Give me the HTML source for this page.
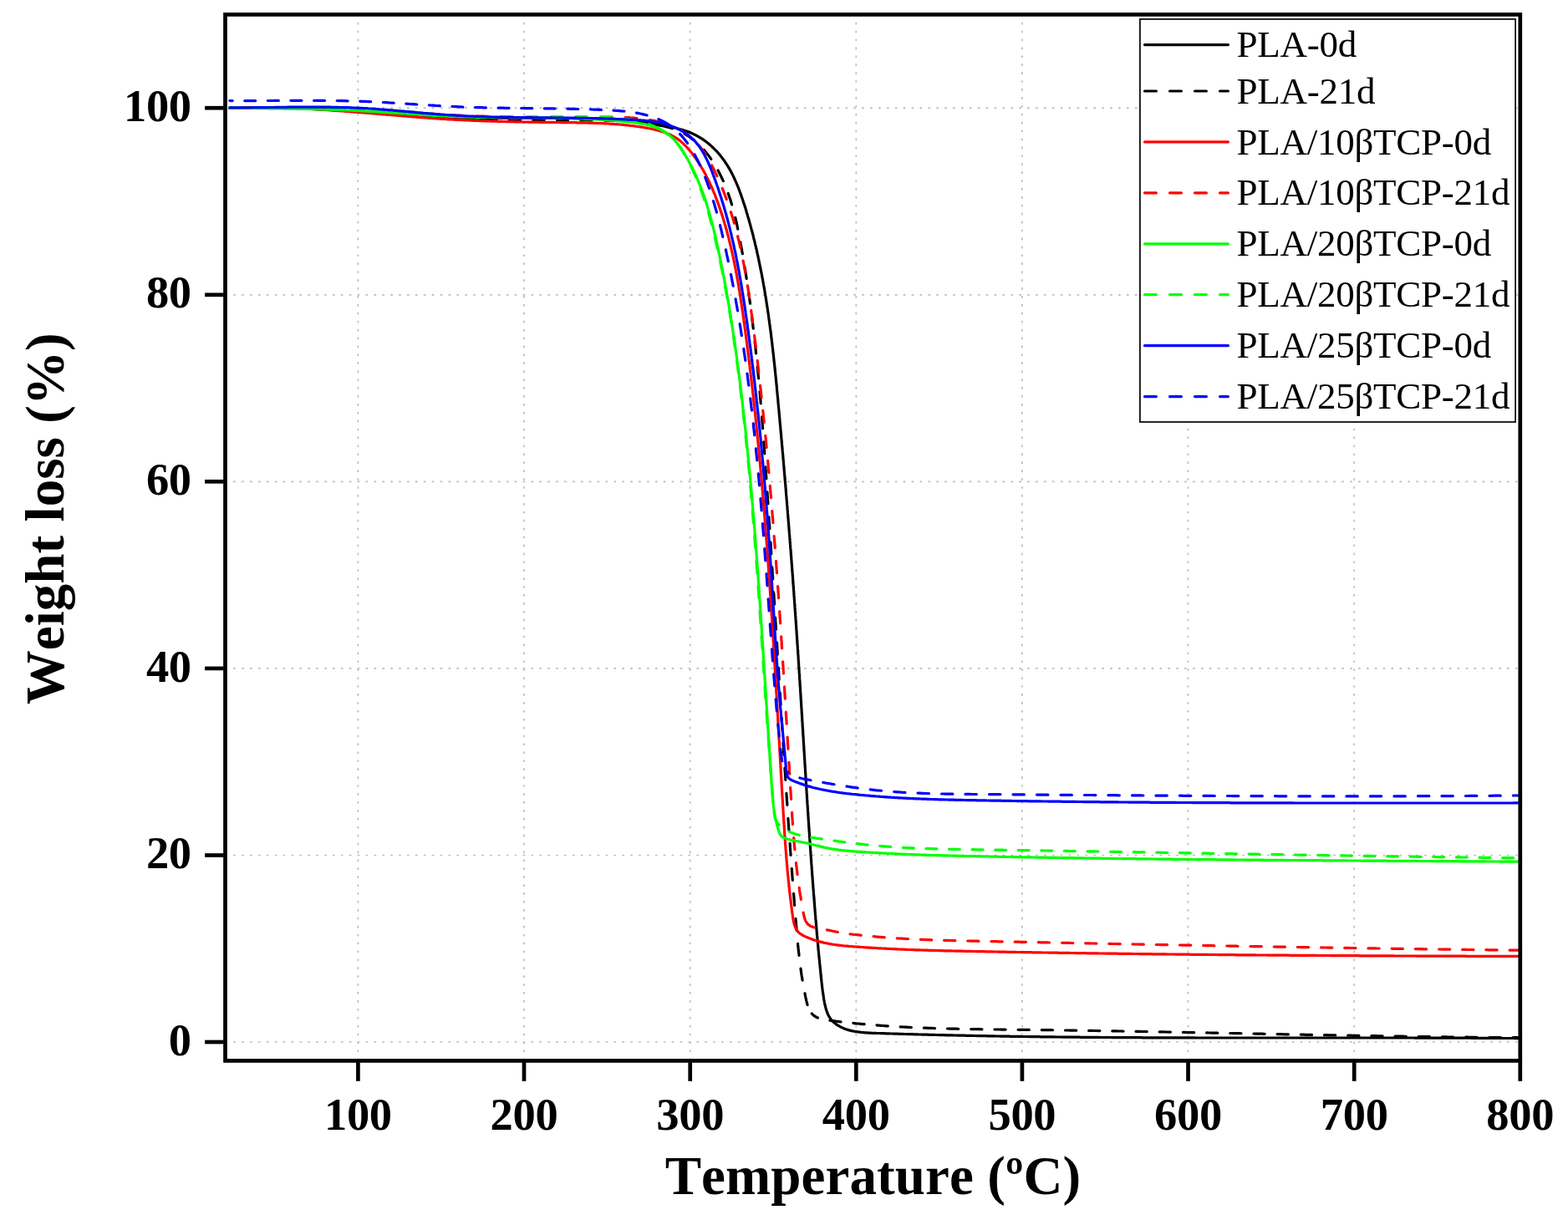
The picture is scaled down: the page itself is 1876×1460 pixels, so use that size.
<!DOCTYPE html>
<html lang="en">
<head>
<meta charset="utf-8">
<title>TGA weight loss curves</title>
<style>
html,body{margin:0;padding:0;background:#fff;}
body{width:1876px;height:1460px;overflow:hidden;}
svg{display:block;}
text{font-family:"Liberation Serif","DejaVu Serif",serif;fill:#000;font-kerning:none;font-variant-ligatures:none;}
.tick{font-weight:bold;font-size:54.5px;letter-spacing:-0.3px;}
.title{font-weight:bold;font-size:65px;letter-spacing:0.1px;}
.leg{font-size:45px;letter-spacing:-0.25px;}
.grid{stroke:#bdbdbd;stroke-width:1.7;stroke-dasharray:2.7 7.2;fill:none;}
.ax{stroke:#000;stroke-width:4.7;fill:none;}
.cv{fill:none;stroke-width:3.2;stroke-linejoin:round;stroke-linecap:round;}
.ds{stroke-dasharray:13.9 16.1;stroke-linecap:round;}
</style>
</head>
<body>
<svg width="1876" height="1460" viewBox="0 0 1876 1460">
<rect x="0" y="0" width="1876" height="1460" fill="#ffffff"/>
<defs><clipPath id="plot"><rect x="269.5" y="17.4" width="1549.3" height="1252.0"/></clipPath></defs>
<g class="grid">
<line x1="428.4" y1="16.80" x2="428.4" y2="1269.4" stroke-dasharray="2.700 7.218"/>
<line x1="627.0" y1="16.80" x2="627.0" y2="1269.4" stroke-dasharray="2.700 7.218"/>
<line x1="825.7" y1="16.80" x2="825.7" y2="1269.4" stroke-dasharray="2.700 7.218"/>
<line x1="1024.3" y1="16.80" x2="1024.3" y2="1269.4" stroke-dasharray="2.700 7.218"/>
<line x1="1222.9" y1="16.80" x2="1222.9" y2="1269.4" stroke-dasharray="2.700 7.218"/>
<line x1="1421.5" y1="16.80" x2="1421.5" y2="1269.4" stroke-dasharray="2.700 7.218"/>
<line x1="1620.2" y1="16.80" x2="1620.2" y2="1269.4" stroke-dasharray="2.700 7.218"/>
<line x1="269.32" y1="1247.0" x2="1818.8" y2="1247.0" stroke-dasharray="2.700 7.195"/>
<line x1="269.32" y1="1023.5" x2="1818.8" y2="1023.5" stroke-dasharray="2.700 7.195"/>
<line x1="269.32" y1="799.9" x2="1818.8" y2="799.9" stroke-dasharray="2.700 7.195"/>
<line x1="269.32" y1="576.3" x2="1818.8" y2="576.3" stroke-dasharray="2.700 7.195"/>
<line x1="269.32" y1="352.8" x2="1818.8" y2="352.8" stroke-dasharray="2.700 7.195"/>
<line x1="269.32" y1="129.2" x2="1818.8" y2="129.2" stroke-dasharray="2.700 7.195"/>
</g>
<g clip-path="url(#plot)">
<path class="cv" stroke="#000000" d="M274.8 129.2L276.8 129.1 278.8 129.0 280.8 129.0 282.8 128.9 284.8 128.9 286.8 128.9 288.8 128.8 290.8 128.8 292.8 128.8 294.8 128.7 296.8 128.7 298.8 128.7 300.8 128.7 302.8 128.7 304.8 128.7 306.8 128.7 308.8 128.7 310.8 128.7 312.8 128.7 314.8 128.7 316.8 128.7 318.8 128.8 320.8 128.8 322.8 128.8 324.8 128.8 326.8 128.9 328.8 128.9 330.8 129.0 332.8 129.0 334.8 129.0 336.8 129.1 338.8 129.1 340.8 129.2 342.8 129.3 344.8 129.3 346.8 129.4 348.8 129.4 350.8 129.5 352.8 129.6 354.8 129.7 356.8 129.7 358.8 129.8 360.8 129.9 362.8 130.0 364.8 130.1 366.7 130.1 368.7 130.2 370.7 130.3 372.7 130.4 374.7 130.5 376.7 130.6 378.7 130.7 380.7 130.8 382.7 130.9 384.7 131.0 386.7 131.1 388.7 131.2 390.7 131.3 392.7 131.4 394.7 131.5 396.7 131.7 398.7 131.8 400.7 131.9 402.7 132.0 404.7 132.1 406.7 132.2 408.7 132.4 410.6 132.5 412.6 132.6 414.6 132.7 416.6 132.9 418.6 133.0 420.6 133.1 422.6 133.2 424.6 133.4 426.6 133.5 428.6 133.6 430.6 133.7 432.6 133.9 434.6 134.0 436.6 134.1 438.6 134.3 440.6 134.4 442.6 134.5 444.6 134.7 446.6 134.8 448.5 134.9 450.5 135.0 452.5 135.2 454.5 135.3 456.5 135.4 458.5 135.6 460.5 135.7 462.5 135.8 464.5 136.0 466.5 136.1 468.5 136.2 470.5 136.4 472.5 136.5 474.5 136.6 476.5 136.7 478.5 136.9 480.5 137.0 482.5 137.1 484.4 137.2 486.4 137.4 488.4 137.5 490.4 137.6 492.4 137.7 494.4 137.9 496.4 138.0 498.4 138.1 500.4 138.2 502.4 138.3 504.4 138.4 506.4 138.6 508.4 138.7 510.4 138.8 512.4 138.9 514.4 139.0 516.4 139.1 518.4 139.2 520.4 139.3 522.4 139.4 524.4 139.5 526.3 139.6 528.3 139.7 530.3 139.8 532.3 139.9 534.3 140.0 536.3 140.1 538.3 140.1 540.3 140.2 542.3 140.3 544.3 140.4 546.3 140.5 548.3 140.5 550.3 140.6 552.3 140.7 554.3 140.7 556.3 140.8 558.3 140.9 560.3 140.9 562.3 141.0 564.3 141.0 566.3 141.1 568.3 141.1 570.3 141.2 572.3 141.2 574.3 141.3 576.3 141.3 578.3 141.3 580.3 141.4 582.3 141.4 584.3 141.4 586.3 141.4 588.3 141.4 590.3 141.5 592.3 141.5 594.3 141.5 596.3 141.5 598.3 141.5 600.3 141.5 602.3 141.5 604.3 141.5 606.3 141.5 608.3 141.5 610.3 141.5 612.3 141.5 614.3 141.5 616.3 141.5 618.2 141.5 620.2 141.5 622.2 141.5 624.2 141.5 626.2 141.5 628.2 141.5 630.2 141.5 632.2 141.5 634.2 141.4 636.2 141.4 638.2 141.4 640.2 141.4 642.2 141.4 644.2 141.4 646.2 141.4 648.2 141.4 650.2 141.4 652.2 141.4 654.2 141.4 656.2 141.4 658.2 141.4 660.2 141.4 662.2 141.4 664.2 141.4 666.2 141.4 668.2 141.4 670.2 141.4 672.2 141.4 674.2 141.4 676.2 141.5 678.2 141.5 680.2 141.5 682.2 141.5 684.2 141.5 686.2 141.6 688.2 141.6 690.2 141.6 692.2 141.7 694.2 141.7 696.2 141.8 698.2 141.8 700.2 141.9 702.2 141.9 704.2 142.0 706.2 142.0 708.2 142.1 710.2 142.2 712.2 142.3 714.2 142.3 716.2 142.4 718.1 142.5 720.1 142.6 722.1 142.7 724.1 142.8 726.1 142.9 728.1 143.0 730.1 143.1 732.1 143.3 734.1 143.4 736.1 143.5 738.1 143.7 740.1 143.8 742.1 144.0 744.1 144.1 746.0 144.3 748.0 144.4 750.0 144.6 752.0 144.8 754.0 145.0 756.0 145.2 758.0 145.4 760.0 145.6 762.0 145.8 764.0 146.0 765.9 146.3 767.9 146.5 769.9 146.7 771.9 147.0 773.9 147.2 775.9 147.5 777.9 147.8 779.8 148.1 781.8 148.4 783.8 148.7 785.8 149.0 787.8 149.3 789.8 149.6 791.8 149.9 793.7 150.3 795.7 150.6 797.7 151.0 799.7 151.4 801.6 151.7 803.6 152.2 805.6 152.6 807.5 153.0 809.5 153.5 811.4 154.0 813.3 154.5 815.2 155.1 817.1 155.6 819.0 156.2 820.9 156.9 822.8 157.5 824.6 158.2 826.5 159.0 828.3 159.8 830.1 160.6 831.8 161.5 833.6 162.4 835.3 163.3 837.0 164.3 838.7 165.4 840.4 166.4 842.0 167.6 843.7 168.7 845.3 169.9 846.8 171.2 848.4 172.4 849.9 173.7 851.4 175.1 852.9 176.5 854.3 177.9 855.7 179.3 857.1 180.7 858.5 182.2 859.8 183.7 861.1 185.3 862.3 186.8 863.6 188.4 864.8 190.0 866.0 191.6 867.1 193.2 868.2 194.9 869.3 196.5 870.4 198.2 871.4 199.9 872.4 201.6 873.4 203.3 874.4 205.1 875.3 206.8 876.2 208.6 877.1 210.4 878.0 212.2 878.8 214.0 879.6 215.8 880.4 217.6 881.2 219.4 882.0 221.3 882.8 223.1 883.5 225.0 884.2 226.8 884.9 228.7 885.6 230.6 886.3 232.5 887.0 234.4 887.6 236.3 888.3 238.2 888.9 240.1 889.5 242.0 890.2 243.9 890.8 245.8 891.4 247.7 892.0 249.6 892.6 251.6 893.1 253.5 893.7 255.4 894.3 257.3 894.8 259.2 895.4 261.2 896.0 263.1 896.5 265.0 897.0 266.9 897.6 268.9 898.1 270.8 898.6 272.7 899.1 274.7 899.7 276.6 900.2 278.5 900.7 280.5 901.2 282.4 901.6 284.4 902.1 286.3 902.6 288.2 903.1 290.2 903.5 292.1 904.0 294.1 904.5 296.0 904.9 298.0 905.4 299.9 905.8 301.9 906.2 303.8 906.7 305.8 907.1 307.7 907.5 309.7 907.9 311.6 908.3 313.6 908.7 315.5 909.1 317.5 909.5 319.4 909.9 321.4 910.3 323.3 910.7 325.3 911.1 327.3 911.5 329.2 911.8 331.2 912.2 333.1 912.6 335.1 912.9 337.1 913.3 339.0 913.6 341.0 914.0 343.0 914.3 344.9 914.7 346.9 915.0 348.9 915.3 350.8 915.6 352.8 916.0 354.8 916.3 356.8 916.6 358.7 916.9 360.7 917.2 362.7 917.5 364.7 917.8 366.6 918.1 368.6 918.4 370.6 918.7 372.6 919.0 374.5 919.3 376.5 919.6 378.5 919.8 380.5 920.1 382.4 920.4 384.4 920.6 386.4 920.9 388.4 921.2 390.4 921.4 392.4 921.7 394.3 922.0 396.3 922.2 398.3 922.5 400.3 922.7 402.3 922.9 404.3 923.2 406.2 923.4 408.2 923.7 410.2 923.9 412.2 924.1 414.2 924.4 416.2 924.6 418.2 924.8 420.1 925.0 422.1 925.3 424.1 925.5 426.1 925.7 428.1 925.9 430.1 926.1 432.1 926.3 434.1 926.6 436.1 926.8 438.1 927.0 440.0 927.2 442.0 927.4 444.0 927.6 446.0 927.8 448.0 928.0 450.0 928.2 452.0 928.4 454.0 928.6 456.0 928.8 458.0 929.0 460.0 929.2 462.0 929.4 463.9 929.5 465.9 929.7 467.9 929.9 469.9 930.1 471.9 930.3 473.9 930.5 475.9 930.7 477.9 930.9 479.9 931.0 481.9 931.2 483.9 931.4 485.9 931.6 487.9 931.8 489.9 932.0 491.8 932.1 493.8 932.3 495.8 932.5 497.8 932.7 499.8 932.9 501.8 933.0 503.8 933.2 505.8 933.4 507.8 933.6 509.8 933.8 511.8 933.9 513.8 934.1 515.8 934.3 517.7 934.5 519.7 934.7 521.7 934.8 523.7 935.0 525.7 935.2 527.7 935.4 529.7 935.5 531.7 935.7 533.7 935.9 535.7 936.1 537.7 936.2 539.7 936.4 541.7 936.6 543.6 936.8 545.6 936.9 547.6 937.1 549.6 937.3 551.6 937.4 553.6 937.6 555.6 937.8 557.6 938.0 559.6 938.1 561.6 938.3 563.6 938.5 565.6 938.6 567.5 938.8 569.5 939.0 571.5 939.1 573.5 939.3 575.5 939.5 577.5 939.7 579.5 939.8 581.5 940.0 583.5 940.2 585.5 940.3 587.5 940.5 589.5 940.6 591.4 940.8 593.4 941.0 595.4 941.1 597.4 941.3 599.4 941.5 601.4 941.6 603.4 941.8 605.4 942.0 607.4 942.1 609.4 942.3 611.4 942.4 613.4 942.6 615.3 942.8 617.3 942.9 619.3 943.1 621.3 943.2 623.3 943.4 625.3 943.6 627.3 943.7 629.3 943.9 631.3 944.0 633.3 944.2 635.3 944.3 637.2 944.5 639.2 944.7 641.2 944.8 643.2 945.0 645.2 945.1 647.2 945.3 649.2 945.4 651.2 945.6 653.2 945.7 655.2 945.9 657.2 946.1 659.2 946.2 661.1 946.4 663.1 946.5 665.1 946.7 667.1 946.8 669.1 947.0 671.1 947.1 673.1 947.3 675.1 947.4 677.1 947.6 679.1 947.7 681.1 947.9 683.1 948.0 685.1 948.2 687.0 948.3 689.0 948.5 691.0 948.6 693.0 948.7 695.0 948.9 697.0 949.0 699.0 949.2 701.0 949.3 703.0 949.5 705.0 949.6 707.0 949.8 709.0 949.9 711.0 950.0 712.9 950.2 714.9 950.3 716.9 950.5 718.9 950.6 720.9 950.8 722.9 950.9 724.9 951.0 726.9 951.2 728.9 951.3 730.9 951.5 732.9 951.6 734.9 951.7 736.9 951.9 738.9 952.0 740.9 952.2 742.8 952.3 744.8 952.4 746.8 952.6 748.8 952.7 750.8 952.8 752.8 953.0 754.8 953.1 756.8 953.2 758.8 953.4 760.8 953.5 762.8 953.6 764.8 953.8 766.8 953.9 768.8 954.0 770.8 954.2 772.8 954.3 774.8 954.4 776.7 954.6 778.7 954.7 780.7 954.8 782.7 955.0 784.7 955.1 786.7 955.2 788.7 955.3 790.7 955.5 792.7 955.6 794.7 955.7 796.7 955.9 798.7 956.0 800.7 956.1 802.7 956.2 804.7 956.4 806.7 956.5 808.7 956.6 810.7 956.7 812.7 956.9 814.7 957.0 816.7 957.1 818.7 957.2 820.6 957.4 822.6 957.5 824.6 957.6 826.6 957.7 828.6 957.9 830.6 958.0 832.6 958.1 834.6 958.2 836.6 958.4 838.6 958.5 840.6 958.6 842.6 958.7 844.6 958.9 846.6 959.0 848.6 959.1 850.6 959.2 852.6 959.4 854.6 959.5 856.6 959.6 858.6 959.7 860.6 959.8 862.6 960.0 864.6 960.1 866.6 960.2 868.6 960.3 870.6 960.5 872.6 960.6 874.6 960.7 876.6 960.8 878.5 960.9 880.5 961.1 882.5 961.2 884.5 961.3 886.5 961.4 888.5 961.6 890.5 961.7 892.5 961.8 894.5 961.9 896.5 962.0 898.5 962.2 900.5 962.3 902.5 962.4 904.5 962.5 906.5 962.7 908.5 962.8 910.5 962.9 912.5 963.0 914.5 963.1 916.5 963.3 918.5 963.4 920.5 963.5 922.5 963.6 924.5 963.8 926.5 963.9 928.5 964.0 930.5 964.1 932.5 964.3 934.5 964.4 936.4 964.5 938.4 964.6 940.4 964.8 942.4 964.9 944.4 965.0 946.4 965.1 948.4 965.3 950.4 965.4 952.4 965.5 954.4 965.6 956.4 965.8 958.4 965.9 960.4 966.0 962.4 966.2 964.4 966.3 966.4 966.4 968.4 966.5 970.4 966.7 972.4 966.8 974.4 966.9 976.4 967.1 978.4 967.2 980.3 967.3 982.3 967.5 984.3 967.6 986.3 967.7 988.3 967.9 990.3 968.0 992.3 968.1 994.3 968.3 996.3 968.4 998.3 968.5 1000.3 968.7 1002.3 968.8 1004.3 968.9 1006.3 969.1 1008.3 969.2 1010.3 969.3 1012.3 969.5 1014.3 969.6 1016.2 969.8 1018.2 969.9 1020.2 970.0 1022.2 970.2 1024.2 970.3 1026.2 970.5 1028.2 970.6 1030.2 970.7 1032.2 970.9 1034.2 971.0 1036.2 971.2 1038.2 971.3 1040.2 971.5 1042.1 971.6 1044.1 971.7 1046.1 971.9 1048.1 972.0 1050.1 972.2 1052.1 972.3 1054.1 972.5 1056.1 972.6 1058.1 972.8 1060.1 972.9 1062.1 973.1 1064.1 973.2 1066.0 973.4 1068.0 973.5 1070.0 973.7 1072.0 973.9 1074.0 974.0 1076.0 974.2 1078.0 974.3 1080.0 974.5 1082.0 974.6 1084.0 974.8 1085.9 975.0 1087.9 975.1 1089.9 975.3 1091.9 975.4 1093.9 975.6 1095.9 975.8 1097.9 975.9 1099.9 976.1 1101.9 976.3 1103.8 976.4 1105.8 976.6 1107.8 976.8 1109.8 976.9 1111.8 977.1 1113.8 977.3 1115.8 977.4 1117.8 977.6 1119.7 977.8 1121.7 978.0 1123.7 978.1 1125.7 978.3 1127.7 978.5 1129.7 978.7 1131.7 978.9 1133.7 979.0 1135.6 979.2 1137.6 979.4 1139.6 979.6 1141.6 979.8 1143.6 980.0 1145.6 980.2 1147.6 980.4 1149.6 980.6 1151.6 980.8 1153.6 981.0 1155.6 981.2 1157.5 981.4 1159.5 981.6 1161.5 981.8 1163.5 982.0 1165.5 982.2 1167.5 982.4 1169.5 982.6 1171.5 982.8 1173.5 983.0 1175.5 983.3 1177.5 983.5 1179.5 983.7 1181.5 984.0 1183.5 984.2 1185.5 984.5 1187.6 984.8 1189.6 985.1 1191.6 985.4 1193.6 985.7 1195.7 986.1 1197.7 986.4 1199.7 986.8 1201.7 987.3 1203.7 987.8 1205.7 988.3 1207.6 988.9 1209.5 989.6 1211.4 990.3 1213.2 991.1 1214.9 992.0 1216.6 993.0 1218.2 994.1 1219.7 995.3 1221.1 996.6 1222.5 998.0 1223.8 999.5 1225.0 1001.0 1226.1 1002.6 1227.2 1004.3 1228.1 1006.0 1229.1 1007.8 1229.9 1009.6 1230.7 1011.4 1231.4 1013.2 1232.0 1015.1 1232.6 1017.0 1233.1 1019.0 1233.6 1020.9 1234.0 1022.9 1234.4 1024.9 1234.7 1026.9 1235.0 1028.9 1235.2 1030.9 1235.5 1033.0 1235.6 1035.0 1235.8 1037.1 1235.9 1039.2 1236.1 1041.2 1236.2 1043.3 1236.3 1045.4 1236.3 1047.4 1236.4 1049.5 1236.5 1051.5 1236.5 1053.6 1236.6 1055.6 1236.7 1057.7 1236.7 1059.7 1236.8 1061.7 1236.9 1063.7 1236.9 1065.8 1237.0 1067.8 1237.0 1069.8 1237.1 1071.8 1237.2 1073.8 1237.2 1075.8 1237.3 1077.8 1237.3 1079.8 1237.4 1081.8 1237.5 1083.8 1237.5 1085.8 1237.6 1087.8 1237.6 1089.8 1237.7 1091.8 1237.7 1093.8 1237.8 1095.8 1237.9 1097.7 1237.9 1099.7 1238.0 1101.7 1238.0 1103.7 1238.1 1105.7 1238.1 1107.7 1238.2 1109.7 1238.2 1111.7 1238.3 1113.7 1238.3 1115.7 1238.4 1117.6 1238.4 1119.6 1238.5 1121.6 1238.5 1123.6 1238.6 1125.6 1238.6 1127.6 1238.7 1129.6 1238.7 1131.6 1238.8 1133.6 1238.8 1135.6 1238.9 1137.5 1238.9 1139.5 1238.9 1141.5 1239.0 1143.5 1239.0 1145.5 1239.1 1147.5 1239.1 1149.5 1239.2 1151.5 1239.2 1153.5 1239.2 1155.5 1239.3 1157.5 1239.3 1159.5 1239.4 1161.4 1239.4 1163.4 1239.4 1165.4 1239.5 1167.4 1239.5 1169.4 1239.6 1171.4 1239.6 1173.4 1239.6 1175.4 1239.7 1177.4 1239.7 1179.4 1239.7 1181.4 1239.8 1183.4 1239.8 1185.4 1239.9 1187.4 1239.9 1189.4 1239.9 1191.3 1240.0 1193.3 1240.0 1195.3 1240.0 1197.3 1240.1 1199.3 1240.1 1201.3 1240.1 1203.3 1240.2 1205.3 1240.2 1207.3 1240.2 1209.3 1240.3 1211.3 1240.3 1213.3 1240.3 1215.3 1240.3 1217.3 1240.4 1219.3 1240.4 1221.3 1240.4 1223.3 1240.5 1225.3 1240.5 1227.3 1240.5 1229.2 1240.5 1231.2 1240.6 1233.2 1240.6 1235.2 1240.6 1237.2 1240.7 1239.2 1240.7 1241.2 1240.7 1243.2 1240.7 1245.2 1240.8 1247.2 1240.8 1249.2 1240.8 1251.2 1240.8 1253.2 1240.9 1255.2 1240.9 1257.2 1240.9 1259.2 1240.9 1261.2 1240.9 1263.2 1241.0 1265.2 1241.0 1267.2 1241.0 1269.2 1241.0 1271.2 1241.1 1273.2 1241.1 1275.2 1241.1 1277.2 1241.1 1279.2 1241.1 1281.2 1241.2 1283.2 1241.2 1285.2 1241.2 1287.2 1241.2 1289.2 1241.2 1291.1 1241.2 1293.1 1241.3 1295.1 1241.3 1297.1 1241.3 1299.1 1241.3 1301.1 1241.3 1303.1 1241.3 1305.1 1241.4 1307.1 1241.4 1309.1 1241.4 1311.1 1241.4 1313.1 1241.4 1315.1 1241.4 1317.1 1241.5 1319.1 1241.5 1321.1 1241.5 1323.1 1241.5 1325.1 1241.5 1327.1 1241.5 1329.1 1241.5 1331.1 1241.6 1333.1 1241.6 1335.1 1241.6 1337.1 1241.6 1339.1 1241.6 1341.1 1241.6 1343.1 1241.6 1345.1 1241.6 1347.1 1241.7 1349.1 1241.7 1351.1 1241.7 1353.1 1241.7 1355.1 1241.7 1357.1 1241.7 1359.1 1241.7 1361.1 1241.7 1363.1 1241.7 1365.1 1241.7 1367.1 1241.8 1369.1 1241.8 1371.1 1241.8 1373.1 1241.8 1375.1 1241.8 1377.1 1241.8 1379.1 1241.8 1381.1 1241.8 1383.1 1241.8 1385.1 1241.8 1387.1 1241.8 1389.1 1241.8 1391.1 1241.8 1393.1 1241.9 1395.1 1241.9 1397.1 1241.9 1399.1 1241.9 1401.1 1241.9 1403.1 1241.9 1405.1 1241.9 1407.1 1241.9 1409.1 1241.9 1411.1 1241.9 1413.1 1241.9 1415.1 1241.9 1417.1 1241.9 1419.1 1241.9 1421.1 1241.9 1423.1 1241.9 1425.1 1241.9 1427.1 1241.9 1429.1 1241.9 1431.1 1242.0 1433.1 1242.0 1435.1 1242.0 1437.1 1242.0 1439.1 1242.0 1441.1 1242.0 1443.1 1242.0 1445.1 1242.0 1447.1 1242.0 1449.1 1242.0 1451.1 1242.0 1453.1 1242.0 1455.1 1242.0 1457.1 1242.0 1459.1 1242.0 1461.1 1242.0 1463.1 1242.0 1465.1 1242.0 1467.1 1242.0 1469.1 1242.0 1471.1 1242.0 1473.1 1242.0 1475.1 1242.0 1477.2 1242.0 1479.2 1242.0 1481.2 1242.0 1483.2 1242.0 1485.2 1242.0 1487.2 1242.0 1489.2 1242.0 1491.2 1242.0 1493.2 1242.0 1495.2 1242.0 1497.2 1242.0 1499.2 1242.0 1501.2 1242.0 1503.2 1242.0 1505.2 1242.0 1507.2 1242.0 1509.2 1242.0 1511.2 1242.0 1513.2 1242.0 1515.2 1242.0 1517.2 1242.0 1519.2 1242.0 1521.2 1242.0 1523.2 1242.0 1525.2 1242.0 1527.2 1242.0 1529.2 1242.0 1531.2 1242.0 1533.2 1242.0 1535.2 1242.0 1537.2 1242.0 1539.2 1242.0 1541.2 1242.0 1543.2 1242.0 1545.2 1242.0 1547.2 1242.0 1549.2 1242.0 1551.2 1242.0 1553.2 1242.0 1555.2 1242.0 1557.2 1242.0 1559.2 1242.0 1561.2 1242.0 1563.2 1242.0 1565.2 1242.0 1567.2 1242.0 1569.2 1242.0 1571.2 1242.0 1573.2 1242.0 1575.2 1242.0 1577.2 1242.0 1579.2 1242.0 1581.2 1242.0 1583.2 1242.0 1585.2 1242.0 1587.2 1242.0 1589.2 1242.0 1591.2 1242.0 1593.2 1242.0 1595.2 1242.0 1597.2 1242.0 1599.2 1242.0 1601.2 1242.0 1603.2 1242.0 1605.2 1242.0 1607.2 1242.0 1609.2 1242.0 1611.2 1242.0 1613.2 1242.0 1615.2 1242.0 1617.2 1242.0 1619.2 1242.0 1621.2 1242.0 1623.2 1242.0 1625.2 1242.0 1627.2 1242.0 1629.2 1242.0 1631.2 1242.0 1633.2 1242.0 1635.2 1242.0 1637.2 1242.0 1639.2 1242.0 1641.2 1242.0 1643.2 1242.0 1645.2 1242.0 1647.2 1242.0 1649.2 1242.0 1651.2 1242.0 1653.2 1242.0 1655.2 1242.0 1657.2 1242.0 1659.2 1242.0 1661.2 1242.0 1663.2 1242.0 1665.2 1242.0 1667.2 1242.0 1669.2 1242.0 1671.2 1242.0 1673.2 1242.0 1675.2 1242.0 1677.2 1242.0 1679.2 1242.0 1681.2 1242.0 1683.2 1242.0 1685.2 1242.0 1687.2 1242.0 1689.2 1242.0 1691.2 1242.0 1693.2 1242.1 1695.2 1242.1 1697.2 1242.1 1699.2 1242.1 1701.2 1242.1 1703.2 1242.1 1705.2 1242.1 1707.2 1242.1 1709.2 1242.1 1711.2 1242.1 1713.2 1242.1 1715.2 1242.1 1717.2 1242.1 1719.2 1242.1 1721.2 1242.1 1723.2 1242.1 1725.2 1242.1 1727.2 1242.1 1729.2 1242.1 1731.2 1242.1 1733.2 1242.1 1735.2 1242.2 1737.1 1242.2 1739.1 1242.2 1741.1 1242.2 1743.1 1242.2 1745.1 1242.2 1747.1 1242.2 1749.1 1242.2 1751.1 1242.2 1753.1 1242.2 1755.1 1242.2 1757.1 1242.2 1759.1 1242.2 1761.1 1242.3 1763.1 1242.3 1765.1 1242.3 1767.1 1242.3 1769.1 1242.3 1771.1 1242.3 1773.1 1242.3 1775.1 1242.3 1777.1 1242.3 1779.1 1242.3 1781.1 1242.3 1783.1 1242.4 1785.1 1242.4 1787.0 1242.4 1789.0 1242.4 1791.0 1242.4 1793.0 1242.4 1795.0 1242.4 1797.0 1242.4 1799.0 1242.5 1801.0 1242.5 1803.0 1242.5 1805.0 1242.5 1807.0 1242.5 1809.0 1242.5 1811.0 1242.5 1813.0 1242.6 1815.0 1242.6 1817.0 1242.6"/>
<path class="cv" stroke="#000000" stroke-dasharray="13.39 15.11" stroke-dashoffset="7.03" d="M274.8 129.3L276.8 129.3 278.8 129.2 280.8 129.1 282.8 129.0 284.8 129.0 286.8 128.9 288.8 128.9 290.8 128.8 292.8 128.8 294.8 128.7 296.8 128.7 298.8 128.7 300.8 128.6 302.8 128.6 304.8 128.6 306.8 128.6 308.8 128.6 310.8 128.6 312.8 128.6 314.8 128.6 316.8 128.6 318.8 128.6 320.8 128.6 322.8 128.6 324.8 128.6 326.8 128.6 328.8 128.7 330.8 128.7 332.8 128.7 334.8 128.8 336.8 128.8 338.8 128.9 340.8 128.9 342.8 129.0 344.8 129.0 346.8 129.1 348.8 129.1 350.8 129.2 352.8 129.3 354.8 129.3 356.8 129.4 358.8 129.5 360.8 129.6 362.8 129.6 364.8 129.7 366.8 129.8 368.8 129.9 370.8 130.0 372.8 130.1 374.8 130.2 376.8 130.3 378.8 130.4 380.8 130.5 382.8 130.6 384.8 130.7 386.8 130.8 388.8 130.9 390.8 131.0 392.8 131.1 394.8 131.3 396.7 131.4 398.7 131.5 400.7 131.6 402.7 131.8 404.7 131.9 406.7 132.0 408.7 132.1 410.7 132.3 412.7 132.4 414.7 132.5 416.7 132.7 418.7 132.8 420.7 132.9 422.7 133.1 424.7 133.2 426.7 133.3 428.7 133.5 430.6 133.6 432.6 133.8 434.6 133.9 436.6 134.1 438.6 134.2 440.6 134.3 442.6 134.5 444.6 134.6 446.6 134.8 448.6 134.9 450.6 135.1 452.6 135.2 454.6 135.4 456.6 135.5 458.6 135.7 460.6 135.8 462.5 136.0 464.5 136.1 466.5 136.3 468.5 136.4 470.5 136.6 472.5 136.7 474.5 136.9 476.5 137.0 478.5 137.1 480.5 137.3 482.5 137.4 484.5 137.6 486.5 137.7 488.5 137.9 490.5 138.0 492.4 138.2 494.4 138.3 496.4 138.4 498.4 138.6 500.4 138.7 502.4 138.9 504.4 139.0 506.4 139.1 508.4 139.3 510.4 139.4 512.4 139.5 514.4 139.7 516.4 139.8 518.4 139.9 520.4 140.0 522.4 140.2 524.4 140.3 526.4 140.4 528.4 140.5 530.3 140.6 532.3 140.8 534.3 140.9 536.3 141.0 538.3 141.1 540.3 141.2 542.3 141.3 544.3 141.4 546.3 141.5 548.3 141.6 550.3 141.7 552.3 141.8 554.3 141.9 556.3 142.0 558.3 142.1 560.3 142.1 562.3 142.2 564.3 142.3 566.3 142.4 568.3 142.5 570.3 142.5 572.3 142.6 574.3 142.7 576.3 142.7 578.3 142.8 580.3 142.8 582.3 142.9 584.3 142.9 586.3 143.0 588.3 143.0 590.3 143.1 592.3 143.1 594.3 143.1 596.3 143.2 598.3 143.2 600.3 143.2 602.3 143.3 604.3 143.3 606.3 143.3 608.3 143.3 610.3 143.4 612.3 143.4 614.3 143.4 616.3 143.4 618.3 143.4 620.3 143.4 622.3 143.5 624.3 143.5 626.3 143.5 628.3 143.5 630.3 143.5 632.3 143.5 634.3 143.5 636.3 143.5 638.3 143.5 640.3 143.5 642.3 143.5 644.3 143.5 646.3 143.5 648.3 143.5 650.3 143.5 652.3 143.5 654.3 143.5 656.3 143.5 658.3 143.5 660.3 143.5 662.3 143.5 664.3 143.5 666.3 143.5 668.3 143.5 670.3 143.5 672.3 143.5 674.3 143.5 676.3 143.5 678.3 143.6 680.3 143.6 682.3 143.6 684.3 143.6 686.3 143.6 688.3 143.6 690.3 143.6 692.3 143.6 694.3 143.6 696.3 143.7 698.3 143.7 700.3 143.7 702.3 143.7 704.3 143.7 706.3 143.8 708.3 143.8 710.3 143.8 712.3 143.8 714.3 143.9 716.2 143.9 718.2 143.9 720.2 144.0 722.2 144.0 724.2 144.1 726.2 144.1 728.2 144.2 730.2 144.2 732.2 144.3 734.2 144.4 736.2 144.4 738.2 144.5 740.1 144.6 742.1 144.7 744.1 144.8 746.1 144.9 748.1 145.0 750.1 145.1 752.1 145.3 754.1 145.4 756.1 145.6 758.1 145.7 760.0 145.9 762.0 146.1 764.0 146.3 766.0 146.5 768.0 146.7 770.0 147.0 772.0 147.2 774.0 147.5 776.0 147.8 778.0 148.1 780.0 148.4 782.0 148.7 784.0 149.1 786.0 149.4 788.0 149.8 789.9 150.2 790.9 150.4"/>
<path class="cv" stroke="#000000" stroke-dasharray="14.15 15.95" stroke-dashoffset="0.22" d="M790.9 150.4L792.9 150.8 794.9 151.3 796.9 151.7 798.9 152.2 800.9 152.8 802.8 153.3 804.7 153.9 806.7 154.6 808.6 155.3 810.4 156.0 812.3 156.8 814.1 157.6 815.8 158.4 817.6 159.3 819.3 160.3 821.0 161.3 822.7 162.3 824.3 163.4 825.9 164.5 827.5 165.7 829.1 166.9 830.6 168.1 832.1 169.4 833.6 170.7 835.1 172.0 836.5 173.4 837.9 174.8 839.3 176.2 840.7 177.7 842.0 179.1 843.3 180.6 844.6 182.2 845.8 183.7 847.1 185.3 848.3 186.9 849.5 188.5 850.6 190.2 851.8 191.9 852.9 193.5 854.0 195.3 855.0 197.0 856.1 198.7 857.1 200.4 858.1 202.2 859.1 204.0 860.0 205.8 861.0 207.6 861.9 209.4 862.8 211.2 863.6 213.0 864.5 214.8 865.3 216.6 866.1 218.5 866.9 220.3 867.7 222.2 868.4 224.0 869.1 225.9 869.9 227.8 870.6 229.6 871.2 231.5 871.9 233.4 872.5 235.3 873.2 237.2 873.8 239.1 874.4 241.0 875.0 242.9 875.5 244.8 876.1 246.7 876.6 248.6 877.2 250.5 877.7 252.5 878.2 254.4 878.7 256.3 879.2 258.3 879.7 260.2 880.1 262.2 880.6 264.1 881.0 266.0 881.5 268.0 881.9 269.9 882.3 271.9 882.7 273.9 883.1 275.8 883.5 277.8 883.9 279.7 884.3 281.7 884.7 283.7 885.0 285.6 885.4 287.6 885.8 289.6 886.1 291.5 886.5 293.5 886.9 295.5 887.2 297.4 887.6 299.4 887.9 301.4 888.3 303.3 888.6 305.3 888.9 307.3 889.3 309.3 889.6 311.2 889.9 313.2 890.3 315.2 890.6 317.2 890.9 319.1 891.2 321.1 891.6 323.1 891.9 325.0 892.2 327.0 892.5 329.0 892.8 331.0 893.1 332.9 893.4 334.9 893.7 336.9 894.0 338.9 894.3 340.9 894.6 342.8 894.9 344.8 895.2 346.8 895.5 348.8 895.8 350.7 896.0 352.7 896.3 354.7 896.6 356.7 896.9 358.7 897.1 360.6 897.4 362.6 897.7 364.6 897.9 366.6 898.2 368.6 898.5 370.5 898.7 372.5 899.0 374.5 899.2 376.5 899.5 378.5 899.7 380.5 900.0 382.4 900.2 384.4 900.5 386.4 900.7 388.4 900.9 390.4 901.2 392.4 901.4 394.4 901.7 396.3 901.9 398.3 902.1 400.3 902.3 402.3 902.6 404.3 902.8 406.3 903.0 408.3 903.2 410.2 903.5 412.2 903.7 414.2 903.9 416.2 904.1 418.2 904.3 420.2 904.5 422.2 904.7 424.2 904.9 426.1 905.1 428.1 905.4 430.1 905.6 432.1 905.8 434.1 906.0 436.1 906.1 438.1 906.3 440.1 906.5 442.1 906.7 444.0 906.9 446.0 907.1 448.0 907.3 450.0 907.5 452.0 907.7 454.0 907.9 456.0 908.0 458.0 908.2 460.0 908.4 462.0 908.6 464.0 908.8 466.0 908.9 467.9 909.1 469.9 909.3 471.9 909.5 473.9 909.6 475.9 909.8 477.9 910.0 479.9 910.1 481.9 910.3 483.9 910.5 485.9 910.6 487.9 910.8 489.9 911.0 491.9 911.1 493.9 911.3 495.9 911.4 497.8 911.6 499.8 911.8 501.8 911.9 503.8 912.1 505.8 912.2 507.8 912.4 509.8 912.5 511.8 912.7 513.8 912.8 515.8 913.0 517.8 913.1 519.8 913.3 521.8 913.4 523.8 913.6 525.8 913.7 527.8 913.9 529.8 914.0 531.8 914.2 533.8 914.3 535.7 914.4 537.7 914.6 539.7 914.7 541.7 914.9 543.7 915.0 545.7 915.1 547.7 915.3 549.7 915.4 551.7 915.6 553.7 915.7 555.7 915.8 557.7 916.0 559.7 916.1 561.7 916.3 563.7 916.4 565.7 916.5 567.7 916.7 569.7 916.8 571.7 916.9 573.7 917.1 575.7 917.2 577.7 917.3 579.7 917.5 581.7 917.6 583.6 917.7 585.6 917.9 587.6 918.0 589.6 918.1 591.6 918.3 593.6 918.4 595.6 918.5 597.6 918.7 599.6 918.8 601.6 918.9 603.6 919.1 605.6 919.2 607.6 919.3 609.6 919.5 611.6 919.6 613.6 919.7 615.6 919.9 617.6 920.0 619.6 920.1 621.6 920.2 623.6 920.4 625.6 920.5 627.6 920.6 629.5 920.8 631.5 920.9 633.5 921.0 635.5 921.2 637.5 921.3 639.5 921.4 641.5 921.5 643.5 921.7 645.5 921.8 647.5 921.9 649.5 922.1 651.5 922.2 653.5 922.3 655.5 922.4 657.5 922.6 659.5 922.7 661.5 922.8 663.5 922.9 665.5 923.1 667.5 923.2 669.5 923.3 671.4 923.5 673.4 923.6 675.4 923.7 677.4 923.8 679.4 924.0 681.4 924.1 683.4 924.2 685.4 924.3 687.4 924.5 689.4 924.6 691.4 924.7 693.4 924.8 695.4 925.0 697.4 925.1 699.4 925.2 701.4 925.4 703.4 925.5 705.4 925.6 707.4 925.7 709.4 925.9 711.3 926.0 713.3 926.1 715.3 926.2 717.3 926.4 719.3 926.5 721.3 926.6 723.3 926.7 725.3 926.9 727.3 927.0 729.3 927.1 731.3 927.2 733.3 927.4 735.3 927.5 737.3 927.6 739.3 927.7 741.3 927.8 743.3 928.0 745.3 928.1 747.3 928.2 749.3 928.3 751.2 928.5 753.2 928.6 755.2 928.7 757.2 928.8 759.2 929.0 761.2 929.1 763.2 929.2 765.2 929.3 767.2 929.5 769.2 929.6 771.2 929.7 773.2 929.8 775.2 930.0 777.2 930.1 779.2 930.2 781.2 930.3 783.2 930.5 785.2 930.6 787.2 930.7 789.2 930.8 791.2 931.0 793.1 931.1 795.1 931.2 797.1 931.3 799.1 931.5 801.1 931.6 803.1 931.7 805.1 931.8 807.1 931.9 809.1 932.1 811.1 932.2 813.1 932.3 815.1 932.4 817.1 932.6 819.1 932.7 821.1 932.8 823.1 932.9 825.1 933.1 827.1 933.2 829.1 933.3 831.1 933.4 833.1 933.6 835.1 933.7 837.0 933.8 839.0 933.9 841.0 934.1 843.0 934.2 845.0 934.3 847.0 934.4 849.0 934.6 851.0 934.7 853.0 934.8 855.0 934.9 857.0 935.1 859.0 935.2 861.0 935.3 863.0 935.5 865.0 935.6 867.0 935.7 869.0 935.8 871.0 936.0 873.0 936.1 875.0 936.2 877.0 936.3 879.0 936.5 881.0 936.6 883.0 936.7 884.9 936.8 886.9 937.0 888.9 937.1 890.9 937.2 892.9 937.4 894.9 937.5 896.9 937.6 898.9 937.7 900.9 937.9 902.9 938.0 904.9 938.1 906.9 938.3 908.9 938.4 910.9 938.5 912.9 938.6 914.9 938.8 916.9 938.9 918.9 939.0 920.9 939.2 922.9 939.3 924.9 939.4 926.9 939.6 928.9 939.7 930.9 939.8 932.9 940.0 934.9 940.1 936.8 940.2 938.8 940.3 940.8 940.5 942.8 940.6 944.8 940.7 946.8 940.9 948.8 941.0 950.8 941.1 952.8 941.3 954.8 941.4 956.8 941.5 958.8 941.7 960.8 941.8 962.8 942.0 964.8 942.1 966.8 942.2 968.8 942.4 970.8 942.5 972.8 942.6 974.8 942.8 976.8 942.9 978.8 943.0 980.8 943.2 982.8 943.3 984.7 943.5 986.7 943.6 988.7 943.7 990.7 943.9 992.7 944.0 994.7 944.2 996.7 944.3 998.7 944.4 1000.7 944.6 1002.7 944.7 1004.7 944.9 1006.7 945.0 1008.7 945.2 1010.7 945.3 1012.7 945.4 1014.7 945.6 1016.7 945.7 1018.7 945.9 1020.6 946.0 1022.6 946.2 1024.6 946.3 1026.6 946.5 1028.6 946.6 1030.6 946.8 1032.6 946.9 1034.6 947.0 1036.6 947.2 1038.6 947.3 1040.6 947.5 1042.6 947.6 1044.6 947.8 1046.6 947.9 1048.6 948.1 1050.5 948.2 1052.5 948.4 1054.5 948.6 1056.5 948.7 1058.5 948.9 1060.5 949.0 1062.5 949.2 1064.5 949.3 1066.5 949.5 1068.5 949.6 1070.5 949.8 1072.5 949.9 1074.5 950.1 1076.4 950.3 1078.4 950.4 1080.4 950.6 1082.4 950.7 1084.4 950.9 1086.4 951.1 1088.4 951.2 1090.4 951.4 1092.4 951.5 1094.4 951.7 1096.4 951.9 1098.3 952.0 1100.3 952.2 1102.3 952.4 1104.3 952.5 1106.3 952.7 1108.3 952.9 1110.3 953.0 1112.3 953.2 1114.3 953.4 1116.3 953.6 1118.2 953.7 1120.2 953.9 1122.2 954.1 1124.2 954.3 1126.2 954.5 1128.2 954.6 1130.2 954.8 1132.2 955.0 1134.2 955.2 1136.1 955.4 1138.1 955.7 1140.1 955.9 1142.1 956.1 1144.1 956.3 1146.1 956.6 1148.1 956.8 1150.1 957.0 1152.1 957.3 1154.1 957.5 1156.1 957.8 1158.1 958.1 1160.1 958.4 1162.1 958.6 1164.1 958.9 1166.0 959.2 1168.0 959.6 1170.0 959.9 1172.0 960.2 1174.0 960.5 1176.0 960.9 1178.0 961.2 1180.0 961.6 1182.0 962.0 1184.0 962.4 1186.1 962.8 1188.1 963.2 1190.1 963.6 1192.1 964.0 1194.1 964.5 1196.1 964.9 1198.1 965.4 1200.1 965.9 1202.0 966.5 1203.9 967.2 1205.8 967.9 1207.6 968.7 1209.3 969.7 1210.8 970.7 1212.3 971.3 1213.0"/>
<path class="cv" stroke="#000000" stroke-dasharray="13.25 14.95" stroke-dashoffset="4.48" d="M971.3 1213.0L972.5 1214.3 973.9 1215.4 975.4 1216.5 977.0 1217.4 978.7 1218.2 980.4 1218.8 982.3 1219.4 984.2 1219.9 986.1 1220.3 988.1 1220.6 990.1 1220.9 992.1 1221.2 994.1 1221.4 996.1 1221.7 998.1 1221.9 1000.2 1222.2 1002.2 1222.4 1004.2 1222.7 1006.2 1222.9 1008.2 1223.1 1010.2 1223.3 1012.2 1223.6 1014.2 1223.8 1016.3 1224.0 1018.3 1224.2 1020.3 1224.4 1022.3 1224.6 1024.3 1224.8 1026.3 1225.0 1028.3 1225.2 1030.3 1225.4 1032.3 1225.6 1034.3 1225.7 1036.4 1225.9 1038.4 1226.1 1040.4 1226.3 1042.4 1226.4 1044.4 1226.6 1046.4 1226.8 1048.4 1226.9 1050.4 1227.1 1052.4 1227.2 1054.4 1227.4 1056.4 1227.5 1058.4 1227.6 1060.4 1227.8 1062.4 1227.9 1064.4 1228.0 1066.4 1228.2 1068.4 1228.3 1070.4 1228.4 1072.4 1228.5 1074.4 1228.6 1076.4 1228.8 1078.4 1228.9 1080.4 1229.0 1082.4 1229.1 1084.5 1229.2 1086.5 1229.3 1088.5 1229.4 1090.5 1229.5 1092.5 1229.6 1094.5 1229.7 1096.5 1229.7 1098.5 1229.8 1100.4 1229.9 1102.4 1230.0 1104.4 1230.1 1106.4 1230.1 1108.4 1230.2 1110.4 1230.3 1112.4 1230.4 1114.4 1230.4 1116.4 1230.5 1118.4 1230.6 1120.4 1230.6 1122.4 1230.7 1124.4 1230.7 1126.4 1230.8 1128.4 1230.9 1130.4 1230.9 1132.4 1231.0 1134.4 1231.0 1136.4 1231.1 1138.4 1231.1 1140.4 1231.2 1142.4 1231.2 1144.4 1231.2 1146.4 1231.3 1148.4 1231.3 1150.4 1231.4 1152.4 1231.4 1154.4 1231.4 1156.4 1231.5 1158.4 1231.5 1160.4 1231.6 1162.3 1231.6 1164.3 1231.6 1166.3 1231.6 1168.3 1231.7 1170.3 1231.7 1172.3 1231.7 1174.3 1231.8 1176.3 1231.8 1178.3 1231.8 1180.3 1231.8 1182.3 1231.9 1184.3 1231.9 1186.3 1231.9 1188.3 1231.9 1190.3 1232.0 1192.3 1232.0 1194.3 1232.0 1196.3 1232.0 1198.3 1232.1 1200.3 1232.1 1202.2 1232.1 1204.2 1232.1 1206.2 1232.1 1208.2 1232.2 1210.2 1232.2 1212.2 1232.2 1214.2 1232.2 1216.2 1232.2 1218.2 1232.3 1220.2 1232.3 1222.2 1232.3 1224.2 1232.3 1226.2 1232.4 1228.2 1232.4 1230.2 1232.4 1232.2 1232.4 1234.2 1232.4 1236.2 1232.5 1238.2 1232.5 1240.2 1232.5 1242.2 1232.5 1244.2 1232.6 1246.1 1232.6 1248.1 1232.6 1250.1 1232.6 1252.1 1232.7 1254.1 1232.7 1256.1 1232.7 1258.1 1232.7 1260.1 1232.8 1262.1 1232.8 1264.1 1232.8 1266.1 1232.9 1268.1 1232.9 1270.1 1232.9 1272.1 1232.9 1274.1 1233.0 1276.1 1233.0 1278.1 1233.0 1280.1 1233.1 1282.1 1233.1 1284.1 1233.1 1286.1 1233.1 1288.1 1233.2 1290.1 1233.2 1292.1 1233.2 1294.1 1233.3 1296.1 1233.3 1298.1 1233.3 1300.1 1233.4 1302.1 1233.4 1304.1 1233.4 1306.1 1233.4 1308.1 1233.5 1310.1 1233.5 1312.1 1233.5 1314.1 1233.6 1316.1 1233.6 1318.1 1233.6 1320.1 1233.7 1322.1 1233.7 1324.0 1233.7 1326.0 1233.8 1328.0 1233.8 1330.0 1233.8 1332.0 1233.9 1334.0 1233.9 1336.0 1233.9 1338.0 1234.0 1340.0 1234.0 1342.0 1234.0 1344.0 1234.1 1346.0 1234.1 1348.0 1234.1 1350.0 1234.2 1352.0 1234.2 1354.0 1234.2 1356.0 1234.3 1358.0 1234.3 1360.0 1234.4 1362.0 1234.4 1364.0 1234.4 1366.0 1234.5 1368.0 1234.5 1370.0 1234.5 1372.0 1234.6 1374.0 1234.6 1376.0 1234.6 1378.0 1234.7 1380.0 1234.7 1382.0 1234.8 1384.0 1234.8 1386.0 1234.8 1388.0 1234.9 1390.0 1234.9 1392.0 1234.9 1394.0 1235.0 1396.0 1235.0 1398.0 1235.1 1400.0 1235.1 1402.0 1235.1 1404.0 1235.2 1406.0 1235.2 1408.0 1235.2 1410.0 1235.3 1412.0 1235.3 1414.0 1235.4 1416.0 1235.4 1418.0 1235.4 1420.0 1235.5 1422.0 1235.5 1424.0 1235.6 1426.0 1235.6 1428.0 1235.6 1430.0 1235.7 1432.0 1235.7 1434.0 1235.7 1436.0 1235.8 1438.0 1235.8 1440.0 1235.9 1442.0 1235.9 1444.0 1235.9 1446.0 1236.0 1448.0 1236.0 1450.0 1236.1 1452.0 1236.1 1454.0 1236.1 1456.0 1236.2 1458.0 1236.2 1460.0 1236.3 1462.0 1236.3 1464.0 1236.3 1466.0 1236.4 1468.0 1236.4 1470.0 1236.5 1472.0 1236.5 1474.0 1236.5 1476.1 1236.6 1478.1 1236.6 1480.1 1236.7 1482.1 1236.7 1484.1 1236.7 1486.1 1236.8 1488.1 1236.8 1490.1 1236.8 1492.1 1236.9 1494.1 1236.9 1496.1 1237.0 1498.1 1237.0 1500.1 1237.0 1502.1 1237.1 1504.1 1237.1 1506.1 1237.2 1508.1 1237.2 1510.1 1237.2 1512.1 1237.3 1514.1 1237.3 1516.1 1237.4 1518.1 1237.4 1520.1 1237.4 1522.1 1237.5 1524.1 1237.5 1526.1 1237.6 1528.1 1237.6 1530.1 1237.6 1532.1 1237.7 1534.1 1237.7 1536.1 1237.8 1538.1 1237.8 1540.1 1237.8 1542.1 1237.9 1544.1 1237.9 1546.1 1237.9 1548.1 1238.0 1550.1 1238.0 1552.1 1238.1 1554.1 1238.1 1556.1 1238.1 1558.1 1238.2 1560.1 1238.2 1562.1 1238.3 1564.1 1238.3 1566.1 1238.3 1568.1 1238.4 1570.1 1238.4 1572.1 1238.4 1574.1 1238.5 1576.1 1238.5 1578.1 1238.6 1580.1 1238.6 1582.1 1238.6 1584.1 1238.7 1586.1 1238.7 1588.1 1238.7 1590.1 1238.8 1592.1 1238.8 1594.1 1238.8 1596.1 1238.9 1598.1 1238.9 1600.1 1239.0 1602.1 1239.0 1604.1 1239.0 1606.1 1239.1 1608.1 1239.1 1610.1 1239.1 1612.1 1239.2 1614.1 1239.2 1616.1 1239.2 1618.1 1239.3 1620.1 1239.3 1622.1 1239.3 1624.1 1239.4 1626.1 1239.4 1628.1 1239.4 1630.1 1239.5 1632.1 1239.5 1634.1 1239.5 1636.1 1239.6 1638.1 1239.6 1640.1 1239.6 1642.1 1239.7 1644.1 1239.7 1646.1 1239.7 1648.1 1239.8 1650.1 1239.8 1652.1 1239.8 1654.1 1239.9 1656.1 1239.9 1658.1 1239.9 1660.1 1240.0 1662.1 1240.0 1664.1 1240.0 1666.1 1240.1 1668.1 1240.1 1670.1 1240.1 1672.1 1240.2 1674.1 1240.2 1676.1 1240.2 1678.1 1240.2 1680.1 1240.3 1682.1 1240.3 1684.1 1240.3 1686.1 1240.4 1688.1 1240.4 1690.1 1240.4 1692.1 1240.5 1694.1 1240.5 1696.1 1240.5 1698.1 1240.5 1700.1 1240.6 1702.1 1240.6 1704.1 1240.6 1706.1 1240.6 1708.1 1240.7 1710.1 1240.7 1712.1 1240.7 1714.1 1240.7 1716.1 1240.8 1718.1 1240.8 1720.1 1240.8 1722.1 1240.8 1724.1 1240.9 1726.1 1240.9 1728.1 1240.9 1730.1 1240.9 1732.1 1241.0 1734.1 1241.0 1736.1 1241.0 1738.1 1241.0 1740.1 1241.1 1742.1 1241.1 1744.1 1241.1 1746.1 1241.1 1748.1 1241.1 1750.1 1241.2 1752.1 1241.2 1754.1 1241.2 1756.1 1241.2 1758.1 1241.3 1760.1 1241.3 1762.0 1241.3 1764.0 1241.3 1766.0 1241.3 1768.0 1241.3 1770.0 1241.4 1772.0 1241.4 1774.0 1241.4 1776.0 1241.4 1778.0 1241.4 1780.0 1241.5 1782.0 1241.5 1784.0 1241.5 1786.0 1241.5 1788.0 1241.5 1790.0 1241.5 1792.0 1241.5 1794.0 1241.6 1796.0 1241.6 1798.0 1241.6 1800.0 1241.6 1802.0 1241.6 1804.0 1241.6 1806.0 1241.6 1808.0 1241.7 1810.0 1241.7 1812.0 1241.7 1814.0 1241.7 1815.9 1241.7 1816.9 1241.7"/>
<path class="cv" stroke="#ff0000" d="M274.8 129.4L276.8 129.3 278.8 129.2 280.8 129.1 282.8 129.1 284.8 129.0 286.8 128.9 288.8 128.9 290.8 128.8 292.8 128.8 294.8 128.7 296.8 128.7 298.8 128.7 300.8 128.7 302.8 128.6 304.8 128.6 306.8 128.6 308.8 128.6 310.8 128.6 312.8 128.6 314.8 128.6 316.8 128.6 318.8 128.6 320.8 128.7 322.8 128.7 324.8 128.7 326.8 128.8 328.8 128.8 330.8 128.8 332.8 128.9 334.8 128.9 336.8 129.0 338.8 129.0 340.8 129.1 342.8 129.2 344.8 129.2 346.8 129.3 348.8 129.4 350.8 129.4 352.8 129.5 354.8 129.6 356.8 129.7 358.8 129.8 360.8 129.9 362.8 130.0 364.8 130.1 366.8 130.2 368.8 130.3 370.8 130.4 372.8 130.5 374.8 130.6 376.8 130.7 378.8 130.8 380.7 131.0 382.7 131.1 384.7 131.2 386.7 131.3 388.7 131.5 390.7 131.6 392.7 131.7 394.7 131.9 396.7 132.0 398.7 132.1 400.7 132.3 402.7 132.4 404.7 132.6 406.7 132.7 408.6 132.9 410.6 133.0 412.6 133.1 414.6 133.3 416.6 133.5 418.6 133.6 420.6 133.8 422.6 133.9 424.6 134.1 426.6 134.2 428.6 134.4 430.6 134.6 432.5 134.7 434.5 134.9 436.5 135.0 438.5 135.2 440.5 135.4 442.5 135.5 444.5 135.7 446.5 135.9 448.5 136.0 450.5 136.2 452.5 136.4 454.4 136.5 456.4 136.7 458.4 136.9 460.4 137.0 462.4 137.2 464.4 137.4 466.4 137.5 468.4 137.7 470.4 137.9 472.4 138.0 474.4 138.2 476.4 138.4 478.3 138.5 480.3 138.7 482.3 138.8 484.3 139.0 486.3 139.2 488.3 139.3 490.3 139.5 492.3 139.6 494.3 139.8 496.3 140.0 498.3 140.1 500.3 140.3 502.3 140.4 504.2 140.6 506.2 140.7 508.2 140.9 510.2 141.0 512.2 141.2 514.2 141.3 516.2 141.4 518.2 141.6 520.2 141.7 522.2 141.9 524.2 142.0 526.2 142.1 528.2 142.3 530.2 142.4 532.2 142.5 534.2 142.6 536.1 142.8 538.1 142.9 540.1 143.0 542.1 143.1 544.1 143.2 546.1 143.3 548.1 143.4 550.1 143.5 552.1 143.6 554.1 143.7 556.1 143.8 558.1 143.9 560.1 144.0 562.1 144.1 564.1 144.2 566.1 144.3 568.1 144.4 570.1 144.4 572.1 144.5 574.1 144.6 576.1 144.7 578.1 144.7 580.1 144.8 582.1 144.9 584.1 144.9 586.1 145.0 588.1 145.1 590.1 145.1 592.1 145.2 594.1 145.2 596.1 145.3 598.1 145.4 600.1 145.4 602.1 145.5 604.1 145.5 606.1 145.6 608.1 145.6 610.1 145.6 612.1 145.7 614.1 145.7 616.1 145.8 618.1 145.8 620.1 145.8 622.1 145.9 624.1 145.9 626.1 146.0 628.1 146.0 630.1 146.0 632.1 146.1 634.1 146.1 636.1 146.1 638.1 146.1 640.1 146.2 642.1 146.2 644.1 146.2 646.1 146.3 648.1 146.3 650.1 146.3 652.1 146.3 654.1 146.4 656.0 146.4 658.0 146.4 660.0 146.4 662.0 146.4 664.0 146.5 666.0 146.5 668.0 146.5 670.0 146.5 672.0 146.6 674.0 146.6 676.0 146.6 678.0 146.6 680.0 146.6 682.0 146.7 684.0 146.7 686.0 146.7 688.0 146.7 690.0 146.8 692.0 146.8 694.0 146.8 696.0 146.9 698.0 146.9 700.0 147.0 702.0 147.0 703.9 147.1 705.9 147.1 707.9 147.2 709.9 147.2 711.9 147.3 713.9 147.4 715.9 147.5 717.9 147.5 719.9 147.6 721.9 147.7 723.9 147.8 725.9 147.9 727.9 148.0 729.9 148.2 731.9 148.3 733.9 148.4 735.8 148.6 737.8 148.7 739.8 148.9 741.8 149.0 743.8 149.2 745.8 149.4 747.8 149.6 749.8 149.8 751.8 150.0 753.8 150.3 755.8 150.5 757.8 150.7 759.8 151.0 761.8 151.3 763.8 151.5 765.8 151.8 767.8 152.1 769.8 152.4 771.8 152.8 773.8 153.1 775.7 153.5 777.7 153.8 779.7 154.2 781.7 154.7 783.7 155.1 785.6 155.6 787.5 156.1 789.5 156.6 791.4 157.2 793.3 157.8 795.1 158.5 797.0 159.1 798.8 159.9 800.6 160.7 802.4 161.5 804.1 162.4 805.9 163.3 807.6 164.3 809.2 165.3 810.8 166.4 812.4 167.6 814.0 168.8 815.5 170.1 817.0 171.4 818.4 172.8 819.8 174.2 821.2 175.6 822.6 177.1 823.9 178.6 825.3 180.2 826.5 181.7 827.8 183.3 829.0 185.0 830.2 186.6 831.4 188.2 832.6 189.9 833.7 191.6 834.9 193.2 836.0 194.9 837.0 196.6 838.1 198.3 839.1 200.1 840.2 201.8 841.2 203.5 842.2 205.3 843.1 207.0 844.1 208.8 845.0 210.6 845.9 212.4 846.8 214.1 847.7 215.9 848.6 217.7 849.4 219.6 850.3 221.4 851.1 223.2 851.9 225.0 852.7 226.9 853.4 228.7 854.2 230.5 855.0 232.4 855.7 234.2 856.4 236.1 857.1 238.0 857.8 239.8 858.5 241.7 859.2 243.6 859.9 245.5 860.6 247.4 861.2 249.2 861.8 251.1 862.5 253.0 863.1 254.9 863.7 256.8 864.3 258.7 864.9 260.6 865.5 262.5 866.1 264.4 866.7 266.3 867.2 268.2 867.8 270.2 868.3 272.1 868.9 274.0 869.4 275.9 869.9 277.8 870.4 279.8 871.0 281.7 871.5 283.6 872.0 285.5 872.4 287.5 872.9 289.4 873.4 291.3 873.9 293.3 874.3 295.2 874.8 297.2 875.2 299.1 875.7 301.0 876.1 303.0 876.5 304.9 877.0 306.9 877.4 308.8 877.8 310.8 878.2 312.7 878.6 314.7 879.0 316.7 879.4 318.6 879.8 320.6 880.2 322.5 880.5 324.5 880.9 326.5 881.3 328.4 881.6 330.4 882.0 332.4 882.3 334.3 882.7 336.3 883.0 338.3 883.4 340.2 883.7 342.2 884.0 344.2 884.3 346.1 884.7 348.1 885.0 350.1 885.3 352.1 885.6 354.1 885.9 356.0 886.2 358.0 886.5 360.0 886.8 362.0 887.1 363.9 887.4 365.9 887.7 367.9 888.0 369.9 888.3 371.9 888.6 373.9 888.9 375.8 889.1 377.8 889.4 379.8 889.7 381.8 890.0 383.8 890.2 385.8 890.5 387.7 890.8 389.7 891.1 391.7 891.3 393.7 891.6 395.7 891.9 397.7 892.1 399.7 892.4 401.6 892.6 403.6 892.9 405.6 893.2 407.6 893.4 409.6 893.7 411.6 893.9 413.6 894.2 415.5 894.4 417.5 894.7 419.5 894.9 421.5 895.2 423.5 895.4 425.5 895.7 427.5 895.9 429.4 896.2 431.4 896.4 433.4 896.7 435.4 896.9 437.4 897.2 439.4 897.4 441.4 897.6 443.3 897.9 445.3 898.1 447.3 898.3 449.3 898.6 451.3 898.8 453.3 899.0 455.3 899.3 457.3 899.5 459.2 899.7 461.2 900.0 463.2 900.2 465.2 900.4 467.2 900.6 469.2 900.9 471.2 901.1 473.2 901.3 475.1 901.5 477.1 901.7 479.1 902.0 481.1 902.2 483.1 902.4 485.1 902.6 487.1 902.8 489.1 903.0 491.1 903.2 493.0 903.5 495.0 903.7 497.0 903.9 499.0 904.1 501.0 904.3 503.0 904.5 505.0 904.7 507.0 904.9 509.0 905.1 510.9 905.3 512.9 905.5 514.9 905.7 516.9 905.9 518.9 906.1 520.9 906.3 522.9 906.5 524.9 906.7 526.9 906.9 528.8 907.1 530.8 907.3 532.8 907.5 534.8 907.7 536.8 907.9 538.8 908.1 540.8 908.2 542.8 908.4 544.8 908.6 546.8 908.8 548.7 909.0 550.7 909.2 552.7 909.4 554.7 909.5 556.7 909.7 558.7 909.9 560.7 910.1 562.7 910.3 564.7 910.4 566.7 910.6 568.7 910.8 570.6 911.0 572.6 911.2 574.6 911.3 576.6 911.5 578.6 911.7 580.6 911.9 582.6 912.0 584.6 912.2 586.6 912.4 588.6 912.5 590.6 912.7 592.5 912.9 594.5 913.0 596.5 913.2 598.5 913.4 600.5 913.5 602.5 913.7 604.5 913.9 606.5 914.0 608.5 914.2 610.5 914.4 612.5 914.5 614.5 914.7 616.4 914.8 618.4 915.0 620.4 915.2 622.4 915.3 624.4 915.5 626.4 915.6 628.4 915.8 630.4 915.9 632.4 916.1 634.4 916.2 636.4 916.4 638.4 916.6 640.4 916.7 642.4 916.9 644.3 917.0 646.3 917.2 648.3 917.3 650.3 917.5 652.3 917.6 654.3 917.8 656.3 917.9 658.3 918.0 660.3 918.2 662.3 918.3 664.3 918.5 666.3 918.6 668.3 918.8 670.3 918.9 672.2 919.1 674.2 919.2 676.2 919.3 678.2 919.5 680.2 919.6 682.2 919.8 684.2 919.9 686.2 920.0 688.2 920.2 690.2 920.3 692.2 920.5 694.2 920.6 696.2 920.7 698.2 920.9 700.2 921.0 702.1 921.1 704.1 921.3 706.1 921.4 708.1 921.5 710.1 921.7 712.1 921.8 714.1 921.9 716.1 922.1 718.1 922.2 720.1 922.3 722.1 922.5 724.1 922.6 726.1 922.7 728.1 922.9 730.1 923.0 732.1 923.1 734.1 923.2 736.1 923.4 738.0 923.5 740.0 923.6 742.0 923.8 744.0 923.9 746.0 924.0 748.0 924.1 750.0 924.3 752.0 924.4 754.0 924.5 756.0 924.6 758.0 924.8 760.0 924.9 762.0 925.0 764.0 925.1 766.0 925.3 768.0 925.4 770.0 925.5 772.0 925.6 773.9 925.7 775.9 925.9 777.9 926.0 779.9 926.1 781.9 926.2 783.9 926.3 785.9 926.5 787.9 926.6 789.9 926.7 791.9 926.8 793.9 926.9 795.9 927.1 797.9 927.2 799.9 927.3 801.9 927.4 803.9 927.5 805.9 927.7 807.9 927.8 809.9 927.9 811.9 928.0 813.9 928.1 815.8 928.2 817.8 928.4 819.8 928.5 821.8 928.6 823.8 928.7 825.8 928.8 827.8 928.9 829.8 929.1 831.8 929.2 833.8 929.3 835.8 929.4 837.8 929.5 839.8 929.6 841.8 929.8 843.8 929.9 845.8 930.0 847.8 930.1 849.8 930.2 851.8 930.3 853.8 930.4 855.8 930.6 857.8 930.7 859.8 930.8 861.7 930.9 863.7 931.0 865.7 931.1 867.7 931.2 869.7 931.4 871.7 931.5 873.7 931.6 875.7 931.7 877.7 931.8 879.7 931.9 881.7 932.0 883.7 932.1 885.7 932.3 887.7 932.4 889.7 932.5 891.7 932.6 893.7 932.7 895.7 932.8 897.7 932.9 899.7 933.1 901.7 933.2 903.7 933.3 905.7 933.4 907.7 933.5 909.7 933.6 911.6 933.7 913.6 933.9 915.6 934.0 917.6 934.1 919.6 934.2 921.6 934.3 923.6 934.4 925.6 934.5 927.6 934.7 929.6 934.8 931.6 934.9 933.6 935.0 935.6 935.1 937.6 935.2 939.6 935.3 941.6 935.5 943.6 935.6 945.6 935.7 947.6 935.8 949.6 935.9 951.6 936.0 953.6 936.2 955.6 936.3 957.6 936.4 959.6 936.5 961.6 936.6 963.5 936.7 965.5 936.9 967.5 937.0 969.5 937.1 971.5 937.2 973.5 937.3 975.5 937.5 977.5 937.6 979.5 937.7 981.5 937.8 983.5 938.0 985.5 938.1 987.5 938.2 989.5 938.3 991.5 938.5 993.5 938.6 995.5 938.7 997.5 938.9 999.5 939.0 1001.5 939.1 1003.5 939.3 1005.5 939.4 1007.5 939.6 1009.5 939.7 1011.5 939.9 1013.4 940.0 1015.4 940.2 1017.4 940.3 1019.4 940.5 1021.4 940.6 1023.4 940.8 1025.4 940.9 1027.4 941.1 1029.4 941.3 1031.4 941.4 1033.4 941.6 1035.4 941.8 1037.4 942.0 1039.4 942.1 1041.4 942.3 1043.4 942.5 1045.4 942.7 1047.4 942.9 1049.4 943.1 1051.4 943.3 1053.4 943.5 1055.4 943.7 1057.4 943.9 1059.3 944.1 1061.3 944.3 1063.3 944.5 1065.3 944.7 1067.3 945.0 1069.3 945.2 1071.3 945.4 1073.3 945.7 1075.3 945.9 1077.3 946.2 1079.3 946.4 1081.3 946.7 1083.3 946.9 1085.3 947.2 1087.3 947.4 1089.3 947.7 1091.3 948.0 1093.3 948.3 1095.3 948.5 1097.3 948.8 1099.2 949.2 1101.2 949.5 1103.2 950.0 1105.1 950.5 1106.9 951.1 1108.7 951.8 1110.4 952.6 1112.0 953.6 1113.6 954.7 1115.0 956.0 1116.3 957.5 1117.5 959.1 1118.5 960.8 1119.5 962.6 1120.4 964.5 1121.2 966.3 1122.0 968.2 1122.8 970.1 1123.5 972.0 1124.2 973.9 1124.9 975.8 1125.5 977.7 1126.1 979.6 1126.6 981.6 1127.1 983.5 1127.6 985.5 1128.1 987.4 1128.5 989.4 1128.9 991.4 1129.3 993.3 1129.6 995.3 1130.0 997.3 1130.3 999.3 1130.6 1001.3 1130.8 1003.3 1131.1 1005.3 1131.3 1007.3 1131.5 1009.3 1131.8 1011.3 1132.0 1013.3 1132.1 1015.3 1132.3 1017.4 1132.5 1019.4 1132.7 1021.4 1132.8 1023.4 1133.0 1025.4 1133.1 1027.4 1133.2 1029.5 1133.4 1031.5 1133.5 1033.5 1133.7 1035.5 1133.8 1037.5 1133.9 1039.5 1134.1 1041.5 1134.2 1043.5 1134.3 1045.5 1134.4 1047.6 1134.5 1049.6 1134.7 1051.6 1134.8 1053.6 1134.9 1055.6 1135.0 1057.6 1135.1 1059.6 1135.2 1061.6 1135.3 1063.6 1135.4 1065.6 1135.5 1067.6 1135.6 1069.6 1135.7 1071.6 1135.8 1073.6 1135.9 1075.6 1136.0 1077.6 1136.1 1079.6 1136.1 1081.6 1136.2 1083.6 1136.3 1085.6 1136.4 1087.6 1136.5 1089.6 1136.5 1091.6 1136.6 1093.6 1136.7 1095.6 1136.8 1097.6 1136.8 1099.6 1136.9 1101.6 1137.0 1103.6 1137.0 1105.6 1137.1 1107.6 1137.1 1109.6 1137.2 1111.6 1137.3 1113.6 1137.3 1115.6 1137.4 1117.6 1137.4 1119.6 1137.5 1121.6 1137.5 1123.6 1137.6 1125.6 1137.7 1127.6 1137.7 1129.6 1137.8 1131.5 1137.8 1133.5 1137.8 1135.5 1137.9 1137.5 1137.9 1139.5 1138.0 1141.5 1138.0 1143.5 1138.1 1145.5 1138.1 1147.5 1138.2 1149.5 1138.2 1151.5 1138.2 1153.5 1138.3 1155.5 1138.3 1157.5 1138.4 1159.5 1138.4 1161.5 1138.4 1163.4 1138.5 1165.4 1138.5 1167.4 1138.6 1169.4 1138.6 1171.4 1138.6 1173.4 1138.7 1175.4 1138.7 1177.4 1138.7 1179.4 1138.8 1181.4 1138.8 1183.4 1138.9 1185.4 1138.9 1187.4 1138.9 1189.4 1139.0 1191.4 1139.0 1193.4 1139.0 1195.3 1139.1 1197.3 1139.1 1199.3 1139.1 1201.3 1139.2 1203.3 1139.2 1205.3 1139.3 1207.3 1139.3 1209.3 1139.3 1211.3 1139.4 1213.3 1139.4 1215.3 1139.4 1217.3 1139.5 1219.3 1139.5 1221.3 1139.5 1223.3 1139.6 1225.3 1139.6 1227.3 1139.6 1229.3 1139.7 1231.3 1139.7 1233.3 1139.7 1235.3 1139.8 1237.2 1139.8 1239.2 1139.8 1241.2 1139.9 1243.2 1139.9 1245.2 1139.9 1247.2 1140.0 1249.2 1140.0 1251.2 1140.0 1253.2 1140.0 1255.2 1140.1 1257.2 1140.1 1259.2 1140.1 1261.2 1140.2 1263.2 1140.2 1265.2 1140.2 1267.2 1140.3 1269.2 1140.3 1271.2 1140.3 1273.2 1140.4 1275.2 1140.4 1277.2 1140.4 1279.2 1140.4 1281.2 1140.5 1283.2 1140.5 1285.2 1140.5 1287.2 1140.6 1289.2 1140.6 1291.2 1140.6 1293.2 1140.6 1295.2 1140.7 1297.2 1140.7 1299.2 1140.7 1301.2 1140.8 1303.2 1140.8 1305.2 1140.8 1307.2 1140.8 1309.1 1140.9 1311.1 1140.9 1313.1 1140.9 1315.1 1141.0 1317.1 1141.0 1319.1 1141.0 1321.1 1141.0 1323.1 1141.1 1325.1 1141.1 1327.1 1141.1 1329.1 1141.1 1331.1 1141.2 1333.1 1141.2 1335.1 1141.2 1337.1 1141.2 1339.1 1141.3 1341.1 1141.3 1343.1 1141.3 1345.1 1141.3 1347.1 1141.4 1349.1 1141.4 1351.1 1141.4 1353.1 1141.4 1355.1 1141.5 1357.1 1141.5 1359.1 1141.5 1361.1 1141.5 1363.1 1141.6 1365.1 1141.6 1367.1 1141.6 1369.1 1141.6 1371.1 1141.7 1373.1 1141.7 1375.1 1141.7 1377.1 1141.7 1379.1 1141.8 1381.1 1141.8 1383.1 1141.8 1385.1 1141.8 1387.1 1141.8 1389.1 1141.9 1391.1 1141.9 1393.1 1141.9 1395.1 1141.9 1397.1 1142.0 1399.1 1142.0 1401.1 1142.0 1403.1 1142.0 1405.1 1142.0 1407.1 1142.1 1409.1 1142.1 1411.1 1142.1 1413.1 1142.1 1415.1 1142.1 1417.1 1142.2 1419.1 1142.2 1421.1 1142.2 1423.1 1142.2 1425.1 1142.3 1427.1 1142.3 1429.1 1142.3 1431.1 1142.3 1433.1 1142.3 1435.1 1142.3 1437.1 1142.4 1439.1 1142.4 1441.1 1142.4 1443.1 1142.4 1445.1 1142.4 1447.1 1142.5 1449.1 1142.5 1451.1 1142.5 1453.1 1142.5 1455.1 1142.5 1457.1 1142.6 1459.1 1142.6 1461.1 1142.6 1463.1 1142.6 1465.1 1142.6 1467.1 1142.6 1469.1 1142.7 1471.1 1142.7 1473.1 1142.7 1475.1 1142.7 1477.1 1142.7 1479.1 1142.8 1481.1 1142.8 1483.1 1142.8 1485.1 1142.8 1487.1 1142.8 1489.1 1142.8 1491.1 1142.9 1493.1 1142.9 1495.1 1142.9 1497.1 1142.9 1499.1 1142.9 1501.1 1142.9 1503.1 1143.0 1505.1 1143.0 1507.1 1143.0 1509.1 1143.0 1511.2 1143.0 1513.2 1143.0 1515.2 1143.0 1517.2 1143.1 1519.2 1143.1 1521.2 1143.1 1523.2 1143.1 1525.2 1143.1 1527.2 1143.1 1529.2 1143.2 1531.2 1143.2 1533.2 1143.2 1535.2 1143.2 1537.2 1143.2 1539.2 1143.2 1541.2 1143.2 1543.2 1143.3 1545.2 1143.3 1547.2 1143.3 1549.2 1143.3 1551.2 1143.3 1553.2 1143.3 1555.2 1143.3 1557.2 1143.3 1559.2 1143.4 1561.2 1143.4 1563.2 1143.4 1565.2 1143.4 1567.2 1143.4 1569.2 1143.4 1571.2 1143.4 1573.2 1143.4 1575.2 1143.5 1577.2 1143.5 1579.2 1143.5 1581.2 1143.5 1583.2 1143.5 1585.2 1143.5 1587.2 1143.5 1589.2 1143.5 1591.2 1143.6 1593.2 1143.6 1595.2 1143.6 1597.2 1143.6 1599.2 1143.6 1601.2 1143.6 1603.2 1143.6 1605.2 1143.6 1607.2 1143.6 1609.2 1143.7 1611.2 1143.7 1613.2 1143.7 1615.2 1143.7 1617.2 1143.7 1619.2 1143.7 1621.2 1143.7 1623.2 1143.7 1625.2 1143.7 1627.2 1143.8 1629.2 1143.8 1631.2 1143.8 1633.2 1143.8 1635.2 1143.8 1637.2 1143.8 1639.2 1143.8 1641.2 1143.8 1643.2 1143.8 1645.2 1143.8 1647.2 1143.9 1649.2 1143.9 1651.2 1143.9 1653.2 1143.9 1655.2 1143.9 1657.2 1143.9 1659.2 1143.9 1661.2 1143.9 1663.2 1143.9 1665.2 1143.9 1667.2 1143.9 1669.2 1144.0 1671.2 1144.0 1673.2 1144.0 1675.2 1144.0 1677.2 1144.0 1679.2 1144.0 1681.2 1144.0 1683.2 1144.0 1685.2 1144.0 1687.2 1144.0 1689.2 1144.0 1691.2 1144.0 1693.2 1144.0 1695.2 1144.1 1697.2 1144.1 1699.2 1144.1 1701.2 1144.1 1703.2 1144.1 1705.2 1144.1 1707.2 1144.1 1709.2 1144.1 1711.2 1144.1 1713.1 1144.1 1715.1 1144.1 1717.1 1144.1 1719.1 1144.1 1721.1 1144.1 1723.1 1144.2 1725.1 1144.2 1727.1 1144.2 1729.1 1144.2 1731.1 1144.2 1733.1 1144.2 1735.1 1144.2 1737.1 1144.2 1739.1 1144.2 1741.1 1144.2 1743.1 1144.2 1745.1 1144.2 1747.1 1144.2 1749.1 1144.2 1751.1 1144.2 1753.1 1144.2 1755.1 1144.3 1757.1 1144.3 1759.1 1144.3 1761.1 1144.3 1763.1 1144.3 1765.1 1144.3 1767.1 1144.3 1769.1 1144.3 1771.1 1144.3 1773.1 1144.3 1775.1 1144.3 1777.1 1144.3 1779.1 1144.3 1781.1 1144.3 1783.1 1144.3 1785.0 1144.3 1787.0 1144.3 1789.0 1144.3 1791.0 1144.3 1793.0 1144.3 1795.0 1144.4 1797.0 1144.4 1799.0 1144.4 1801.0 1144.4 1803.0 1144.4 1805.0 1144.4 1807.0 1144.4 1809.0 1144.4 1811.0 1144.4 1813.0 1144.4 1815.0 1144.4 1817.0 1144.4"/>
<path class="cv" stroke="#ff0000" stroke-dasharray="13.96 15.74" stroke-dashoffset="1.61" d="M274.8 129.1L276.8 129.0 278.8 129.0 280.8 129.0 282.8 129.0 284.8 129.0 286.8 129.0 288.8 129.0 290.8 129.0 292.7 128.9 294.7 128.9 296.7 128.9 298.7 128.9 300.7 128.9 302.7 128.9 304.7 128.9 306.7 128.8 308.7 128.8 310.7 128.8 312.7 128.8 314.7 128.8 316.7 128.8 318.7 128.8 320.7 128.8 322.7 128.7 324.7 128.7 326.7 128.7 328.7 128.7 330.7 128.7 332.7 128.7 334.7 128.7 336.7 128.7 338.7 128.7 340.7 128.7 342.8 128.7 344.8 128.7 346.8 128.7 348.8 128.7 350.8 128.7 352.8 128.7 354.8 128.7 356.8 128.7 358.8 128.7 360.8 128.7 362.8 128.7 364.8 128.7 366.8 128.7 368.8 128.7 370.8 128.7 372.8 128.7 374.8 128.8 376.8 128.8 378.8 128.8 380.8 128.8 382.8 128.9 384.8 128.9 386.9 128.9 388.9 129.0 390.9 129.0 392.9 129.0 394.9 129.1 396.9 129.1 398.9 129.1 400.9 129.2 402.9 129.2 404.9 129.3 406.9 129.4 408.9 129.4 410.9 129.5 412.9 129.5 414.9 129.6 416.9 129.7 418.9 129.7 420.9 129.8 422.9 129.9 424.9 130.0 426.9 130.1 428.9 130.1 430.9 130.2 432.9 130.3 434.9 130.4 436.9 130.5 438.9 130.6 440.9 130.7 442.8 130.8 444.8 131.0 446.8 131.1 448.8 131.2 450.8 131.3 452.8 131.4 454.8 131.6 456.8 131.7 458.8 131.8 460.8 132.0 462.8 132.1 464.8 132.2 466.7 132.4 468.7 132.5 470.7 132.7 472.7 132.8 474.7 133.0 476.7 133.1 478.7 133.3 480.7 133.4 482.6 133.6 484.6 133.7 486.6 133.9 488.6 134.0 490.6 134.2 492.6 134.3 494.6 134.5 496.6 134.6 498.6 134.8 500.5 134.9 502.5 135.1 504.5 135.2 506.5 135.4 508.5 135.5 510.5 135.7 512.5 135.8 514.5 136.0 516.5 136.1 518.5 136.3 520.4 136.4 522.4 136.5 524.4 136.7 526.4 136.8 528.4 136.9 530.4 137.1 532.4 137.2 534.4 137.3 536.4 137.4 538.4 137.5 540.4 137.6 542.4 137.8 544.4 137.9 546.4 138.0 548.4 138.1 550.4 138.2 552.4 138.3 554.4 138.3 556.4 138.4 558.4 138.5 560.4 138.6 562.4 138.7 564.4 138.8 566.4 138.8 568.4 138.9 570.4 139.0 572.4 139.0 574.4 139.1 576.4 139.2 578.4 139.2 580.4 139.3 582.5 139.3 584.5 139.4 586.5 139.5 588.5 139.5 590.5 139.6 592.5 139.6 594.5 139.6 596.5 139.7 598.5 139.7 600.5 139.8 602.5 139.8 604.5 139.8 606.5 139.9 608.5 139.9 610.6 139.9 612.6 139.9 614.6 140.0 616.6 140.0 618.6 140.0 620.6 140.0 622.6 140.1 624.6 140.1 626.6 140.1 628.6 140.1 630.6 140.1 632.6 140.1 634.6 140.2 636.6 140.2 638.7 140.2 640.7 140.2 642.7 140.2 644.7 140.2 646.7 140.2 648.7 140.2 650.7 140.2 652.7 140.2 654.7 140.2 656.7 140.2 658.7 140.2 660.7 140.2 662.7 140.2 664.7 140.2 666.7 140.2 668.7 140.2 670.7 140.2 672.7 140.2 674.7 140.2 676.7 140.2 678.7 140.2 680.7 140.2 682.7 140.2 684.7 140.2 686.7 140.2 688.7 140.2 690.6 140.2 692.6 140.2 694.6 140.2 696.6 140.1 698.6 140.1 700.6 140.1 702.6 140.1 704.6 140.1 706.6 140.1 708.5 140.1 710.5 140.1 712.5 140.1 714.5 140.1 716.5 140.1 718.5 140.1 720.4 140.1 722.4 140.1 724.4 140.1 726.4 140.1 728.3 140.1 730.3 140.1 732.3 140.1 734.3 140.2 736.3 140.2 738.2 140.2 740.2 140.3 742.2 140.3 744.2 140.4 746.1 140.4 748.1 140.5 750.1 140.6 752.1 140.7 754.1 140.9 756.1 141.0 758.1 141.1 760.1 141.3 762.1 141.5 764.1 141.7 766.1 141.9 768.1 142.1 770.1 142.4 772.1 142.7 774.1 143.0 776.1 143.3 778.1 143.7 780.2 144.0 782.2 144.4 784.2 144.9 786.2 145.3 788.2 145.8 790.2 146.3"/>
<path class="cv" stroke="#ff0000" stroke-dasharray="14.17 15.98" stroke-dashoffset="7.21" d="M790.2 146.3L792.2 146.8 794.2 147.4 796.1 148.0 798.1 148.6 800.0 149.3 801.9 150.0 803.8 150.7 805.7 151.4 807.5 152.2 809.3 153.1 811.1 153.9 812.9 154.9 814.6 155.8 816.3 156.8 818.0 157.8 819.7 158.9 821.3 160.0 822.8 161.2 824.4 162.4 825.9 163.6 827.4 164.9 828.8 166.2 830.2 167.5 831.6 168.9 832.9 170.3 834.2 171.8 835.5 173.3 836.8 174.8 838.0 176.3 839.2 177.9 840.4 179.5 841.5 181.1 842.6 182.7 843.7 184.4 844.8 186.1 845.9 187.8 846.9 189.5 847.9 191.3 848.9 193.0 849.9 194.8 850.9 196.5 851.8 198.3 852.7 200.1 853.7 201.9 854.6 203.8 855.4 205.6 856.3 207.4 857.2 209.2 858.0 211.1 858.9 212.9 859.7 214.8 860.5 216.6 861.3 218.5 862.1 220.3 862.9 222.2 863.6 224.0 864.4 225.9 865.1 227.7 865.9 229.6 866.6 231.5 867.3 233.4 868.0 235.2 868.7 237.1 869.4 239.0 870.1 240.9 870.8 242.8 871.4 244.6 872.1 246.5 872.7 248.4 873.3 250.3 873.9 252.2 874.5 254.1 875.1 256.0 875.7 257.9 876.3 259.8 876.9 261.7 877.5 263.7 878.0 265.6 878.6 267.5 879.1 269.4 879.6 271.3 880.2 273.3 880.7 275.2 881.2 277.1 881.7 279.0 882.2 281.0 882.7 282.9 883.1 284.8 883.6 286.8 884.1 288.7 884.5 290.7 885.0 292.6 885.4 294.5 885.9 296.5 886.3 298.4 886.7 300.4 887.1 302.3 887.5 304.3 887.9 306.2 888.3 308.2 888.7 310.2 889.1 312.1 889.5 314.1 889.9 316.0 890.3 318.0 890.6 320.0 891.0 321.9 891.3 323.9 891.7 325.9 892.0 327.8 892.4 329.8 892.7 331.8 893.1 333.7 893.4 335.7 893.7 337.7 894.0 339.7 894.3 341.6 894.7 343.6 895.0 345.6 895.3 347.6 895.6 349.6 895.9 351.5 896.2 353.5 896.5 355.5 896.7 357.5 897.0 359.5 897.3 361.4 897.6 363.4 897.9 365.4 898.1 367.4 898.4 369.4 898.7 371.4 898.9 373.4 899.2 375.3 899.5 377.3 899.7 379.3 900.0 381.3 900.3 383.3 900.5 385.3 900.8 387.3 901.0 389.3 901.3 391.2 901.5 393.2 901.8 395.2 902.0 397.2 902.3 399.2 902.5 401.2 902.8 403.2 903.0 405.2 903.3 407.2 903.5 409.1 903.8 411.1 904.0 413.1 904.2 415.1 904.5 417.1 904.7 419.1 905.0 421.1 905.2 423.1 905.4 425.0 905.7 427.0 905.9 429.0 906.1 431.0 906.4 433.0 906.6 435.0 906.8 437.0 907.1 439.0 907.3 441.0 907.5 443.0 907.7 444.9 908.0 446.9 908.2 448.9 908.4 450.9 908.6 452.9 908.9 454.9 909.1 456.9 909.3 458.9 909.5 460.9 909.7 462.8 909.9 464.8 910.2 466.8 910.4 468.8 910.6 470.8 910.8 472.8 911.0 474.8 911.2 476.8 911.4 478.8 911.7 480.8 911.9 482.7 912.1 484.7 912.3 486.7 912.5 488.7 912.7 490.7 912.9 492.7 913.1 494.7 913.3 496.7 913.5 498.7 913.7 500.7 913.9 502.6 914.1 504.6 914.3 506.6 914.5 508.6 914.7 510.6 914.9 512.6 915.1 514.6 915.3 516.6 915.5 518.6 915.7 520.6 915.9 522.5 916.1 524.5 916.3 526.5 916.5 528.5 916.7 530.5 916.8 532.5 917.0 534.5 917.2 536.5 917.4 538.5 917.6 540.5 917.8 542.5 918.0 544.5 918.2 546.4 918.3 548.4 918.5 550.4 918.7 552.4 918.9 554.4 919.1 556.4 919.2 558.4 919.4 560.4 919.6 562.4 919.8 564.4 920.0 566.4 920.1 568.3 920.3 570.3 920.5 572.3 920.7 574.3 920.8 576.3 921.0 578.3 921.2 580.3 921.4 582.3 921.5 584.3 921.7 586.3 921.9 588.3 922.0 590.3 922.2 592.2 922.4 594.2 922.5 596.2 922.7 598.2 922.9 600.2 923.0 602.2 923.2 604.2 923.4 606.2 923.5 608.2 923.7 610.2 923.9 612.2 924.0 614.2 924.2 616.2 924.3 618.1 924.5 620.1 924.7 622.1 924.8 624.1 925.0 626.1 925.1 628.1 925.3 630.1 925.5 632.1 925.6 634.1 925.8 636.1 925.9 638.1 926.1 640.1 926.2 642.1 926.4 644.1 926.5 646.0 926.7 648.0 926.8 650.0 927.0 652.0 927.2 654.0 927.3 656.0 927.5 658.0 927.6 660.0 927.8 662.0 927.9 664.0 928.0 666.0 928.2 668.0 928.3 670.0 928.5 672.0 928.6 674.0 928.8 675.9 928.9 677.9 929.1 679.9 929.2 681.9 929.4 683.9 929.5 685.9 929.6 687.9 929.8 689.9 929.9 691.9 930.1 693.9 930.2 695.9 930.4 697.9 930.5 699.9 930.6 701.9 930.8 703.9 930.9 705.9 931.1 707.9 931.2 709.8 931.3 711.8 931.5 713.8 931.6 715.8 931.7 717.8 931.9 719.8 932.0 721.8 932.2 723.8 932.3 725.8 932.4 727.8 932.6 729.8 932.7 731.8 932.8 733.8 933.0 735.8 933.1 737.8 933.2 739.8 933.4 741.8 933.5 743.8 933.6 745.7 933.8 747.7 933.9 749.7 934.0 751.7 934.2 753.7 934.3 755.7 934.4 757.7 934.5 759.7 934.7 761.7 934.8 763.7 934.9 765.7 935.1 767.7 935.2 769.7 935.3 771.7 935.4 773.7 935.6 775.7 935.7 777.7 935.8 779.7 936.0 781.7 936.1 783.7 936.2 785.7 936.3 787.6 936.5 789.6 936.6 791.6 936.7 793.6 936.8 795.6 937.0 797.6 937.1 799.6 937.2 801.6 937.3 803.6 937.5 805.6 937.6 807.6 937.7 809.6 937.8 811.6 937.9 813.6 938.1 815.6 938.2 817.6 938.3 819.6 938.4 821.6 938.6 823.6 938.7 825.6 938.8 827.6 938.9 829.6 939.1 831.6 939.2 833.6 939.3 835.6 939.4 837.6 939.5 839.5 939.7 841.5 939.8 843.5 939.9 845.5 940.0 847.5 940.1 849.5 940.3 851.5 940.4 853.5 940.5 855.5 940.6 857.5 940.7 859.5 940.9 861.5 941.0 863.5 941.1 865.5 941.2 867.5 941.3 869.5 941.5 871.5 941.6 873.5 941.7 875.5 941.8 877.5 941.9 879.5 942.1 881.5 942.2 883.5 942.3 885.5 942.4 887.5 942.5 889.5 942.6 891.5 942.8 893.5 942.9 895.5 943.0 897.5 943.1 899.5 943.2 901.5 943.4 903.5 943.5 905.5 943.6 907.4 943.7 909.4 943.8 911.4 944.0 913.4 944.1 915.4 944.2 917.4 944.3 919.4 944.4 921.4 944.5 923.4 944.7 925.4 944.8 927.4 944.9 929.4 945.0 931.4 945.1 933.4 945.3 935.4 945.4 937.4 945.5 939.4 945.6 941.4 945.7 943.4 945.9 945.4 946.0 947.4 946.1 949.4 946.2 951.4 946.3 953.4 946.5 955.4 946.6 957.4 946.7 959.4 946.8 961.4 947.0 963.4 947.1 965.4 947.2 967.4 947.3 969.4 947.5 971.4 947.6 973.4 947.7 975.4 947.8 977.4 948.0 979.4 948.1 981.4 948.3 983.4 948.4 985.4 948.5 987.4 948.7 989.4 948.8 991.4 949.0 993.4 949.1 995.3 949.3 997.3 949.4 999.3 949.6 1001.3 949.7 1003.3 949.9 1005.3 950.1 1007.3 950.2 1009.3 950.4 1011.3 950.6 1013.3 950.8 1015.3 950.9 1017.3 951.1 1019.3 951.3 1021.3 951.5 1023.3 951.7 1025.2 951.9 1027.2 952.1 1029.2 952.3 1031.2 952.5 1033.2 952.7 1035.2 953.0 1037.2 953.2 1039.2 953.4 1041.1 953.7 1043.1 953.9 1045.1 954.1 1047.1 954.4 1049.1 954.6 1051.1 954.9 1053.1 955.2 1055.0 955.4 1057.0 955.7 1059.0 956.0 1061.0 956.3 1063.0 956.5 1064.9 956.8 1066.9 957.1 1068.9 957.4 1070.9 957.8 1072.9 958.1 1074.8 958.4 1076.8 958.7 1078.8 959.1 1080.8 959.4 1082.7 959.8 1084.7 960.1 1086.7 960.5 1088.7 960.8 1090.6 961.2 1092.6 961.6 1094.6 962.0 1096.5 962.6 1098.4 963.1 1100.2 963.5 1101.1"/>
<path class="cv" stroke="#ff0000" stroke-dasharray="13.25 14.95" stroke-dashoffset="26.52" d="M963.5 1101.1L964.3 1102.7 965.2 1104.3 966.3 1105.7 967.7 1106.9 969.2 1108.0 971.0 1108.8 973.0 1109.5 975.2 1110.1 977.4 1110.6 979.6 1111.0 981.9 1111.4 984.1 1111.8 986.2 1112.2 988.3 1112.6 990.3 1113.0 992.3 1113.4 994.2 1113.8 996.1 1114.2 998.0 1114.6 999.9 1115.0 1001.8 1115.4 1003.7 1115.7 1005.6 1116.0 1007.5 1116.4 1009.5 1116.7 1011.4 1117.0 1013.4 1117.2 1015.4 1117.5 1017.4 1117.8 1019.3 1118.0 1021.3 1118.3 1023.3 1118.5 1025.3 1118.7 1027.3 1118.9 1029.3 1119.2 1031.3 1119.4 1033.3 1119.6 1035.3 1119.8 1037.3 1120.0 1039.3 1120.2 1041.3 1120.4 1043.2 1120.6 1045.2 1120.7 1047.2 1120.9 1049.2 1121.1 1051.2 1121.3 1053.2 1121.4 1055.2 1121.6 1057.2 1121.7 1059.2 1121.9 1061.2 1122.0 1063.2 1122.2 1065.2 1122.3 1067.2 1122.5 1069.2 1122.6 1071.2 1122.7 1073.2 1122.9 1075.2 1123.0 1077.2 1123.1 1079.2 1123.2 1081.2 1123.3 1083.2 1123.4 1085.2 1123.6 1087.2 1123.7 1089.1 1123.8 1091.1 1123.9 1093.1 1124.0 1095.1 1124.1 1097.1 1124.1 1099.1 1124.2 1101.1 1124.3 1103.1 1124.4 1105.1 1124.5 1107.1 1124.6 1109.1 1124.6 1111.1 1124.7 1113.1 1124.8 1115.1 1124.9 1117.1 1124.9 1119.1 1125.0 1121.1 1125.1 1123.1 1125.1 1125.1 1125.2 1127.1 1125.2 1129.1 1125.3 1131.1 1125.3 1133.1 1125.4 1135.1 1125.5 1137.1 1125.5 1139.1 1125.6 1141.1 1125.6 1143.1 1125.7 1145.1 1125.7 1147.1 1125.8 1149.1 1125.8 1151.1 1125.8 1153.1 1125.9 1155.1 1125.9 1157.1 1126.0 1159.1 1126.0 1161.1 1126.1 1163.1 1126.1 1165.1 1126.1 1167.1 1126.2 1169.1 1126.2 1171.1 1126.3 1173.1 1126.3 1175.1 1126.4 1177.1 1126.4 1179.1 1126.4 1181.1 1126.5 1183.1 1126.5 1185.1 1126.6 1187.1 1126.6 1189.1 1126.6 1191.1 1126.7 1193.1 1126.7 1195.1 1126.8 1197.1 1126.8 1199.1 1126.8 1201.1 1126.9 1203.1 1126.9 1205.1 1127.0 1207.1 1127.0 1209.1 1127.0 1211.1 1127.1 1213.1 1127.1 1215.1 1127.2 1217.1 1127.2 1219.1 1127.2 1221.1 1127.3 1223.1 1127.3 1225.1 1127.4 1227.1 1127.4 1229.1 1127.4 1231.1 1127.5 1233.1 1127.5 1235.1 1127.6 1237.1 1127.6 1239.1 1127.6 1241.1 1127.7 1243.1 1127.7 1245.1 1127.8 1247.1 1127.8 1249.1 1127.8 1251.1 1127.9 1253.1 1127.9 1255.1 1128.0 1257.1 1128.0 1259.1 1128.0 1261.1 1128.1 1263.1 1128.1 1265.1 1128.2 1267.1 1128.2 1269.1 1128.2 1271.1 1128.3 1273.1 1128.3 1275.1 1128.4 1277.1 1128.4 1279.1 1128.4 1281.1 1128.5 1283.1 1128.5 1285.1 1128.6 1287.1 1128.6 1289.1 1128.6 1291.1 1128.7 1293.1 1128.7 1295.1 1128.8 1297.1 1128.8 1299.1 1128.8 1301.1 1128.9 1303.1 1128.9 1305.1 1129.0 1307.1 1129.0 1309.1 1129.0 1311.1 1129.1 1313.1 1129.1 1315.1 1129.2 1317.1 1129.2 1319.1 1129.2 1321.1 1129.3 1323.1 1129.3 1325.1 1129.4 1327.1 1129.4 1329.1 1129.4 1331.1 1129.5 1333.1 1129.5 1335.1 1129.5 1337.1 1129.6 1339.1 1129.6 1341.1 1129.7 1343.1 1129.7 1345.1 1129.7 1347.1 1129.8 1349.1 1129.8 1351.1 1129.9 1353.1 1129.9 1355.1 1129.9 1357.1 1130.0 1359.1 1130.0 1361.1 1130.0 1363.1 1130.1 1365.1 1130.1 1367.1 1130.2 1369.1 1130.2 1371.1 1130.2 1373.1 1130.3 1375.1 1130.3 1377.1 1130.3 1379.1 1130.4 1381.1 1130.4 1383.1 1130.5 1385.1 1130.5 1387.1 1130.5 1389.1 1130.6 1391.1 1130.6 1393.1 1130.7 1395.1 1130.7 1397.1 1130.7 1399.1 1130.8 1401.1 1130.8 1403.1 1130.8 1405.1 1130.9 1407.1 1130.9 1409.1 1130.9 1411.1 1131.0 1413.1 1131.0 1415.1 1131.1 1417.1 1131.1 1419.1 1131.1 1421.1 1131.2 1423.1 1131.2 1425.1 1131.2 1427.1 1131.3 1429.1 1131.3 1431.1 1131.4 1433.1 1131.4 1435.1 1131.4 1437.1 1131.5 1439.0 1131.5 1441.0 1131.5 1443.0 1131.6 1445.0 1131.6 1447.0 1131.6 1449.0 1131.7 1451.0 1131.7 1453.0 1131.8 1455.0 1131.8 1457.0 1131.8 1459.0 1131.9 1461.0 1131.9 1463.0 1131.9 1465.0 1132.0 1467.0 1132.0 1469.0 1132.0 1471.0 1132.1 1473.0 1132.1 1475.0 1132.1 1477.0 1132.2 1479.0 1132.2 1481.0 1132.3 1483.0 1132.3 1485.0 1132.3 1487.0 1132.4 1489.0 1132.4 1491.0 1132.4 1493.0 1132.5 1495.0 1132.5 1497.0 1132.5 1499.0 1132.6 1501.0 1132.6 1503.0 1132.6 1505.0 1132.7 1507.0 1132.7 1509.0 1132.7 1511.0 1132.8 1513.0 1132.8 1515.0 1132.8 1517.0 1132.9 1519.0 1132.9 1521.0 1132.9 1523.0 1133.0 1525.0 1133.0 1527.0 1133.1 1529.0 1133.1 1531.0 1133.1 1533.0 1133.2 1535.0 1133.2 1537.0 1133.2 1539.0 1133.3 1541.0 1133.3 1543.0 1133.3 1545.0 1133.4 1547.0 1133.4 1549.0 1133.4 1551.0 1133.5 1553.0 1133.5 1555.0 1133.5 1557.0 1133.6 1559.0 1133.6 1561.0 1133.6 1563.0 1133.7 1565.0 1133.7 1567.0 1133.7 1569.0 1133.7 1571.0 1133.8 1573.0 1133.8 1575.0 1133.8 1577.0 1133.9 1579.0 1133.9 1581.0 1133.9 1583.0 1134.0 1585.0 1134.0 1587.0 1134.0 1589.0 1134.1 1591.0 1134.1 1593.0 1134.1 1595.0 1134.2 1597.0 1134.2 1599.0 1134.2 1601.0 1134.3 1603.0 1134.3 1605.0 1134.3 1607.0 1134.4 1609.0 1134.4 1611.0 1134.4 1613.0 1134.4 1615.0 1134.5 1617.0 1134.5 1619.0 1134.5 1621.0 1134.6 1623.0 1134.6 1625.0 1134.6 1627.0 1134.7 1629.0 1134.7 1631.0 1134.7 1633.0 1134.8 1635.0 1134.8 1637.0 1134.8 1639.0 1134.8 1641.0 1134.9 1643.0 1134.9 1645.0 1134.9 1647.0 1135.0 1649.0 1135.0 1651.0 1135.0 1653.0 1135.1 1655.0 1135.1 1657.0 1135.1 1659.0 1135.1 1661.0 1135.2 1663.0 1135.2 1665.0 1135.2 1667.0 1135.3 1669.0 1135.3 1671.0 1135.3 1673.0 1135.3 1675.0 1135.4 1677.0 1135.4 1679.0 1135.4 1681.0 1135.5 1683.0 1135.5 1685.0 1135.5 1687.0 1135.5 1689.0 1135.6 1691.0 1135.6 1693.0 1135.6 1695.0 1135.7 1697.0 1135.7 1699.0 1135.7 1701.0 1135.7 1703.0 1135.8 1705.0 1135.8 1707.0 1135.8 1709.0 1135.8 1711.0 1135.9 1713.0 1135.9 1715.0 1135.9 1717.0 1136.0 1719.0 1136.0 1721.0 1136.0 1723.0 1136.0 1725.0 1136.1 1727.0 1136.1 1729.0 1136.1 1731.0 1136.1 1733.0 1136.2 1735.0 1136.2 1737.0 1136.2 1739.0 1136.2 1741.0 1136.3 1743.0 1136.3 1745.0 1136.3 1747.0 1136.4 1749.0 1136.4 1751.0 1136.4 1753.0 1136.4 1755.0 1136.5 1757.0 1136.5 1759.0 1136.5 1761.0 1136.5 1763.0 1136.6 1765.0 1136.6 1767.0 1136.6 1769.0 1136.6 1771.0 1136.7 1773.0 1136.7 1775.0 1136.7 1777.0 1136.7 1779.0 1136.7 1781.0 1136.8 1783.0 1136.8 1785.0 1136.8 1787.0 1136.8 1789.0 1136.9 1791.0 1136.9 1793.0 1136.9 1795.0 1136.9 1797.0 1137.0 1799.0 1137.0 1801.0 1137.0 1803.0 1137.0 1805.0 1137.1 1807.0 1137.1 1809.0 1137.1 1811.0 1137.1 1813.0 1137.1 1815.0 1137.2 1817.0 1137.2"/>
<path class="cv" stroke="#00ff00" d="M274.8 129.1L276.8 129.1 278.8 129.1 280.8 129.2 282.8 129.2 284.8 129.2 286.8 129.3 288.8 129.3 290.8 129.3 292.8 129.4 294.8 129.4 296.8 129.4 298.9 129.5 300.9 129.5 302.9 129.5 304.9 129.5 306.9 129.6 308.9 129.6 310.9 129.6 312.9 129.7 314.9 129.7 316.9 129.7 318.9 129.7 320.9 129.8 322.8 129.8 324.8 129.8 326.8 129.8 328.8 129.9 330.8 129.9 332.8 129.9 334.8 130.0 336.8 130.0 338.8 130.0 340.8 130.1 342.8 130.1 344.8 130.1 346.8 130.1 348.8 130.2 350.8 130.2 352.8 130.2 354.8 130.3 356.8 130.3 358.8 130.4 360.7 130.4 362.7 130.4 364.7 130.5 366.7 130.5 368.7 130.6 370.7 130.6 372.7 130.6 374.7 130.7 376.7 130.7 378.7 130.8 380.7 130.8 382.7 130.9 384.7 130.9 386.6 131.0 388.6 131.1 390.6 131.1 392.6 131.2 394.6 131.2 396.6 131.3 398.6 131.4 400.6 131.4 402.6 131.5 404.6 131.6 406.6 131.6 408.6 131.7 410.6 131.8 412.6 131.9 414.6 131.9 416.5 132.0 418.5 132.1 420.5 132.2 422.5 132.3 424.5 132.4 426.5 132.5 428.5 132.6 430.5 132.7 432.5 132.8 434.5 132.9 436.5 133.0 438.5 133.1 440.5 133.2 442.5 133.3 444.5 133.4 446.5 133.5 448.5 133.7 450.5 133.8 452.5 133.9 454.5 134.0 456.5 134.2 458.5 134.3 460.5 134.4 462.5 134.6 464.5 134.7 466.5 134.8 468.5 135.0 470.5 135.1 472.5 135.2 474.5 135.4 476.5 135.5 478.5 135.6 480.5 135.8 482.5 135.9 484.5 136.0 486.5 136.2 488.5 136.3 490.5 136.5 492.5 136.6 494.5 136.7 496.5 136.9 498.5 137.0 500.5 137.1 502.5 137.3 504.5 137.4 506.5 137.5 508.5 137.7 510.5 137.8 512.5 137.9 514.5 138.0 516.5 138.1 518.5 138.3 520.5 138.4 522.5 138.5 524.5 138.6 526.5 138.7 528.5 138.8 530.5 138.9 532.5 139.0 534.5 139.1 536.5 139.2 538.5 139.3 540.5 139.4 542.5 139.5 544.5 139.5 546.5 139.6 548.5 139.7 550.5 139.8 552.5 139.8 554.5 139.9 556.5 139.9 558.5 140.0 560.4 140.0 562.4 140.1 564.4 140.1 566.4 140.2 568.4 140.2 570.4 140.3 572.4 140.3 574.4 140.4 576.4 140.4 578.4 140.4 580.4 140.5 582.3 140.5 584.3 140.5 586.3 140.5 588.3 140.6 590.3 140.6 592.3 140.6 594.3 140.6 596.3 140.6 598.3 140.7 600.3 140.7 602.2 140.7 604.2 140.7 606.2 140.7 608.2 140.7 610.2 140.8 612.2 140.8 614.2 140.8 616.2 140.8 618.2 140.8 620.2 140.8 622.1 140.8 624.1 140.8 626.1 140.9 628.1 140.9 630.1 140.9 632.1 140.9 634.1 140.9 636.1 140.9 638.1 140.9 640.1 141.0 642.1 141.0 644.0 141.0 646.0 141.0 648.0 141.0 650.0 141.1 652.0 141.1 654.0 141.1 656.0 141.1 658.0 141.2 660.0 141.2 662.0 141.2 664.0 141.2 666.0 141.3 668.0 141.3 670.0 141.4 672.0 141.4 674.0 141.4 676.0 141.5 678.0 141.5 680.0 141.6 682.0 141.6 684.0 141.7 686.0 141.8 688.0 141.8 690.0 141.9 692.0 142.0 694.0 142.0 696.0 142.1 698.0 142.2 700.0 142.3 702.0 142.4 704.0 142.5 706.1 142.5 708.1 142.6 710.1 142.7 712.1 142.9 714.1 143.0 716.1 143.1 718.1 143.2 720.1 143.3 722.2 143.4 724.2 143.6 726.2 143.7 728.2 143.9 730.2 144.0 732.2 144.2 734.3 144.3 736.3 144.5 738.3 144.6 740.3 144.8 742.4 145.0 744.4 145.2 746.4 145.4 748.4 145.6 750.5 145.8 752.5 146.0 754.5 146.2 756.6 146.4 758.6 146.7 760.6 146.9 762.6 147.2 764.6 147.5 766.6 147.8 768.6 148.2 770.5 148.5 772.5 148.9 774.4 149.4 776.3 149.8 778.2 150.3 780.1 150.9 781.9 151.5 783.8 152.1 785.6 152.8 787.3 153.5 789.1 154.3 790.8 155.2 792.5 156.0 794.1 157.0 795.7 158.0 797.3 159.1 798.9 160.2 800.4 161.4 801.8 162.7 803.3 164.0 804.7 165.3 806.0 166.7 807.4 168.2 808.7 169.7 810.0 171.2 811.2 172.8 812.4 174.4 813.6 176.0 814.8 177.7 815.9 179.4 817.1 181.1 818.2 182.8 819.3 184.6 820.3 186.4 821.3 188.2 822.4 189.9 823.4 191.7 824.3 193.5 825.3 195.4 826.3 197.2 827.2 199.0 828.1 200.8 829.0 202.6 829.9 204.4 830.8 206.3 831.6 208.1 832.4 209.9 833.3 211.8 834.1 213.6 834.9 215.5 835.6 217.3 836.4 219.2 837.2 221.1 837.9 222.9 838.6 224.8 839.3 226.6 840.0 228.5 840.7 230.4 841.4 232.3 842.1 234.2 842.7 236.0 843.4 237.9 844.0 239.8 844.6 241.7 845.2 243.6 845.8 245.5 846.4 247.4 847.0 249.3 847.6 251.2 848.1 253.1 848.7 255.0 849.2 256.9 849.8 258.9 850.3 260.8 850.8 262.7 851.3 264.6 851.8 266.5 852.3 268.5 852.8 270.4 853.3 272.3 853.8 274.2 854.2 276.2 854.7 278.1 855.2 280.0 855.6 282.0 856.1 283.9 856.5 285.8 856.9 287.8 857.4 289.7 857.8 291.7 858.2 293.6 858.7 295.6 859.1 297.5 859.5 299.5 859.9 301.4 860.3 303.3 860.7 305.3 861.1 307.2 861.5 309.2 861.9 311.1 862.3 313.1 862.7 315.1 863.1 317.0 863.5 319.0 863.9 320.9 864.3 322.9 864.7 324.8 865.0 326.8 865.4 328.7 865.8 330.7 866.2 332.7 866.5 334.6 866.9 336.6 867.3 338.6 867.6 340.5 868.0 342.5 868.3 344.4 868.7 346.4 869.0 348.4 869.4 350.3 869.7 352.3 870.1 354.3 870.4 356.2 870.8 358.2 871.1 360.2 871.4 362.2 871.8 364.1 872.1 366.1 872.4 368.1 872.8 370.0 873.1 372.0 873.4 374.0 873.7 376.0 874.1 377.9 874.4 379.9 874.7 381.9 875.0 383.9 875.3 385.8 875.6 387.8 875.9 389.8 876.2 391.8 876.5 393.7 876.8 395.7 877.1 397.7 877.4 399.7 877.7 401.7 878.0 403.6 878.3 405.6 878.6 407.6 878.9 409.6 879.2 411.6 879.4 413.6 879.7 415.5 880.0 417.5 880.3 419.5 880.6 421.5 880.8 423.5 881.1 425.5 881.4 427.4 881.7 429.4 881.9 431.4 882.2 433.4 882.4 435.4 882.7 437.4 883.0 439.3 883.2 441.3 883.5 443.3 883.7 445.3 884.0 447.3 884.3 449.3 884.5 451.3 884.8 453.3 885.0 455.2 885.3 457.2 885.5 459.2 885.7 461.2 886.0 463.2 886.2 465.2 886.5 467.2 886.7 469.2 886.9 471.2 887.2 473.1 887.4 475.1 887.7 477.1 887.9 479.1 888.1 481.1 888.3 483.1 888.6 485.1 888.8 487.1 889.0 489.0 889.3 491.0 889.5 493.0 889.7 495.0 889.9 497.0 890.1 499.0 890.4 501.0 890.6 503.0 890.8 505.0 891.0 506.9 891.2 508.9 891.4 510.9 891.7 512.9 891.9 514.9 892.1 516.9 892.3 518.9 892.5 520.9 892.7 522.9 892.9 524.8 893.1 526.8 893.3 528.8 893.5 530.8 893.7 532.8 893.9 534.8 894.1 536.8 894.3 538.8 894.5 540.8 894.7 542.7 894.9 544.7 895.1 546.7 895.3 548.7 895.5 550.7 895.7 552.7 895.9 554.7 896.1 556.7 896.3 558.7 896.5 560.7 896.6 562.6 896.8 564.6 897.0 566.6 897.2 568.6 897.4 570.6 897.6 572.6 897.7 574.6 897.9 576.6 898.1 578.6 898.3 580.5 898.5 582.5 898.6 584.5 898.8 586.5 899.0 588.5 899.2 590.5 899.3 592.5 899.5 594.5 899.7 596.5 899.9 598.4 900.0 600.4 900.2 602.4 900.4 604.4 900.5 606.4 900.7 608.4 900.9 610.4 901.0 612.4 901.2 614.4 901.4 616.4 901.5 618.3 901.7 620.3 901.9 622.3 902.0 624.3 902.2 626.3 902.4 628.3 902.5 630.3 902.7 632.3 902.8 634.3 903.0 636.2 903.1 638.2 903.3 640.2 903.5 642.2 903.6 644.2 903.8 646.2 903.9 648.2 904.1 650.2 904.2 652.2 904.4 654.2 904.5 656.2 904.7 658.1 904.8 660.1 905.0 662.1 905.1 664.1 905.3 666.1 905.4 668.1 905.6 670.1 905.7 672.1 905.9 674.1 906.0 676.1 906.2 678.1 906.3 680.0 906.5 682.0 906.6 684.0 906.7 686.0 906.9 688.0 907.0 690.0 907.2 692.0 907.3 694.0 907.4 696.0 907.6 698.0 907.7 700.0 907.9 701.9 908.0 703.9 908.1 705.9 908.3 707.9 908.4 709.9 908.6 711.9 908.7 713.9 908.8 715.9 909.0 717.9 909.1 719.9 909.2 721.9 909.4 723.9 909.5 725.9 909.6 727.8 909.8 729.8 909.9 731.8 910.0 733.8 910.2 735.8 910.3 737.8 910.4 739.8 910.6 741.8 910.7 743.8 910.8 745.8 911.0 747.8 911.1 749.8 911.2 751.8 911.4 753.8 911.5 755.7 911.6 757.7 911.8 759.7 911.9 761.7 912.0 763.7 912.1 765.7 912.3 767.7 912.4 769.7 912.5 771.7 912.7 773.7 912.8 775.7 912.9 777.7 913.0 779.7 913.2 781.7 913.3 783.7 913.4 785.7 913.5 787.7 913.7 789.7 913.8 791.6 913.9 793.6 914.1 795.6 914.2 797.6 914.3 799.6 914.4 801.6 914.6 803.6 914.7 805.6 914.8 807.6 914.9 809.6 915.1 811.6 915.2 813.6 915.3 815.6 915.4 817.6 915.6 819.6 915.7 821.6 915.8 823.6 915.9 825.6 916.1 827.6 916.2 829.6 916.3 831.6 916.4 833.6 916.6 835.6 916.7 837.6 916.8 839.6 916.9 841.6 917.1 843.6 917.2 845.5 917.3 847.5 917.4 849.5 917.6 851.5 917.7 853.5 917.8 855.5 917.9 857.5 918.1 859.5 918.2 861.5 918.3 863.5 918.5 865.5 918.6 867.5 918.7 869.5 918.8 871.5 919.0 873.5 919.1 875.5 919.2 877.5 919.3 879.5 919.5 881.5 919.6 883.5 919.7 885.5 919.9 887.5 920.0 889.5 920.1 891.5 920.2 893.5 920.4 895.5 920.5 897.5 920.6 899.5 920.8 901.5 920.9 903.5 921.0 905.5 921.1 907.5 921.3 909.5 921.4 911.5 921.5 913.5 921.7 915.5 921.8 917.5 921.9 919.5 922.1 921.5 922.2 923.6 922.3 925.6 922.5 927.6 922.6 929.6 922.7 931.6 922.9 933.6 923.0 935.6 923.1 937.6 923.3 939.6 923.4 941.6 923.6 943.6 923.7 945.6 923.8 947.6 924.0 949.6 924.2 951.6 924.3 953.6 924.5 955.6 924.7 957.6 924.9 959.5 925.1 961.5 925.3 963.5 925.6 965.5 925.8 967.4 926.1 969.4 926.4 971.4 926.7 973.3 927.0 975.3 927.4 977.2 927.7 979.1 928.1 981.1 928.6 983.0 929.0 984.9 929.5 986.8 930.0 988.7 930.5 990.5 931.1 992.4 931.7 994.3 932.3 996.1 933.1 997.9 934.0 999.5 935.2 1000.9 936.8 1002.0 938.6 1002.9 940.6 1003.6 942.7 1004.2 944.9 1004.7 947.0 1005.2 949.0 1005.6 951.1 1006.0 953.1 1006.5 955.1 1006.9 957.0 1007.3 959.0 1007.7 960.9 1008.1 962.8 1008.5 964.8 1008.9 966.7 1009.3 968.6 1009.7 970.5 1010.2 972.4 1010.7 974.4 1011.2 976.3 1011.7 978.2 1012.1 980.2 1012.6 982.1 1013.1 984.1 1013.6 986.0 1014.1 988.0 1014.5 989.9 1014.9 991.9 1015.3 993.9 1015.7 995.8 1016.0 997.8 1016.3 999.8 1016.6 1001.8 1016.9 1003.7 1017.2 1005.7 1017.4 1007.7 1017.6 1009.7 1017.8 1011.7 1018.0 1013.7 1018.2 1015.7 1018.4 1017.7 1018.6 1019.6 1018.7 1021.6 1018.9 1023.6 1019.0 1025.6 1019.2 1027.6 1019.3 1029.6 1019.4 1031.6 1019.6 1033.6 1019.7 1035.6 1019.8 1037.6 1020.0 1039.6 1020.1 1041.6 1020.2 1043.6 1020.3 1045.6 1020.5 1047.6 1020.6 1049.6 1020.7 1051.6 1020.8 1053.6 1020.9 1055.6 1021.0 1057.6 1021.1 1059.6 1021.2 1061.6 1021.3 1063.6 1021.4 1065.6 1021.5 1067.6 1021.6 1069.6 1021.7 1071.5 1021.8 1073.5 1021.9 1075.5 1022.0 1077.5 1022.1 1079.5 1022.2 1081.5 1022.3 1083.5 1022.3 1085.5 1022.4 1087.5 1022.5 1089.5 1022.6 1091.5 1022.7 1093.5 1022.7 1095.5 1022.8 1097.5 1022.9 1099.5 1022.9 1101.5 1023.0 1103.5 1023.1 1105.5 1023.1 1107.5 1023.2 1109.5 1023.3 1111.5 1023.3 1113.5 1023.4 1115.5 1023.5 1117.5 1023.5 1119.5 1023.6 1121.5 1023.6 1123.5 1023.7 1125.5 1023.7 1127.5 1023.8 1129.5 1023.8 1131.5 1023.9 1133.5 1023.9 1135.5 1024.0 1137.5 1024.0 1139.5 1024.1 1141.5 1024.1 1143.5 1024.2 1145.5 1024.2 1147.5 1024.3 1149.5 1024.3 1151.5 1024.4 1153.5 1024.4 1155.5 1024.5 1157.5 1024.5 1159.4 1024.5 1161.4 1024.6 1163.4 1024.6 1165.4 1024.7 1167.4 1024.7 1169.4 1024.8 1171.4 1024.8 1173.4 1024.8 1175.4 1024.9 1177.4 1024.9 1179.4 1025.0 1181.4 1025.0 1183.4 1025.0 1185.4 1025.1 1187.4 1025.1 1189.4 1025.1 1191.4 1025.2 1193.4 1025.2 1195.4 1025.3 1197.4 1025.3 1199.4 1025.3 1201.4 1025.4 1203.4 1025.4 1205.4 1025.5 1207.4 1025.5 1209.4 1025.5 1211.4 1025.6 1213.4 1025.6 1215.4 1025.6 1217.4 1025.7 1219.4 1025.7 1221.4 1025.7 1223.4 1025.8 1225.4 1025.8 1227.4 1025.8 1229.4 1025.9 1231.4 1025.9 1233.4 1025.9 1235.4 1026.0 1237.4 1026.0 1239.4 1026.1 1241.4 1026.1 1243.4 1026.1 1245.4 1026.2 1247.4 1026.2 1249.4 1026.2 1251.4 1026.2 1253.4 1026.3 1255.4 1026.3 1257.4 1026.3 1259.4 1026.4 1261.4 1026.4 1263.4 1026.4 1265.4 1026.5 1267.4 1026.5 1269.4 1026.5 1271.4 1026.6 1273.4 1026.6 1275.4 1026.6 1277.4 1026.7 1279.4 1026.7 1281.4 1026.7 1283.3 1026.7 1285.3 1026.8 1287.3 1026.8 1289.3 1026.8 1291.3 1026.9 1293.3 1026.9 1295.3 1026.9 1297.3 1027.0 1299.3 1027.0 1301.3 1027.0 1303.3 1027.0 1305.3 1027.1 1307.3 1027.1 1309.3 1027.1 1311.3 1027.1 1313.3 1027.2 1315.3 1027.2 1317.3 1027.2 1319.3 1027.3 1321.3 1027.3 1323.3 1027.3 1325.3 1027.3 1327.3 1027.4 1329.3 1027.4 1331.3 1027.4 1333.3 1027.4 1335.3 1027.5 1337.3 1027.5 1339.3 1027.5 1341.3 1027.5 1343.3 1027.6 1345.3 1027.6 1347.3 1027.6 1349.3 1027.6 1351.3 1027.7 1353.3 1027.7 1355.3 1027.7 1357.3 1027.7 1359.3 1027.8 1361.3 1027.8 1363.3 1027.8 1365.3 1027.8 1367.3 1027.9 1369.3 1027.9 1371.3 1027.9 1373.3 1027.9 1375.3 1027.9 1377.3 1028.0 1379.3 1028.0 1381.3 1028.0 1383.3 1028.0 1385.3 1028.1 1387.3 1028.1 1389.3 1028.1 1391.3 1028.1 1393.3 1028.1 1395.3 1028.2 1397.3 1028.2 1399.3 1028.2 1401.3 1028.2 1403.3 1028.3 1405.3 1028.3 1407.3 1028.3 1409.3 1028.3 1411.3 1028.3 1413.3 1028.4 1415.3 1028.4 1417.3 1028.4 1419.3 1028.4 1421.3 1028.4 1423.3 1028.5 1425.3 1028.5 1427.2 1028.5 1429.2 1028.5 1431.2 1028.5 1433.2 1028.6 1435.2 1028.6 1437.2 1028.6 1439.2 1028.6 1441.2 1028.6 1443.2 1028.7 1445.2 1028.7 1447.2 1028.7 1449.2 1028.7 1451.2 1028.7 1453.2 1028.7 1455.2 1028.8 1457.2 1028.8 1459.2 1028.8 1461.2 1028.8 1463.2 1028.8 1465.2 1028.9 1467.2 1028.9 1469.2 1028.9 1471.2 1028.9 1473.2 1028.9 1475.2 1028.9 1477.2 1029.0 1479.2 1029.0 1481.2 1029.0 1483.2 1029.0 1485.2 1029.0 1487.2 1029.0 1489.2 1029.1 1491.2 1029.1 1493.2 1029.1 1495.2 1029.1 1497.2 1029.1 1499.2 1029.1 1501.2 1029.2 1503.2 1029.2 1505.2 1029.2 1507.2 1029.2 1509.2 1029.2 1511.2 1029.2 1513.2 1029.3 1515.2 1029.3 1517.2 1029.3 1519.2 1029.3 1521.2 1029.3 1523.2 1029.3 1525.2 1029.3 1527.2 1029.4 1529.2 1029.4 1531.2 1029.4 1533.2 1029.4 1535.2 1029.4 1537.2 1029.4 1539.2 1029.4 1541.2 1029.5 1543.2 1029.5 1545.2 1029.5 1547.2 1029.5 1549.2 1029.5 1551.2 1029.5 1553.2 1029.6 1555.2 1029.6 1557.2 1029.6 1559.2 1029.6 1561.2 1029.6 1563.2 1029.6 1565.2 1029.6 1567.2 1029.6 1569.2 1029.7 1571.2 1029.7 1573.2 1029.7 1575.2 1029.7 1577.2 1029.7 1579.2 1029.7 1581.2 1029.7 1583.2 1029.8 1585.1 1029.8 1587.1 1029.8 1589.1 1029.8 1591.1 1029.8 1593.1 1029.8 1595.1 1029.8 1597.1 1029.9 1599.1 1029.9 1601.1 1029.9 1603.1 1029.9 1605.1 1029.9 1607.1 1029.9 1609.1 1029.9 1611.1 1029.9 1613.1 1030.0 1615.1 1030.0 1617.1 1030.0 1619.1 1030.0 1621.1 1030.0 1623.1 1030.0 1625.1 1030.0 1627.1 1030.0 1629.1 1030.1 1631.1 1030.1 1633.1 1030.1 1635.1 1030.1 1637.1 1030.1 1639.1 1030.1 1641.1 1030.1 1643.1 1030.1 1645.1 1030.2 1647.1 1030.2 1649.1 1030.2 1651.1 1030.2 1653.1 1030.2 1655.1 1030.2 1657.1 1030.2 1659.1 1030.2 1661.1 1030.3 1663.1 1030.3 1665.1 1030.3 1667.1 1030.3 1669.1 1030.3 1671.1 1030.3 1673.1 1030.3 1675.1 1030.3 1677.1 1030.3 1679.1 1030.4 1681.1 1030.4 1683.1 1030.4 1685.1 1030.4 1687.1 1030.4 1689.1 1030.4 1691.1 1030.4 1693.1 1030.4 1695.1 1030.5 1697.1 1030.5 1699.1 1030.5 1701.1 1030.5 1703.1 1030.5 1705.1 1030.5 1707.1 1030.5 1709.1 1030.5 1711.1 1030.5 1713.1 1030.6 1715.1 1030.6 1717.1 1030.6 1719.1 1030.6 1721.1 1030.6 1723.1 1030.6 1725.1 1030.6 1727.1 1030.6 1729.1 1030.7 1731.1 1030.7 1733.1 1030.7 1735.1 1030.7 1737.1 1030.7 1739.1 1030.7 1741.1 1030.7 1743.0 1030.7 1745.0 1030.8 1747.0 1030.8 1749.0 1030.8 1751.0 1030.8 1753.0 1030.8 1755.0 1030.8 1757.0 1030.8 1759.0 1030.8 1761.0 1030.8 1763.0 1030.9 1765.0 1030.9 1767.0 1030.9 1769.0 1030.9 1771.0 1030.9 1773.0 1030.9 1775.0 1030.9 1777.0 1030.9 1779.0 1031.0 1781.0 1031.0 1783.0 1031.0 1785.0 1031.0 1787.0 1031.0 1789.0 1031.0 1791.0 1031.0 1793.0 1031.0 1795.0 1031.1 1797.0 1031.1 1799.0 1031.1 1801.0 1031.1 1803.0 1031.1 1805.0 1031.1 1807.0 1031.1 1809.0 1031.1 1811.0 1031.2 1813.0 1031.2 1815.0 1031.2 1817.0 1031.2"/>
<path class="cv" stroke="#00ff00" stroke-dasharray="13.96 15.74" stroke-dashoffset="1.56" d="M274.8 129.1L276.8 129.0 278.8 129.0 280.8 129.0 282.8 129.0 284.8 129.0 286.8 128.9 288.8 128.9 290.8 128.9 292.8 128.9 294.8 128.9 296.8 128.8 298.8 128.8 300.8 128.8 302.8 128.8 304.8 128.8 306.8 128.8 308.8 128.7 310.8 128.7 312.8 128.7 314.8 128.7 316.8 128.7 318.8 128.7 320.8 128.7 322.8 128.7 324.8 128.6 326.8 128.6 328.8 128.6 330.8 128.6 332.8 128.6 334.8 128.6 336.8 128.6 338.8 128.6 340.8 128.6 342.8 128.6 344.8 128.6 346.8 128.6 348.8 128.6 350.8 128.6 352.8 128.6 354.8 128.6 356.8 128.7 358.8 128.7 360.8 128.7 362.8 128.7 364.8 128.7 366.8 128.7 368.8 128.8 370.8 128.8 372.8 128.8 374.8 128.8 376.8 128.8 378.8 128.9 380.8 128.9 382.8 128.9 384.8 129.0 386.8 129.0 388.8 129.0 390.8 129.1 392.8 129.1 394.8 129.2 396.8 129.2 398.8 129.3 400.8 129.3 402.8 129.4 404.8 129.4 406.8 129.5 408.8 129.5 410.8 129.6 412.8 129.7 414.8 129.7 416.8 129.8 418.8 129.9 420.8 129.9 422.8 130.0 424.8 130.1 426.8 130.2 428.8 130.3 430.8 130.3 432.7 130.4 434.7 130.5 436.7 130.6 438.7 130.7 440.7 130.8 442.7 130.9 444.7 131.0 446.7 131.1 448.7 131.2 450.7 131.3 452.7 131.5 454.7 131.6 456.7 131.7 458.7 131.8 460.7 131.9 462.7 132.1 464.6 132.2 466.6 132.3 468.6 132.5 470.6 132.6 472.6 132.7 474.6 132.9 476.6 133.0 478.6 133.2 480.6 133.3 482.6 133.4 484.6 133.6 486.6 133.7 488.6 133.9 490.5 134.0 492.5 134.2 494.5 134.4 496.5 134.5 498.5 134.7 500.5 134.8 502.5 135.0 504.5 135.2 506.5 135.3 508.5 135.5 510.5 135.7 512.5 135.8 514.5 136.0 516.5 136.2 518.4 136.3 520.4 136.5 522.4 136.7 524.4 136.8 526.4 137.0 528.4 137.2 530.4 137.3 532.4 137.5 534.4 137.6 536.4 137.8 538.4 137.9 540.4 138.1 542.4 138.2 544.4 138.3 546.4 138.5 548.4 138.6 550.4 138.7 552.4 138.8 554.4 138.9 556.4 139.0 558.4 139.1 560.4 139.2 562.3 139.2 564.3 139.3 566.3 139.4 568.3 139.5 570.3 139.5 572.3 139.6 574.3 139.7 576.3 139.7 578.3 139.8 580.3 139.8 582.3 139.9 584.3 139.9 586.3 139.9 588.3 140.0 590.3 140.0 592.3 140.0 594.3 140.0 596.3 140.1 598.3 140.1 600.3 140.1 602.3 140.1 604.2 140.1 606.2 140.1 608.2 140.2 610.2 140.2 612.2 140.2 614.2 140.2 616.2 140.2 618.2 140.2 620.2 140.2 622.2 140.2 624.2 140.2 626.2 140.2 628.2 140.1 630.2 140.1 632.2 140.1 634.2 140.1 636.2 140.1 638.2 140.1 640.2 140.1 642.2 140.1 644.2 140.1 646.2 140.0 648.2 140.0 650.2 140.0 652.2 140.0 654.2 140.0 656.2 140.0 658.2 140.0 660.2 140.0 662.2 140.0 664.2 139.9 666.2 139.9 668.2 139.9 670.2 139.9 672.2 139.9 674.2 139.9 676.2 139.9 678.2 139.9 680.2 139.9 682.2 139.9 684.2 139.9 686.2 139.9 688.2 139.9 690.2 139.9 692.2 139.9 694.2 139.9 696.2 140.0 698.2 140.0 700.2 140.0 702.2 140.0 704.2 140.1 706.2 140.1 708.2 140.1 710.2 140.1 712.2 140.2 714.3 140.2 716.3 140.3 718.3 140.3 720.3 140.4 722.3 140.4 724.3 140.5 726.3 140.6 728.3 140.6 730.3 140.7 732.3 140.8 734.3 140.9 736.3 141.0 738.3 141.2 740.3 141.3 742.3 141.5 744.3 141.7 746.3 141.9 748.3 142.1 750.3 142.4 752.2 142.6 754.2 142.9 756.2 143.3 758.1 143.6 760.1 144.0 762.0 144.4 764.0 144.9 765.9 145.3 767.9 145.9 769.8 146.4 771.7 147.0 773.6 147.6 775.5 148.3 777.4 149.0 779.2 149.7 781.1 150.5 782.9 151.3 784.7 152.1 786.5 153.0 788.3 154.0 790.0 154.9"/>
<path class="cv" stroke="#00ff00" stroke-dasharray="14.15 15.95" stroke-dashoffset="2.38" d="M790.0 154.9L791.8 156.0 793.5 157.0 795.1 158.1 796.7 159.2 798.4 160.4 799.9 161.6 801.4 162.9 802.9 164.2 804.4 165.5 805.8 166.9 807.2 168.3 808.5 169.8 809.8 171.3 811.1 172.8 812.3 174.4 813.5 176.0 814.6 177.7 815.7 179.3 816.8 181.0 817.9 182.7 818.9 184.5 819.9 186.2 820.9 188.0 821.9 189.7 822.8 191.5 823.7 193.3 824.7 195.1 825.6 196.9 826.5 198.7 827.4 200.5 828.2 202.3 829.1 204.1 829.9 206.0 830.7 207.8 831.6 209.6 832.3 211.4 833.1 213.3 833.9 215.1 834.7 217.0 835.4 218.8 836.2 220.7 836.9 222.5 837.6 224.4 838.3 226.3 839.0 228.2 839.7 230.0 840.3 231.9 841.0 233.8 841.7 235.7 842.3 237.6 842.9 239.5 843.5 241.4 844.2 243.3 844.8 245.2 845.4 247.1 845.9 249.0 846.5 250.9 847.1 252.8 847.6 254.7 848.2 256.6 848.7 258.6 849.3 260.5 849.8 262.4 850.3 264.3 850.8 266.3 851.3 268.2 851.8 270.2 852.3 272.1 852.8 274.0 853.3 276.0 853.8 277.9 854.3 279.9 854.7 281.8 855.2 283.7 855.6 285.7 856.1 287.6 856.5 289.6 857.0 291.5 857.4 293.5 857.9 295.4 858.3 297.4 858.7 299.4 859.2 301.3 859.6 303.3 860.0 305.2 860.4 307.2 860.8 309.1 861.3 311.1 861.7 313.0 862.1 315.0 862.5 317.0 862.9 318.9 863.3 320.9 863.7 322.8 864.1 324.8 864.4 326.8 864.8 328.7 865.2 330.7 865.6 332.7 866.0 334.6 866.3 336.6 866.7 338.5 867.1 340.5 867.5 342.5 867.8 344.4 868.2 346.4 868.5 348.4 868.9 350.3 869.3 352.3 869.6 354.3 870.0 356.2 870.3 358.2 870.6 360.2 871.0 362.2 871.3 364.1 871.7 366.1 872.0 368.1 872.3 370.0 872.7 372.0 873.0 374.0 873.3 375.9 873.6 377.9 874.0 379.9 874.3 381.9 874.6 383.8 874.9 385.8 875.2 387.8 875.5 389.8 875.8 391.7 876.1 393.7 876.4 395.7 876.7 397.7 877.0 399.6 877.3 401.6 877.6 403.6 877.9 405.6 878.2 407.5 878.5 409.5 878.8 411.5 879.1 413.5 879.4 415.5 879.6 417.4 879.9 419.4 880.2 421.4 880.5 423.4 880.7 425.4 881.0 427.3 881.3 429.3 881.5 431.3 881.8 433.3 882.1 435.3 882.3 437.2 882.6 439.2 882.9 441.2 883.1 443.2 883.4 445.2 883.6 447.2 883.9 449.1 884.1 451.1 884.4 453.1 884.6 455.1 884.9 457.1 885.1 459.1 885.4 461.0 885.6 463.0 885.8 465.0 886.1 467.0 886.3 469.0 886.6 471.0 886.8 473.0 887.0 474.9 887.2 476.9 887.5 478.9 887.7 480.9 887.9 482.9 888.2 484.9 888.4 486.9 888.6 488.8 888.8 490.8 889.1 492.8 889.3 494.8 889.5 496.8 889.7 498.8 889.9 500.8 890.1 502.8 890.4 504.7 890.6 506.7 890.8 508.7 891.0 510.7 891.2 512.7 891.4 514.7 891.6 516.7 891.8 518.7 892.0 520.7 892.2 522.6 892.4 524.6 892.6 526.6 892.8 528.6 893.0 530.6 893.2 532.6 893.4 534.6 893.6 536.6 893.8 538.6 894.0 540.6 894.2 542.5 894.4 544.5 894.6 546.5 894.8 548.5 895.0 550.5 895.1 552.5 895.3 554.5 895.5 556.5 895.7 558.5 895.9 560.5 896.1 562.4 896.3 564.4 896.4 566.4 896.6 568.4 896.8 570.4 897.0 572.4 897.1 574.4 897.3 576.4 897.5 578.4 897.7 580.4 897.8 582.4 898.0 584.4 898.2 586.3 898.4 588.3 898.5 590.3 898.7 592.3 898.9 594.3 899.0 596.3 899.2 598.3 899.4 600.3 899.5 602.3 899.7 604.3 899.9 606.3 900.0 608.3 900.2 610.3 900.4 612.3 900.5 614.2 900.7 616.2 900.8 618.2 901.0 620.2 901.2 622.2 901.3 624.2 901.5 626.2 901.6 628.2 901.8 630.2 901.9 632.2 902.1 634.2 902.3 636.2 902.4 638.2 902.6 640.2 902.7 642.2 902.9 644.2 903.0 646.1 903.2 648.1 903.3 650.1 903.5 652.1 903.6 654.1 903.8 656.1 903.9 658.1 904.1 660.1 904.2 662.1 904.4 664.1 904.5 666.1 904.6 668.1 904.8 670.1 904.9 672.1 905.1 674.1 905.2 676.1 905.4 678.1 905.5 680.1 905.7 682.1 905.8 684.0 905.9 686.0 906.1 688.0 906.2 690.0 906.4 692.0 906.5 694.0 906.6 696.0 906.8 698.0 906.9 700.0 907.0 702.0 907.2 704.0 907.3 706.0 907.5 708.0 907.6 710.0 907.7 712.0 907.9 714.0 908.0 716.0 908.1 718.0 908.3 720.0 908.4 722.0 908.5 723.9 908.7 725.9 908.8 727.9 909.0 729.9 909.1 731.9 909.2 733.9 909.4 735.9 909.5 737.9 909.6 739.9 909.8 741.9 909.9 743.9 910.0 745.9 910.1 747.9 910.3 749.9 910.4 751.9 910.5 753.9 910.7 755.9 910.8 757.9 910.9 759.9 911.1 761.9 911.2 763.9 911.3 765.9 911.5 767.8 911.6 769.8 911.7 771.8 911.9 773.8 912.0 775.8 912.1 777.8 912.3 779.8 912.4 781.8 912.5 783.8 912.6 785.8 912.8 787.8 912.9 789.8 913.0 791.8 913.2 793.8 913.3 795.8 913.4 797.8 913.6 799.8 913.7 801.8 913.8 803.8 914.0 805.7 914.1 807.7 914.2 809.7 914.4 811.7 914.5 813.7 914.6 815.7 914.7 817.7 914.9 819.7 915.0 821.7 915.1 823.7 915.3 825.7 915.4 827.7 915.5 829.7 915.7 831.7 915.8 833.7 915.9 835.7 916.1 837.7 916.2 839.7 916.3 841.6 916.5 843.6 916.6 845.6 916.8 847.6 916.9 849.6 917.0 851.6 917.2 853.6 917.3 855.6 917.4 857.6 917.6 859.6 917.7 861.6 917.8 863.6 918.0 865.6 918.1 867.6 918.3 869.6 918.4 871.5 918.5 873.5 918.7 875.5 918.8 877.5 919.0 879.5 919.1 881.5 919.2 883.5 919.4 885.5 919.5 887.5 919.7 889.5 919.8 891.5 920.0 893.5 920.1 895.5 920.2 897.4 920.4 899.4 920.5 901.4 920.7 903.4 920.8 905.4 921.0 907.4 921.1 909.4 921.3 911.4 921.4 913.4 921.6 915.4 921.7 917.4 921.9 919.4 922.0 921.3 922.2 923.3 922.3 925.3 922.5 927.3 922.6 929.3 922.8 931.3 922.9 933.3 923.1 935.3 923.2 937.3 923.4 939.3 923.6 941.2 923.7 943.2 923.9 945.2 924.0 947.2 924.2 949.2 924.4 951.2 924.5 953.2 924.7 955.2 924.8 957.3 925.0 959.3 925.2 961.3 925.3 963.3 925.5 965.4 925.7 967.4 925.9 969.5 926.1 971.6 926.3 973.6 926.6 975.6 927.0 977.6 927.5 979.5 928.2 981.3 928.6 982.1"/>
<path class="cv" stroke="#00ff00" stroke-dasharray="12.97 14.63" stroke-dashoffset="6.97" d="M928.6 982.1L929.5 983.8 930.6 985.4 931.8 986.8 933.2 988.2 934.7 989.4 936.2 990.6 937.8 991.7 939.5 992.8 941.2 993.7 943.0 994.6 944.7 995.4 946.5 996.2 948.4 996.9 950.2 997.6 952.1 998.2 954.0 998.8 955.9 999.3 957.9 999.8 959.9 1000.2 961.8 1000.7 963.8 1001.0 965.8 1001.4 967.8 1001.8 969.8 1002.1 971.9 1002.4 973.9 1002.7 975.9 1003.0 977.9 1003.3 979.9 1003.6 981.9 1003.9 983.9 1004.2 985.9 1004.5 988.0 1004.8 990.0 1005.1 992.0 1005.3 994.0 1005.6 995.9 1005.9 997.9 1006.2 999.9 1006.4 1001.9 1006.7 1003.9 1007.0 1005.9 1007.2 1007.9 1007.5 1009.9 1007.8 1011.9 1008.0 1013.8 1008.3 1015.8 1008.5 1017.8 1008.8 1019.8 1009.0 1021.8 1009.2 1023.7 1009.5 1025.7 1009.7 1027.7 1009.9 1029.7 1010.1 1031.6 1010.4 1033.6 1010.6 1035.6 1010.8 1037.6 1011.0 1039.6 1011.2 1041.5 1011.4 1043.5 1011.6 1045.5 1011.8 1047.5 1011.9 1049.4 1012.1 1051.4 1012.3 1053.4 1012.5 1055.4 1012.6 1057.4 1012.8 1059.4 1012.9 1061.3 1013.1 1063.3 1013.2 1065.3 1013.4 1067.3 1013.5 1069.3 1013.6 1071.3 1013.8 1073.3 1013.9 1075.3 1014.0 1077.2 1014.1 1079.2 1014.3 1081.2 1014.4 1083.2 1014.5 1085.2 1014.6 1087.2 1014.7 1089.2 1014.8 1091.2 1014.9 1093.2 1014.9 1095.2 1015.0 1097.2 1015.1 1099.2 1015.2 1101.2 1015.3 1103.2 1015.3 1105.2 1015.4 1107.2 1015.5 1109.1 1015.6 1111.1 1015.6 1113.1 1015.7 1115.1 1015.7 1117.1 1015.8 1119.1 1015.9 1121.1 1015.9 1123.1 1016.0 1125.1 1016.0 1127.1 1016.1 1129.1 1016.1 1131.1 1016.2 1133.1 1016.2 1135.1 1016.2 1137.1 1016.3 1139.2 1016.3 1141.2 1016.4 1143.2 1016.4 1145.2 1016.4 1147.2 1016.5 1149.2 1016.5 1151.2 1016.5 1153.2 1016.6 1155.2 1016.6 1157.2 1016.6 1159.2 1016.6 1161.2 1016.7 1163.2 1016.7 1165.2 1016.7 1167.2 1016.8 1169.2 1016.8 1171.2 1016.8 1173.2 1016.8 1175.2 1016.9 1177.2 1016.9 1179.2 1016.9 1181.2 1017.0 1183.2 1017.0 1185.2 1017.0 1187.2 1017.0 1189.2 1017.1 1191.2 1017.1 1193.2 1017.1 1195.2 1017.2 1197.2 1017.2 1199.2 1017.2 1201.2 1017.3 1203.2 1017.3 1205.2 1017.3 1207.2 1017.3 1209.2 1017.4 1211.2 1017.4 1213.2 1017.4 1215.2 1017.5 1217.2 1017.5 1219.3 1017.5 1221.3 1017.6 1223.3 1017.6 1225.3 1017.6 1227.3 1017.6 1229.3 1017.7 1231.3 1017.7 1233.3 1017.7 1235.3 1017.8 1237.3 1017.8 1239.3 1017.8 1241.3 1017.9 1243.3 1017.9 1245.3 1017.9 1247.3 1017.9 1249.3 1018.0 1251.3 1018.0 1253.3 1018.0 1255.3 1018.1 1257.3 1018.1 1259.3 1018.1 1261.3 1018.2 1263.3 1018.2 1265.3 1018.2 1267.3 1018.3 1269.3 1018.3 1271.3 1018.3 1273.3 1018.4 1275.3 1018.4 1277.3 1018.4 1279.3 1018.5 1281.3 1018.5 1283.3 1018.5 1285.3 1018.6 1287.3 1018.6 1289.3 1018.6 1291.3 1018.6 1293.3 1018.7 1295.3 1018.7 1297.3 1018.7 1299.3 1018.8 1301.3 1018.8 1303.3 1018.8 1305.3 1018.9 1307.3 1018.9 1309.3 1018.9 1311.3 1019.0 1313.3 1019.0 1315.3 1019.0 1317.3 1019.1 1319.3 1019.1 1321.3 1019.1 1323.3 1019.2 1325.3 1019.2 1327.3 1019.2 1329.3 1019.3 1331.3 1019.3 1333.3 1019.3 1335.3 1019.4 1337.3 1019.4 1339.3 1019.4 1341.3 1019.5 1343.3 1019.5 1345.3 1019.5 1347.3 1019.6 1349.3 1019.6 1351.3 1019.6 1353.3 1019.7 1355.3 1019.7 1357.3 1019.7 1359.3 1019.8 1361.3 1019.8 1363.3 1019.8 1365.3 1019.9 1367.3 1019.9 1369.3 1019.9 1371.3 1020.0 1373.3 1020.0 1375.3 1020.0 1377.3 1020.1 1379.2 1020.1 1381.2 1020.1 1383.2 1020.2 1385.2 1020.2 1387.2 1020.2 1389.2 1020.3 1391.2 1020.3 1393.2 1020.3 1395.2 1020.4 1397.2 1020.4 1399.2 1020.4 1401.2 1020.5 1403.2 1020.5 1405.2 1020.5 1407.2 1020.6 1409.2 1020.6 1411.2 1020.6 1413.2 1020.7 1415.2 1020.7 1417.2 1020.8 1419.2 1020.8 1421.2 1020.8 1423.2 1020.9 1425.2 1020.9 1427.2 1020.9 1429.2 1021.0 1431.2 1021.0 1433.2 1021.0 1435.2 1021.1 1437.2 1021.1 1439.2 1021.1 1441.2 1021.2 1443.2 1021.2 1445.2 1021.2 1447.2 1021.3 1449.2 1021.3 1451.2 1021.3 1453.2 1021.4 1455.2 1021.4 1457.2 1021.4 1459.2 1021.5 1461.2 1021.5 1463.2 1021.5 1465.2 1021.6 1467.2 1021.6 1469.2 1021.6 1471.2 1021.7 1473.2 1021.7 1475.2 1021.7 1477.2 1021.8 1479.2 1021.8 1481.2 1021.8 1483.2 1021.9 1485.2 1021.9 1487.2 1021.9 1489.1 1022.0 1491.1 1022.0 1493.1 1022.0 1495.1 1022.1 1497.1 1022.1 1499.1 1022.1 1501.1 1022.2 1503.1 1022.2 1505.1 1022.2 1507.1 1022.3 1509.1 1022.3 1511.1 1022.3 1513.1 1022.4 1515.1 1022.4 1517.1 1022.4 1519.1 1022.5 1521.1 1022.5 1523.1 1022.5 1525.1 1022.6 1527.1 1022.6 1529.1 1022.6 1531.1 1022.7 1533.1 1022.7 1535.1 1022.7 1537.1 1022.8 1539.1 1022.8 1541.1 1022.8 1543.1 1022.9 1545.1 1022.9 1547.1 1022.9 1549.1 1023.0 1551.1 1023.0 1553.1 1023.0 1555.1 1023.1 1557.1 1023.1 1559.1 1023.1 1561.1 1023.2 1563.1 1023.2 1565.1 1023.2 1567.1 1023.3 1569.1 1023.3 1571.1 1023.3 1573.1 1023.4 1575.1 1023.4 1577.1 1023.4 1579.1 1023.5 1581.1 1023.5 1583.1 1023.5 1585.1 1023.6 1587.0 1023.6 1589.0 1023.6 1591.0 1023.7 1593.0 1023.7 1595.0 1023.7 1597.0 1023.8 1599.0 1023.8 1601.0 1023.8 1603.0 1023.8 1605.0 1023.9 1607.0 1023.9 1609.0 1023.9 1611.0 1024.0 1613.0 1024.0 1615.0 1024.0 1617.0 1024.1 1619.0 1024.1 1621.0 1024.1 1623.0 1024.2 1625.0 1024.2 1627.0 1024.2 1629.0 1024.3 1631.0 1024.3 1633.0 1024.3 1635.0 1024.3 1637.0 1024.4 1639.0 1024.4 1641.0 1024.4 1643.0 1024.5 1645.0 1024.5 1647.0 1024.5 1649.0 1024.6 1651.0 1024.6 1653.0 1024.6 1655.0 1024.6 1657.0 1024.7 1659.0 1024.7 1661.0 1024.7 1663.0 1024.8 1665.0 1024.8 1667.0 1024.8 1669.0 1024.9 1671.0 1024.9 1673.0 1024.9 1675.0 1024.9 1677.0 1025.0 1679.0 1025.0 1681.0 1025.0 1683.0 1025.1 1685.0 1025.1 1687.0 1025.1 1689.0 1025.1 1691.0 1025.2 1693.0 1025.2 1695.0 1025.2 1697.0 1025.3 1699.0 1025.3 1701.0 1025.3 1703.0 1025.3 1705.0 1025.4 1707.0 1025.4 1709.0 1025.4 1711.0 1025.5 1713.0 1025.5 1715.0 1025.5 1717.0 1025.5 1719.0 1025.6 1721.0 1025.6 1723.0 1025.6 1725.0 1025.6 1727.0 1025.7 1729.0 1025.7 1731.0 1025.7 1733.0 1025.8 1735.0 1025.8 1737.0 1025.8 1739.0 1025.8 1741.0 1025.9 1743.0 1025.9 1745.0 1025.9 1747.0 1025.9 1749.0 1026.0 1751.0 1026.0 1753.0 1026.0 1755.0 1026.0 1757.0 1026.1 1759.0 1026.1 1761.0 1026.1 1763.0 1026.1 1765.0 1026.2 1767.0 1026.2 1769.0 1026.2 1771.0 1026.2 1773.0 1026.3 1775.0 1026.3 1777.0 1026.3 1779.0 1026.3 1781.0 1026.4 1783.0 1026.4 1785.0 1026.4 1787.0 1026.4 1789.0 1026.5 1791.0 1026.5 1793.0 1026.5 1795.0 1026.5 1797.0 1026.5 1799.0 1026.6 1801.0 1026.6 1803.0 1026.6 1805.0 1026.6 1807.0 1026.7 1809.0 1026.7 1811.0 1026.7 1813.0 1026.7 1815.0 1026.7 1817.0 1026.8"/>
<path class="cv" stroke="#0000ff" d="M274.8 128.9L276.8 128.9 278.8 128.9 280.8 128.9 282.8 128.9 284.8 128.9 286.8 128.9 288.8 128.9 290.8 128.8 292.8 128.8 294.8 128.8 296.8 128.8 298.7 128.8 300.7 128.8 302.7 128.7 304.7 128.7 306.7 128.7 308.7 128.7 310.7 128.7 312.7 128.6 314.7 128.6 316.7 128.6 318.7 128.6 320.7 128.5 322.7 128.5 324.7 128.5 326.7 128.5 328.7 128.4 330.7 128.4 332.7 128.4 334.7 128.4 336.7 128.3 338.8 128.3 340.8 128.3 342.8 128.3 344.8 128.2 346.8 128.2 348.8 128.2 350.8 128.2 352.8 128.2 354.8 128.2 356.8 128.1 358.8 128.1 360.8 128.1 362.8 128.1 364.8 128.1 366.8 128.1 368.8 128.1 370.8 128.1 372.8 128.1 374.8 128.1 376.8 128.1 378.8 128.1 380.8 128.1 382.8 128.1 384.8 128.1 386.8 128.1 388.8 128.2 390.8 128.2 392.8 128.2 394.8 128.2 396.8 128.3 398.8 128.3 400.8 128.3 402.8 128.4 404.8 128.4 406.8 128.5 408.8 128.5 410.8 128.6 412.8 128.6 414.8 128.7 416.8 128.7 418.8 128.8 420.8 128.9 422.8 129.0 424.8 129.0 426.8 129.1 428.8 129.2 430.8 129.3 432.8 129.4 434.8 129.5 436.8 129.6 438.8 129.7 440.8 129.9 442.8 130.0 444.8 130.1 446.8 130.2 448.8 130.4 450.8 130.5 452.8 130.7 454.8 130.8 456.7 131.0 458.7 131.1 460.7 131.3 462.7 131.4 464.7 131.6 466.7 131.8 468.7 131.9 470.7 132.1 472.7 132.3 474.7 132.4 476.7 132.6 478.6 132.8 480.6 133.0 482.6 133.1 484.6 133.3 486.6 133.5 488.6 133.7 490.6 133.9 492.6 134.0 494.6 134.2 496.6 134.4 498.5 134.6 500.5 134.8 502.5 134.9 504.5 135.1 506.5 135.3 508.5 135.5 510.5 135.6 512.5 135.8 514.5 136.0 516.5 136.1 518.5 136.3 520.4 136.5 522.4 136.6 524.4 136.8 526.4 136.9 528.4 137.1 530.4 137.2 532.4 137.4 534.4 137.5 536.4 137.6 538.4 137.8 540.4 137.9 542.4 138.0 544.4 138.2 546.4 138.3 548.3 138.4 550.3 138.5 552.3 138.6 554.3 138.7 556.3 138.8 558.3 138.9 560.3 139.0 562.3 139.1 564.3 139.2 566.3 139.2 568.3 139.3 570.3 139.4 572.3 139.5 574.3 139.5 576.3 139.6 578.3 139.7 580.3 139.7 582.3 139.8 584.3 139.9 586.3 139.9 588.3 140.0 590.3 140.0 592.3 140.1 594.3 140.1 596.3 140.2 598.3 140.2 600.3 140.2 602.3 140.3 604.3 140.3 606.3 140.4 608.3 140.4 610.3 140.4 612.3 140.5 614.3 140.5 616.3 140.5 618.3 140.5 620.3 140.6 622.3 140.6 624.3 140.6 626.3 140.6 628.3 140.7 630.3 140.7 632.3 140.7 634.3 140.7 636.3 140.7 638.3 140.8 640.3 140.8 642.3 140.8 644.3 140.8 646.3 140.8 648.3 140.8 650.3 140.9 652.3 140.9 654.3 140.9 656.3 140.9 658.3 140.9 660.3 140.9 662.3 141.0 664.3 141.0 666.3 141.0 668.3 141.0 670.3 141.0 672.3 141.0 674.3 141.1 676.3 141.1 678.3 141.1 680.3 141.1 682.3 141.2 684.3 141.2 686.3 141.2 688.3 141.2 690.3 141.3 692.3 141.3 694.3 141.3 696.3 141.4 698.3 141.4 700.3 141.4 702.3 141.5 704.3 141.5 706.3 141.5 708.3 141.6 710.3 141.6 712.3 141.7 714.3 141.7 716.3 141.8 718.3 141.8 720.3 141.9 722.3 141.9 724.3 142.0 726.3 142.0 728.3 142.1 730.3 142.2 732.3 142.2 734.3 142.3 736.3 142.4 738.3 142.5 740.2 142.5 742.2 142.6 744.2 142.7 746.2 142.8 748.2 142.9 750.2 143.0 752.2 143.1 754.2 143.2 756.2 143.3 758.2 143.4 760.2 143.5 762.1 143.7 764.1 143.8 766.1 143.9 768.1 144.1 770.1 144.2 772.1 144.4 774.1 144.6 776.0 144.8 778.0 145.0 780.0 145.3 782.0 145.6 783.9 145.9 785.9 146.2 787.9 146.6 789.8 147.0 791.8 147.4 793.8 147.9 795.7 148.4 797.7 149.0 799.6 149.6 801.5 150.3 803.5 151.0 805.4 151.7 807.3 152.5 809.1 153.3 811.0 154.2 812.8 155.1 814.6 156.0 816.4 157.0 818.1 158.1 819.8 159.2 821.5 160.3 823.1 161.5 824.7 162.7 826.2 163.9 827.7 165.3 829.1 166.6 830.5 168.0 831.8 169.4 833.1 170.9 834.3 172.4 835.5 173.9 836.7 175.5 837.8 177.1 838.9 178.7 839.9 180.4 841.0 182.1 841.9 183.8 842.9 185.5 843.8 187.3 844.7 189.1 845.6 190.9 846.5 192.7 847.3 194.5 848.1 196.3 848.9 198.2 849.7 200.1 850.5 201.9 851.2 203.8 852.0 205.7 852.7 207.6 853.4 209.5 854.1 211.4 854.8 213.3 855.5 215.1 856.2 217.0 856.9 218.9 857.5 220.8 858.2 222.7 858.9 224.6 859.5 226.5 860.2 228.5 860.8 230.4 861.4 232.3 862.0 234.2 862.6 236.1 863.2 238.0 863.8 239.9 864.4 241.8 865.0 243.8 865.6 245.7 866.2 247.6 866.7 249.5 867.3 251.4 867.8 253.4 868.4 255.3 868.9 257.2 869.4 259.2 870.0 261.1 870.5 263.0 871.0 264.9 871.5 266.9 872.0 268.8 872.5 270.8 873.0 272.7 873.5 274.6 873.9 276.6 874.4 278.5 874.9 280.5 875.3 282.4 875.8 284.3 876.2 286.3 876.7 288.2 877.1 290.2 877.6 292.1 878.0 294.1 878.4 296.0 878.8 298.0 879.2 299.9 879.7 301.9 880.1 303.8 880.5 305.8 880.9 307.8 881.2 309.7 881.6 311.7 882.0 313.6 882.4 315.6 882.8 317.6 883.1 319.5 883.5 321.5 883.9 323.4 884.2 325.4 884.6 327.4 884.9 329.3 885.3 331.3 885.6 333.3 886.0 335.2 886.3 337.2 886.6 339.2 887.0 341.1 887.3 343.1 887.6 345.1 887.9 347.1 888.2 349.0 888.6 351.0 888.9 353.0 889.2 355.0 889.5 356.9 889.8 358.9 890.1 360.9 890.4 362.9 890.7 364.8 891.0 366.8 891.3 368.8 891.6 370.8 891.9 372.7 892.1 374.7 892.4 376.7 892.7 378.7 893.0 380.6 893.3 382.6 893.6 384.6 893.8 386.6 894.1 388.6 894.4 390.5 894.6 392.5 894.9 394.5 895.2 396.5 895.5 398.5 895.7 400.5 896.0 402.4 896.2 404.4 896.5 406.4 896.8 408.4 897.0 410.4 897.3 412.3 897.5 414.3 897.8 416.3 898.1 418.3 898.3 420.3 898.6 422.3 898.8 424.2 899.1 426.2 899.3 428.2 899.6 430.2 899.8 432.2 900.0 434.2 900.3 436.2 900.5 438.1 900.8 440.1 901.0 442.1 901.3 444.1 901.5 446.1 901.7 448.1 902.0 450.1 902.2 452.0 902.4 454.0 902.7 456.0 902.9 458.0 903.1 460.0 903.3 462.0 903.6 464.0 903.8 465.9 904.0 467.9 904.2 469.9 904.5 471.9 904.7 473.9 904.9 475.9 905.1 477.9 905.3 479.9 905.6 481.9 905.8 483.8 906.0 485.8 906.2 487.8 906.4 489.8 906.6 491.8 906.8 493.8 907.1 495.8 907.3 497.8 907.5 499.8 907.7 501.7 907.9 503.7 908.1 505.7 908.3 507.7 908.5 509.7 908.7 511.7 908.9 513.7 909.1 515.7 909.3 517.7 909.5 519.7 909.7 521.7 909.9 523.6 910.1 525.6 910.3 527.6 910.4 529.6 910.6 531.6 910.8 533.6 911.0 535.6 911.2 537.6 911.4 539.6 911.6 541.6 911.8 543.6 911.9 545.6 912.1 547.5 912.3 549.5 912.5 551.5 912.7 553.5 912.8 555.5 913.0 557.5 913.2 559.5 913.4 561.5 913.6 563.5 913.7 565.5 913.9 567.5 914.1 569.5 914.2 571.5 914.4 573.5 914.6 575.5 914.8 577.4 914.9 579.4 915.1 581.4 915.3 583.4 915.4 585.4 915.6 587.4 915.7 589.4 915.9 591.4 916.1 593.4 916.2 595.4 916.4 597.4 916.6 599.4 916.7 601.4 916.9 603.4 917.0 605.4 917.2 607.4 917.3 609.4 917.5 611.3 917.6 613.3 917.8 615.3 918.0 617.3 918.1 619.3 918.3 621.3 918.4 623.3 918.6 625.3 918.7 627.3 918.9 629.3 919.0 631.3 919.1 633.3 919.3 635.3 919.4 637.3 919.6 639.3 919.7 641.3 919.9 643.3 920.0 645.3 920.1 647.3 920.3 649.2 920.4 651.2 920.6 653.2 920.7 655.2 920.8 657.2 921.0 659.2 921.1 661.2 921.3 663.2 921.4 665.2 921.5 667.2 921.7 669.2 921.8 671.2 921.9 673.2 922.1 675.2 922.2 677.2 922.3 679.2 922.4 681.2 922.6 683.2 922.7 685.2 922.8 687.2 923.0 689.1 923.1 691.1 923.2 693.1 923.3 695.1 923.5 697.1 923.6 699.1 923.7 701.1 923.8 703.1 924.0 705.1 924.1 707.1 924.2 709.1 924.3 711.1 924.4 713.1 924.6 715.1 924.7 717.1 924.8 719.1 924.9 721.1 925.1 723.1 925.2 725.1 925.3 727.0 925.4 729.0 925.6 731.0 925.7 733.0 925.8 735.0 925.9 737.0 926.0 739.0 926.2 741.0 926.3 743.0 926.4 745.0 926.5 747.0 926.7 749.0 926.8 751.0 926.9 753.0 927.0 755.0 927.2 757.0 927.3 759.0 927.4 761.0 927.5 763.0 927.7 764.9 927.8 766.9 927.9 768.9 928.1 770.9 928.2 772.9 928.3 774.9 928.5 776.9 928.6 778.9 928.7 780.9 928.9 782.9 929.0 784.9 929.1 786.9 929.3 788.9 929.4 790.9 929.5 792.9 929.7 794.9 929.8 796.9 930.0 798.9 930.1 800.9 930.2 802.9 930.4 804.8 930.5 806.8 930.7 808.8 930.8 810.8 931.0 812.8 931.1 814.8 931.3 816.8 931.4 818.8 931.6 820.8 931.7 822.8 931.9 824.8 932.1 826.8 932.2 828.8 932.4 830.8 932.5 832.8 932.7 834.8 932.9 836.8 933.0 838.8 933.2 840.8 933.4 842.8 933.5 844.8 933.7 846.8 933.9 848.8 934.1 850.8 934.3 852.7 934.4 854.7 934.6 856.7 934.8 858.7 935.0 860.7 935.2 862.7 935.4 864.7 935.6 866.7 935.8 868.7 935.9 870.7 936.1 872.7 936.3 874.7 936.5 876.7 936.7 878.7 936.9 880.6 937.1 882.6 937.3 884.6 937.5 886.6 937.7 888.5 937.9 890.5 938.1 892.4 938.2 894.4 938.4 896.3 938.6 898.3 938.8 900.2 939.0 902.2 939.1 904.2 939.3 906.2 939.5 908.2 939.7 910.2 939.8 912.3 940.0 914.4 940.2 916.6 940.3 918.7 940.5 921.0 940.7 923.2 941.0 925.3 941.5 927.3 942.2 929.1 943.2 930.7 944.5 932.0 946.0 933.0 947.7 933.9 949.5 934.6 951.3 935.4 953.1 936.1 955.0 936.8 956.8 937.5 958.7 938.1 960.5 938.8 962.4 939.4 964.3 940.0 966.2 940.6 968.1 941.1 970.0 941.6 971.9 942.2 973.8 942.7 975.7 943.1 977.6 943.6 979.6 944.0 981.5 944.5 983.5 944.9 985.4 945.3 987.4 945.7 989.3 946.0 991.3 946.4 993.3 946.7 995.3 947.1 997.2 947.4 999.2 947.7 1001.2 948.0 1003.2 948.3 1005.2 948.6 1007.2 948.8 1009.2 949.1 1011.2 949.3 1013.2 949.6 1015.2 949.8 1017.2 950.0 1019.2 950.3 1021.2 950.5 1023.2 950.7 1025.2 950.9 1027.2 951.1 1029.2 951.3 1031.2 951.5 1033.2 951.7 1035.2 951.9 1037.2 952.0 1039.2 952.2 1041.3 952.4 1043.3 952.6 1045.3 952.7 1047.3 952.9 1049.3 953.0 1051.3 953.2 1053.3 953.4 1055.3 953.5 1057.3 953.6 1059.3 953.8 1061.3 953.9 1063.3 954.1 1065.3 954.2 1067.3 954.3 1069.3 954.4 1071.3 954.6 1073.3 954.7 1075.3 954.8 1077.3 954.9 1079.3 955.0 1081.3 955.1 1083.3 955.2 1085.3 955.3 1087.3 955.4 1089.3 955.5 1091.3 955.6 1093.3 955.7 1095.3 955.8 1097.3 955.9 1099.3 955.9 1101.2 956.0 1103.2 956.1 1105.2 956.2 1107.2 956.2 1109.2 956.3 1111.2 956.4 1113.2 956.5 1115.2 956.5 1117.2 956.6 1119.2 956.6 1121.2 956.7 1123.2 956.8 1125.2 956.8 1127.2 956.9 1129.2 956.9 1131.2 957.0 1133.2 957.0 1135.2 957.1 1137.2 957.1 1139.2 957.2 1141.2 957.2 1143.2 957.3 1145.2 957.3 1147.2 957.4 1149.2 957.4 1151.2 957.4 1153.2 957.5 1155.2 957.5 1157.2 957.6 1159.2 957.6 1161.1 957.6 1163.1 957.7 1165.1 957.7 1167.1 957.7 1169.1 957.8 1171.1 957.8 1173.1 957.8 1175.1 957.9 1177.1 957.9 1179.1 957.9 1181.1 958.0 1183.1 958.0 1185.1 958.1 1187.1 958.1 1189.1 958.1 1191.1 958.1 1193.1 958.2 1195.1 958.2 1197.1 958.2 1199.1 958.3 1201.1 958.3 1203.1 958.3 1205.1 958.4 1207.1 958.4 1209.1 958.4 1211.1 958.5 1213.1 958.5 1215.1 958.5 1217.1 958.6 1219.1 958.6 1221.1 958.6 1223.1 958.6 1225.1 958.7 1227.0 958.7 1229.0 958.7 1231.0 958.8 1233.0 958.8 1235.0 958.8 1237.0 958.8 1239.0 958.9 1241.0 958.9 1243.0 958.9 1245.0 958.9 1247.0 959.0 1249.0 959.0 1251.0 959.0 1253.0 959.0 1255.0 959.1 1257.0 959.1 1259.0 959.1 1261.0 959.1 1263.0 959.2 1265.0 959.2 1267.0 959.2 1269.0 959.2 1271.0 959.3 1273.0 959.3 1275.0 959.3 1277.0 959.3 1279.0 959.4 1281.0 959.4 1283.0 959.4 1285.0 959.4 1287.0 959.4 1289.0 959.5 1291.0 959.5 1293.0 959.5 1295.0 959.5 1297.0 959.6 1299.0 959.6 1301.0 959.6 1303.0 959.6 1305.0 959.6 1307.0 959.7 1309.0 959.7 1311.0 959.7 1313.0 959.7 1315.0 959.7 1317.0 959.8 1319.0 959.8 1321.0 959.8 1323.0 959.8 1325.0 959.8 1327.0 959.8 1329.0 959.9 1331.0 959.9 1333.0 959.9 1335.0 959.9 1337.0 959.9 1339.0 960.0 1341.0 960.0 1343.0 960.0 1345.0 960.0 1347.0 960.0 1349.0 960.0 1351.0 960.1 1353.0 960.1 1355.0 960.1 1357.0 960.1 1359.0 960.1 1361.0 960.1 1363.0 960.1 1365.0 960.2 1367.0 960.2 1369.0 960.2 1371.0 960.2 1373.0 960.2 1375.0 960.2 1377.0 960.3 1379.0 960.3 1381.0 960.3 1383.0 960.3 1385.0 960.3 1387.0 960.3 1389.0 960.3 1391.0 960.3 1393.0 960.4 1395.0 960.4 1397.0 960.4 1399.0 960.4 1401.0 960.4 1403.0 960.4 1405.0 960.4 1407.0 960.4 1409.0 960.5 1411.0 960.5 1413.0 960.5 1415.0 960.5 1417.0 960.5 1419.0 960.5 1421.0 960.5 1423.0 960.5 1425.0 960.5 1427.0 960.6 1429.0 960.6 1431.0 960.6 1433.0 960.6 1435.0 960.6 1437.0 960.6 1439.0 960.6 1441.0 960.6 1443.0 960.6 1445.0 960.6 1447.0 960.6 1449.0 960.7 1451.0 960.7 1453.0 960.7 1455.0 960.7 1457.0 960.7 1459.0 960.7 1461.0 960.7 1463.0 960.7 1465.0 960.7 1467.0 960.7 1469.0 960.7 1471.0 960.7 1473.0 960.8 1475.0 960.8 1477.0 960.8 1479.0 960.8 1481.0 960.8 1483.0 960.8 1485.0 960.8 1487.0 960.8 1489.0 960.8 1491.0 960.8 1493.0 960.8 1495.0 960.8 1497.0 960.8 1499.0 960.8 1501.0 960.8 1503.0 960.8 1505.0 960.9 1507.0 960.9 1509.0 960.9 1511.0 960.9 1513.0 960.9 1515.0 960.9 1517.0 960.9 1519.0 960.9 1521.0 960.9 1523.0 960.9 1525.0 960.9 1527.0 960.9 1529.0 960.9 1531.0 960.9 1533.0 960.9 1535.0 960.9 1537.0 960.9 1539.0 960.9 1541.0 960.9 1543.0 960.9 1545.0 960.9 1547.0 960.9 1549.1 961.0 1551.1 961.0 1553.1 961.0 1555.1 961.0 1557.1 961.0 1559.1 961.0 1561.1 961.0 1563.1 961.0 1565.1 961.0 1567.1 961.0 1569.1 961.0 1571.1 961.0 1573.1 961.0 1575.1 961.0 1577.1 961.0 1579.1 961.0 1581.1 961.0 1583.1 961.0 1585.1 961.0 1587.1 961.0 1589.1 961.0 1591.1 961.0 1593.1 961.0 1595.1 961.0 1597.1 961.0 1599.1 961.0 1601.1 961.0 1603.1 961.0 1605.1 961.0 1607.1 961.0 1609.1 961.0 1611.1 961.0 1613.1 961.0 1615.1 961.0 1617.1 961.0 1619.1 961.0 1621.1 961.0 1623.1 961.0 1625.1 961.0 1627.1 961.0 1629.1 961.0 1631.1 961.0 1633.1 961.0 1635.1 961.0 1637.1 961.0 1639.1 961.0 1641.1 961.0 1643.1 961.0 1645.1 961.0 1647.1 961.0 1649.1 961.0 1651.1 961.0 1653.1 961.0 1655.1 961.0 1657.1 961.0 1659.1 961.0 1661.1 961.0 1663.1 961.0 1665.1 961.0 1667.1 961.0 1669.1 961.0 1671.1 961.0 1673.1 961.0 1675.1 961.0 1677.1 961.0 1679.1 961.0 1681.1 961.0 1683.1 961.0 1685.1 961.0 1687.1 961.0 1689.1 961.0 1691.1 961.0 1693.1 961.0 1695.1 961.0 1697.1 961.0 1699.1 961.0 1701.1 961.0 1703.1 961.0 1705.1 961.0 1707.1 961.0 1709.1 961.0 1711.1 961.0 1713.1 961.0 1715.1 961.0 1717.1 961.0 1719.1 961.0 1721.1 961.0 1723.1 961.0 1725.1 961.0 1727.1 961.0 1729.1 961.0 1731.1 961.0 1733.1 961.0 1735.1 961.0 1737.1 961.0 1739.1 961.0 1741.1 961.0 1743.1 961.0 1745.1 961.0 1747.1 961.0 1749.1 961.0 1751.1 961.0 1753.1 961.0 1755.0 961.0 1757.0 961.0 1759.0 961.0 1761.0 961.0 1763.0 961.0 1765.0 961.0 1767.0 961.0 1769.0 961.0 1771.0 961.0 1773.0 961.0 1775.0 961.0 1777.0 961.0 1779.0 961.0 1781.0 961.0 1783.0 961.0 1785.0 961.0 1787.0 961.0 1789.0 961.0 1791.0 961.0 1793.0 961.0 1795.0 961.0 1797.0 961.0 1799.0 961.0 1801.0 961.0 1803.0 961.0 1805.0 961.0 1807.0 961.0 1809.0 961.0 1811.0 960.9 1813.0 960.9 1815.0 960.9 1817.0 960.9"/>
<path class="cv" stroke="#0000ff" stroke-dasharray="12.97 14.63" stroke-dashoffset="9.65" d="M274.8 120.5L276.8 120.6 278.8 120.6 280.8 120.6 282.8 120.6 284.9 120.6 286.9 120.6 288.9 120.6 290.9 120.6 292.9 120.6 294.9 120.6 296.9 120.6 298.9 120.6 300.9 120.6 302.9 120.6 304.9 120.6 306.9 120.6 308.9 120.6 310.9 120.5 312.9 120.5 314.9 120.5 316.9 120.5 318.9 120.5 320.9 120.5 322.9 120.5 324.9 120.5 326.9 120.5 328.9 120.4 330.9 120.4 332.9 120.4 334.9 120.4 336.9 120.4 338.9 120.4 340.9 120.4 342.9 120.4 344.9 120.4 346.9 120.3 348.9 120.3 350.9 120.3 352.8 120.3 354.8 120.3 356.8 120.3 358.8 120.3 360.8 120.3 362.8 120.3 364.8 120.3 366.8 120.3 368.8 120.3 370.8 120.3 372.7 120.3 374.7 120.3 376.7 120.3 378.7 120.3 380.7 120.3 382.7 120.3 384.7 120.3 386.7 120.4 388.7 120.4 390.6 120.4 392.6 120.4 394.6 120.4 396.6 120.4 398.6 120.5 400.6 120.5 402.6 120.5 404.6 120.6 406.6 120.6 408.6 120.6 410.6 120.7 412.6 120.7 414.6 120.8 416.5 120.8 418.5 120.9 420.5 120.9 422.5 121.0 424.5 121.0 426.5 121.1 428.5 121.1 430.5 121.2 432.5 121.3 434.5 121.4 436.5 121.4 438.5 121.5 440.5 121.6 442.5 121.7 444.5 121.8 446.5 121.9 448.5 122.0 450.6 122.1 452.6 122.2 454.6 122.3 456.6 122.4 458.6 122.5 460.6 122.6 462.6 122.7 464.6 122.8 466.6 123.0 468.6 123.1 470.6 123.2 472.6 123.3 474.7 123.4 476.7 123.6 478.7 123.7 480.7 123.8 482.7 123.9 484.7 124.1 486.7 124.2 488.7 124.3 490.7 124.5 492.7 124.6 494.8 124.7 496.8 124.8 498.8 125.0 500.8 125.1 502.8 125.2 504.8 125.4 506.8 125.5 508.8 125.6 510.8 125.7 512.8 125.9 514.8 126.0 516.8 126.1 518.9 126.2 520.9 126.4 522.9 126.5 524.9 126.6 526.9 126.7 528.9 126.8 530.9 126.9 532.9 127.0 534.9 127.1 536.9 127.2 538.9 127.3 540.9 127.4 542.9 127.5 544.9 127.6 546.8 127.7 548.8 127.8 550.8 127.9 552.8 128.0 554.8 128.1 556.8 128.1 558.8 128.2 560.8 128.3 562.8 128.3 564.7 128.4 566.7 128.5 568.7 128.5 570.7 128.6 572.7 128.6 574.7 128.7 576.6 128.7 578.6 128.8 580.6 128.8 582.6 128.9 584.6 128.9 586.5 129.0 588.5 129.0 590.5 129.0 592.5 129.1 594.5 129.1 596.4 129.2 598.4 129.2 600.4 129.2 602.4 129.2 604.4 129.3 606.3 129.3 608.3 129.3 610.3 129.4 612.3 129.4 614.3 129.4 616.2 129.4 618.2 129.5 620.2 129.5 622.2 129.5 624.2 129.5 626.1 129.5 628.1 129.6 630.1 129.6 632.1 129.6 634.1 129.6 636.0 129.6 638.0 129.7 640.0 129.7 642.0 129.7 644.0 129.7 646.0 129.7 648.0 129.8 650.0 129.8 652.0 129.8 653.9 129.8 655.9 129.9 657.9 129.9 659.9 129.9 661.9 129.9 663.9 130.0 665.9 130.0 667.9 130.0 669.9 130.1 671.9 130.1 673.9 130.1 675.9 130.2 677.9 130.2 680.0 130.2 682.0 130.3 684.0 130.3 686.0 130.4 688.0 130.4 690.0 130.5 692.0 130.5 694.1 130.6 696.1 130.6 698.1 130.7 700.1 130.7 702.2 130.8 704.2 130.8 706.2 130.9 708.3 131.0 710.3 131.1 712.3 131.1 714.4 131.2 716.4 131.3 718.5 131.4 720.5 131.4 722.6 131.5 724.6 131.6 726.7 131.7 728.7 131.8 730.8 131.9 732.8 132.0 734.9 132.2 736.9 132.3 739.0 132.5 741.0 132.6 743.0 132.8 745.1 133.0 747.1 133.2 749.1 133.4 751.1 133.6 753.2 133.9 755.2 134.1 757.2 134.4 759.1 134.7 761.1 135.1 763.1 135.4 765.0 135.8 767.0 136.2 768.9 136.6 770.8 137.1 772.7 137.5 774.6 138.1 776.5 138.6 778.4 139.2 780.2 139.8 782.0 140.4 783.8 141.0 785.6 141.7 787.4 142.5 789.2 143.2 790.0 143.6"/>
<path class="cv" stroke="#0000ff" stroke-dasharray="14.15 15.95" stroke-dashoffset="0.95" d="M790.0 143.6L791.8 144.5 793.5 145.3 795.2 146.2 796.8 147.2 798.5 148.2 800.1 149.2 801.7 150.3 803.3 151.4 804.8 152.5 806.3 153.7 807.8 155.0 809.3 156.3 810.7 157.6 812.2 159.0 813.5 160.5 814.9 161.9 816.3 163.4 817.6 165.0 818.9 166.6 820.1 168.2 821.4 169.8 822.6 171.5 823.8 173.2 824.9 174.9 826.1 176.6 827.2 178.4 828.3 180.1 829.3 181.9 830.4 183.7 831.4 185.5 832.4 187.4 833.3 189.2 834.3 191.0 835.2 192.9 836.1 194.7 837.0 196.6 837.9 198.4 838.7 200.2 839.5 202.1 840.3 203.9 841.1 205.7 841.8 207.5 842.6 209.4 843.3 211.2 844.0 213.0 844.7 214.9 845.4 216.7 846.1 218.6 846.8 220.4 847.4 222.3 848.1 224.1 848.7 226.0 849.4 227.9 850.0 229.7 850.6 231.6 851.2 233.5 851.9 235.4 852.4 237.3 853.0 239.1 853.6 241.0 854.2 242.9 854.8 244.8 855.3 246.8 855.9 248.7 856.4 250.6 857.0 252.5 857.5 254.4 858.0 256.3 858.6 258.3 859.1 260.2 859.6 262.1 860.1 264.0 860.6 266.0 861.1 267.9 861.6 269.9 862.0 271.8 862.5 273.7 863.0 275.7 863.5 277.6 863.9 279.6 864.4 281.5 864.8 283.5 865.3 285.4 865.7 287.4 866.2 289.3 866.6 291.3 867.1 293.3 867.5 295.2 867.9 297.2 868.4 299.1 868.8 301.1 869.2 303.0 869.6 305.0 870.0 307.0 870.5 308.9 870.9 310.9 871.3 312.8 871.7 314.8 872.1 316.8 872.5 318.7 872.9 320.7 873.3 322.7 873.7 324.6 874.1 326.6 874.5 328.5 874.9 330.5 875.3 332.5 875.6 334.4 876.0 336.4 876.4 338.4 876.8 340.3 877.2 342.3 877.5 344.3 877.9 346.2 878.3 348.2 878.6 350.2 879.0 352.1 879.4 354.1 879.7 356.1 880.1 358.1 880.4 360.0 880.8 362.0 881.1 364.0 881.5 365.9 881.8 367.9 882.2 369.9 882.5 371.8 882.8 373.8 883.2 375.8 883.5 377.8 883.8 379.7 884.2 381.7 884.5 383.7 884.8 385.7 885.1 387.6 885.5 389.6 885.8 391.6 886.1 393.6 886.4 395.5 886.7 397.5 887.0 399.5 887.3 401.5 887.7 403.4 888.0 405.4 888.3 407.4 888.6 409.4 888.9 411.4 889.2 413.3 889.5 415.3 889.8 417.3 890.0 419.3 890.3 421.2 890.6 423.2 890.9 425.2 891.2 427.2 891.5 429.2 891.8 431.1 892.0 433.1 892.3 435.1 892.6 437.1 892.9 439.1 893.1 441.1 893.4 443.0 893.7 445.0 893.9 447.0 894.2 449.0 894.5 451.0 894.7 452.9 895.0 454.9 895.2 456.9 895.5 458.9 895.8 460.9 896.0 462.9 896.3 464.9 896.5 466.8 896.8 468.8 897.0 470.8 897.3 472.8 897.5 474.8 897.7 476.8 898.0 478.7 898.2 480.7 898.5 482.7 898.7 484.7 898.9 486.7 899.2 488.7 899.4 490.7 899.6 492.7 899.8 494.6 900.1 496.6 900.3 498.6 900.5 500.6 900.8 502.6 901.0 504.6 901.2 506.6 901.4 508.6 901.6 510.5 901.8 512.5 902.1 514.5 902.3 516.5 902.5 518.5 902.7 520.5 902.9 522.5 903.1 524.5 903.3 526.5 903.5 528.5 903.7 530.4 903.9 532.4 904.1 534.4 904.3 536.4 904.5 538.4 904.7 540.4 904.9 542.4 905.1 544.4 905.3 546.4 905.5 548.4 905.7 550.4 905.9 552.3 906.1 554.3 906.3 556.3 906.5 558.3 906.7 560.3 906.9 562.3 907.0 564.3 907.2 566.3 907.4 568.3 907.6 570.3 907.8 572.3 908.0 574.3 908.1 576.2 908.3 578.2 908.5 580.2 908.7 582.2 908.9 584.2 909.0 586.2 909.2 588.2 909.4 590.2 909.5 592.2 909.7 594.2 909.9 596.2 910.1 598.2 910.2 600.2 910.4 602.2 910.6 604.2 910.7 606.1 910.9 608.1 911.1 610.1 911.2 612.1 911.4 614.1 911.6 616.1 911.7 618.1 911.9 620.1 912.0 622.1 912.2 624.1 912.4 626.1 912.5 628.1 912.7 630.1 912.8 632.1 913.0 634.1 913.2 636.0 913.3 638.0 913.5 640.0 913.6 642.0 913.8 644.0 913.9 646.0 914.1 648.0 914.2 650.0 914.4 652.0 914.5 654.0 914.7 656.0 914.8 658.0 915.0 660.0 915.1 662.0 915.3 664.0 915.4 665.9 915.6 667.9 915.7 669.9 915.9 671.9 916.0 673.9 916.2 675.9 916.3 677.9 916.5 679.9 916.6 681.9 916.8 683.9 916.9 685.9 917.1 687.9 917.2 689.9 917.4 691.9 917.5 693.8 917.6 695.8 917.8 697.8 917.9 699.8 918.1 701.8 918.2 703.8 918.4 705.8 918.5 707.8 918.6 709.8 918.8 711.8 918.9 713.8 919.1 715.8 919.2 717.8 919.4 719.7 919.5 721.7 919.6 723.7 919.8 725.7 919.9 727.7 920.1 729.7 920.2 731.7 920.4 733.7 920.5 735.7 920.6 737.7 920.8 739.6 920.9 741.6 921.1 743.6 921.2 745.6 921.4 747.6 921.5 749.6 921.6 751.6 921.8 753.6 921.9 755.6 922.1 757.6 922.2 759.5 922.4 761.5 922.5 763.5 922.6 765.5 922.8 767.5 922.9 769.5 923.1 771.5 923.2 773.5 923.4 775.4 923.5 777.4 923.6 779.4 923.8 781.4 923.9 783.4 924.1 785.4 924.2 787.4 924.4 789.4 924.5 791.3 924.7 793.3 924.8 795.3 925.0 797.3 925.1 799.3 925.3 801.3 925.4 803.3 925.6 805.3 925.7 807.2 925.9 809.2 926.0 811.2 926.2 813.2 926.4 815.2 926.5 817.2 926.7 819.2 926.8 821.2 927.0 823.2 927.2 825.2 927.3 827.2 927.5 829.1 927.6 831.1 927.8 833.1 928.0 835.1 928.2 837.1 928.3 839.1 928.5 841.1 928.7 843.1 928.8 845.1 929.0 847.1 929.2 849.1 929.4 851.1 929.6 853.1 929.7 855.1 929.9 857.1 930.1 859.1 930.3 861.1 930.5 863.1 930.7 865.2 930.9 867.2 931.1 869.2 931.3 871.2 931.5 873.2 931.7 875.2 931.9 877.2 932.1 879.2 932.3 881.3 932.5 883.3 932.7 885.3 932.9 887.3 933.1 889.3 933.4 891.4 933.6 893.4 933.8 895.4 934.0 897.5 934.3 899.5 934.5 901.5 934.7 903.5 935.0 905.6 935.2 907.6 935.5 909.6 935.9 911.6 936.3 913.5 936.8 915.3 937.4 917.1 938.2 918.8 939.1 920.4 940.1 921.9 940.7 922.6"/>
<path class="cv" stroke="#0000ff" stroke-dasharray="13.39 15.11" stroke-dashoffset="10.03" d="M940.7 922.6L942.0 923.9 943.4 925.0 945.0 926.1 946.7 927.1 948.4 928.0 950.2 928.8 952.1 929.5 954.0 930.1 955.9 930.7 957.9 931.2 959.9 931.7 961.9 932.1 963.9 932.5 965.9 932.9 967.9 933.3 970.0 933.7 972.0 934.1 974.0 934.5 976.0 934.8 978.0 935.2 980.0 935.6 982.0 935.9 984.0 936.3 986.0 936.6 988.0 937.0 990.0 937.3 992.0 937.7 994.0 938.0 996.0 938.4 998.0 938.7 999.9 939.0 1001.9 939.4 1003.9 939.7 1005.9 940.0 1007.9 940.3 1009.8 940.6 1011.8 940.9 1013.8 941.2 1015.8 941.5 1017.7 941.8 1019.7 942.1 1021.7 942.4 1023.6 942.7 1025.6 942.9 1027.6 943.2 1029.6 943.5 1031.5 943.7 1033.5 944.0 1035.5 944.2 1037.4 944.4 1039.4 944.7 1041.4 944.9 1043.4 945.1 1045.3 945.3 1047.3 945.6 1049.3 945.8 1051.3 946.0 1053.2 946.1 1055.2 946.3 1057.2 946.5 1059.2 946.7 1061.2 946.9 1063.1 947.0 1065.1 947.2 1067.1 947.3 1069.1 947.5 1071.1 947.6 1073.1 947.8 1075.0 947.9 1077.0 948.0 1079.0 948.2 1081.0 948.3 1083.0 948.4 1085.0 948.5 1087.0 948.6 1089.0 948.7 1091.0 948.8 1093.0 948.9 1095.0 949.0 1096.9 949.1 1098.9 949.2 1100.9 949.2 1102.9 949.3 1104.9 949.4 1106.9 949.5 1108.9 949.5 1110.9 949.6 1112.9 949.7 1114.9 949.7 1116.9 949.8 1118.9 949.8 1120.9 949.9 1122.9 949.9 1124.9 950.0 1126.9 950.0 1128.9 950.0 1130.9 950.1 1132.9 950.1 1134.9 950.1 1136.9 950.2 1138.9 950.2 1140.9 950.2 1142.9 950.3 1144.9 950.3 1146.9 950.3 1149.0 950.3 1151.0 950.3 1153.0 950.4 1155.0 950.4 1157.0 950.4 1159.0 950.4 1161.0 950.4 1163.0 950.5 1165.0 950.5 1167.0 950.5 1169.0 950.5 1171.0 950.5 1173.0 950.5 1175.0 950.5 1177.0 950.6 1179.0 950.6 1181.0 950.6 1183.0 950.6 1185.0 950.6 1187.0 950.6 1189.0 950.7 1191.0 950.7 1193.0 950.7 1195.0 950.7 1197.0 950.7 1199.1 950.7 1201.1 950.7 1203.1 950.8 1205.1 950.8 1207.1 950.8 1209.1 950.8 1211.1 950.8 1213.1 950.8 1215.1 950.9 1217.1 950.9 1219.1 950.9 1221.1 950.9 1223.1 950.9 1225.1 950.9 1227.1 950.9 1229.1 951.0 1231.1 951.0 1233.1 951.0 1235.1 951.0 1237.1 951.0 1239.1 951.0 1241.1 951.1 1243.1 951.1 1245.1 951.1 1247.1 951.1 1249.1 951.1 1251.1 951.1 1253.1 951.1 1255.1 951.2 1257.1 951.2 1259.1 951.2 1261.1 951.2 1263.1 951.2 1265.1 951.2 1267.1 951.3 1269.1 951.3 1271.1 951.3 1273.1 951.3 1275.1 951.3 1277.1 951.3 1279.1 951.3 1281.1 951.4 1283.1 951.4 1285.1 951.4 1287.1 951.4 1289.1 951.4 1291.1 951.4 1293.1 951.4 1295.1 951.5 1297.1 951.5 1299.1 951.5 1301.1 951.5 1303.1 951.5 1305.1 951.5 1307.1 951.5 1309.1 951.6 1311.1 951.6 1313.1 951.6 1315.1 951.6 1317.1 951.6 1319.1 951.6 1321.1 951.6 1323.2 951.7 1325.2 951.7 1327.2 951.7 1329.2 951.7 1331.2 951.7 1333.2 951.7 1335.1 951.7 1337.1 951.8 1339.1 951.8 1341.1 951.8 1343.1 951.8 1345.1 951.8 1347.1 951.8 1349.1 951.8 1351.1 951.9 1353.1 951.9 1355.1 951.9 1357.1 951.9 1359.1 951.9 1361.1 951.9 1363.1 951.9 1365.1 951.9 1367.1 952.0 1369.1 952.0 1371.1 952.0 1373.1 952.0 1375.1 952.0 1377.1 952.0 1379.1 952.0 1381.1 952.0 1383.1 952.1 1385.1 952.1 1387.1 952.1 1389.1 952.1 1391.1 952.1 1393.1 952.1 1395.1 952.1 1397.1 952.1 1399.1 952.2 1401.1 952.2 1403.1 952.2 1405.1 952.2 1407.1 952.2 1409.1 952.2 1411.1 952.2 1413.1 952.2 1415.1 952.3 1417.1 952.3 1419.1 952.3 1421.1 952.3 1423.1 952.3 1425.1 952.3 1427.1 952.3 1429.1 952.3 1431.1 952.3 1433.1 952.4 1435.1 952.4 1437.1 952.4 1439.1 952.4 1441.1 952.4 1443.1 952.4 1445.1 952.4 1447.1 952.4 1449.1 952.4 1451.1 952.4 1453.1 952.5 1455.1 952.5 1457.1 952.5 1459.1 952.5 1461.1 952.5 1463.1 952.5 1465.1 952.5 1467.1 952.5 1469.1 952.5 1471.1 952.5 1473.1 952.5 1475.1 952.6 1477.1 952.6 1479.1 952.6 1481.1 952.6 1483.1 952.6 1485.1 952.6 1487.1 952.6 1489.1 952.6 1491.1 952.6 1493.1 952.6 1495.1 952.6 1497.1 952.6 1499.1 952.7 1501.1 952.7 1503.1 952.7 1505.0 952.7 1507.0 952.7 1509.0 952.7 1511.0 952.7 1513.0 952.7 1515.0 952.7 1517.0 952.7 1519.0 952.7 1521.0 952.7 1523.0 952.7 1525.0 952.7 1527.0 952.7 1529.0 952.8 1531.0 952.8 1533.0 952.8 1535.0 952.8 1537.0 952.8 1539.0 952.8 1541.0 952.8 1543.0 952.8 1545.0 952.8 1547.0 952.8 1549.0 952.8 1551.0 952.8 1553.0 952.8 1555.0 952.8 1557.0 952.8 1559.0 952.8 1561.0 952.8 1563.0 952.8 1565.0 952.8 1567.0 952.8 1569.0 952.8 1571.0 952.8 1573.0 952.8 1575.0 952.9 1577.0 952.9 1579.0 952.9 1581.0 952.9 1583.0 952.9 1585.0 952.9 1587.0 952.9 1589.0 952.9 1591.0 952.9 1593.0 952.9 1595.0 952.9 1597.0 952.9 1599.0 952.9 1601.0 952.9 1603.0 952.9 1605.0 952.9 1607.0 952.9 1609.0 952.9 1611.0 952.9 1613.0 952.9 1615.0 952.9 1617.0 952.9 1619.0 952.9 1621.0 952.9 1623.0 952.9 1625.0 952.9 1627.0 952.9 1629.0 952.9 1631.0 952.9 1633.0 952.9 1634.9 952.9 1636.9 952.9 1638.9 952.9 1640.9 952.9 1642.9 952.9 1644.9 952.9 1646.9 952.9 1648.9 952.9 1650.9 952.9 1652.9 952.8 1654.9 952.8 1656.9 952.8 1658.9 952.8 1660.9 952.8 1662.9 952.8 1664.9 952.8 1666.9 952.8 1668.9 952.8 1670.9 952.8 1672.9 952.8 1674.9 952.8 1676.9 952.8 1678.9 952.8 1680.9 952.8 1682.9 952.8 1684.9 952.8 1686.9 952.8 1688.9 952.8 1690.9 952.8 1692.9 952.8 1694.9 952.7 1696.9 952.7 1698.9 952.7 1700.9 952.7 1702.9 952.7 1704.9 952.7 1706.9 952.7 1708.9 952.7 1710.9 952.7 1712.9 952.7 1714.9 952.7 1716.9 952.7 1718.9 952.7 1720.9 952.6 1722.9 952.6 1724.9 952.6 1726.9 952.6 1728.9 952.6 1730.9 952.6 1732.9 952.6 1734.9 952.6 1736.9 952.6 1738.9 952.6 1740.9 952.5 1742.9 952.5 1744.9 952.5 1746.9 952.5 1748.9 952.5 1750.9 952.5 1753.0 952.5 1755.0 952.5 1757.0 952.5 1759.0 952.4 1761.0 952.4 1763.0 952.4 1765.0 952.4 1767.0 952.4 1769.0 952.4 1771.0 952.4 1773.0 952.3 1775.0 952.3 1777.0 952.3 1779.0 952.3 1781.0 952.3 1783.0 952.3 1785.0 952.3 1787.0 952.2 1789.0 952.2 1791.0 952.2 1793.0 952.2 1795.0 952.2 1797.0 952.2 1799.0 952.1 1801.0 952.1 1803.0 952.1 1805.0 952.1 1807.0 952.1 1809.0 952.1 1811.0 952.0 1813.0 952.0 1815.0 952.0 1817.0 952.0"/>
</g>
<rect class="ax" x="269.5" y="17.4" width="1549.3" height="1252.0"/>
<g class="ax">
<line x1="428.4" y1="1271.2" x2="428.4" y2="1293.8"/>
<line x1="627.0" y1="1271.2" x2="627.0" y2="1293.8"/>
<line x1="825.7" y1="1271.2" x2="825.7" y2="1293.8"/>
<line x1="1024.3" y1="1271.2" x2="1024.3" y2="1293.8"/>
<line x1="1222.9" y1="1271.2" x2="1222.9" y2="1293.8"/>
<line x1="1421.5" y1="1271.2" x2="1421.5" y2="1293.8"/>
<line x1="1620.2" y1="1271.2" x2="1620.2" y2="1293.8"/>
<line x1="1818.8" y1="1271.2" x2="1818.8" y2="1293.8"/>
<line x1="267.6" y1="1247.0" x2="245.1" y2="1247.0"/>
<line x1="267.6" y1="1023.5" x2="245.1" y2="1023.5"/>
<line x1="267.6" y1="799.9" x2="245.1" y2="799.9"/>
<line x1="267.6" y1="576.3" x2="245.1" y2="576.3"/>
<line x1="267.6" y1="352.8" x2="245.1" y2="352.8"/>
<line x1="267.6" y1="129.2" x2="245.1" y2="129.2"/>
</g>
<g class="tick" text-anchor="middle">
<text x="428.4" y="1352.1">100</text>
<text x="627.0" y="1352.1">200</text>
<text x="825.7" y="1352.1">300</text>
<text x="1024.3" y="1352.1">400</text>
<text x="1222.9" y="1352.1">500</text>
<text x="1421.5" y="1352.1">600</text>
<text x="1620.2" y="1352.1">700</text>
<text x="1818.8" y="1352.1">800</text>
</g>
<g class="tick" text-anchor="end">
<text x="228.8" y="1262.6">0</text>
<text x="228.8" y="1039.1">20</text>
<text x="228.8" y="815.5">40</text>
<text x="228.8" y="591.9">60</text>
<text x="228.8" y="368.4">80</text>
<text x="228.8" y="144.8">100</text>
</g>
<text class="title" text-anchor="middle" x="1044.5" y="1428.7">Temperature (ºC)</text>
<text class="title" text-anchor="middle" transform="translate(76.2 620.8) rotate(-90)" style="letter-spacing:0.06px">Weight loss (%)</text>
<rect x="1363.9" y="22.9" width="449.2" height="482.1" fill="#ffffff" stroke="#000" stroke-width="1.7"/>
<line class="cv" stroke="#000000" x1="1369.5" y1="53.6" x2="1469.4" y2="53.6"/>
<text class="leg" x="1479.4" y="67.9">PLA-0d</text>
<line class="cv ds" stroke="#000000" x1="1369.5" y1="109.0" x2="1469.4" y2="109.0"/>
<text class="leg" x="1479.4" y="123.7">PLA-21d</text>
<line class="cv" stroke="#ff0000" x1="1369.5" y1="169.9" x2="1469.4" y2="169.9"/>
<text class="leg" x="1479.4" y="184.8">PLA/10βTCP-0d</text>
<line class="cv ds" stroke="#ff0000" x1="1369.5" y1="230.9" x2="1469.4" y2="230.9"/>
<text class="leg" x="1479.4" y="244.9">PLA/10βTCP-21d</text>
<line class="cv" stroke="#00ff00" x1="1369.5" y1="291.8" x2="1469.4" y2="291.8"/>
<text class="leg" x="1479.4" y="305.8">PLA/20βTCP-0d</text>
<line class="cv ds" stroke="#00ff00" x1="1369.5" y1="352.7" x2="1469.4" y2="352.7"/>
<text class="leg" x="1479.4" y="366.8">PLA/20βTCP-21d</text>
<line class="cv" stroke="#0000ff" x1="1369.5" y1="413.7" x2="1469.4" y2="413.7"/>
<text class="leg" x="1479.4" y="427.7">PLA/25βTCP-0d</text>
<line class="cv ds" stroke="#0000ff" x1="1369.5" y1="474.6" x2="1469.4" y2="474.6"/>
<text class="leg" x="1479.4" y="488.9">PLA/25βTCP-21d</text>
</svg>
</body>
</html>
